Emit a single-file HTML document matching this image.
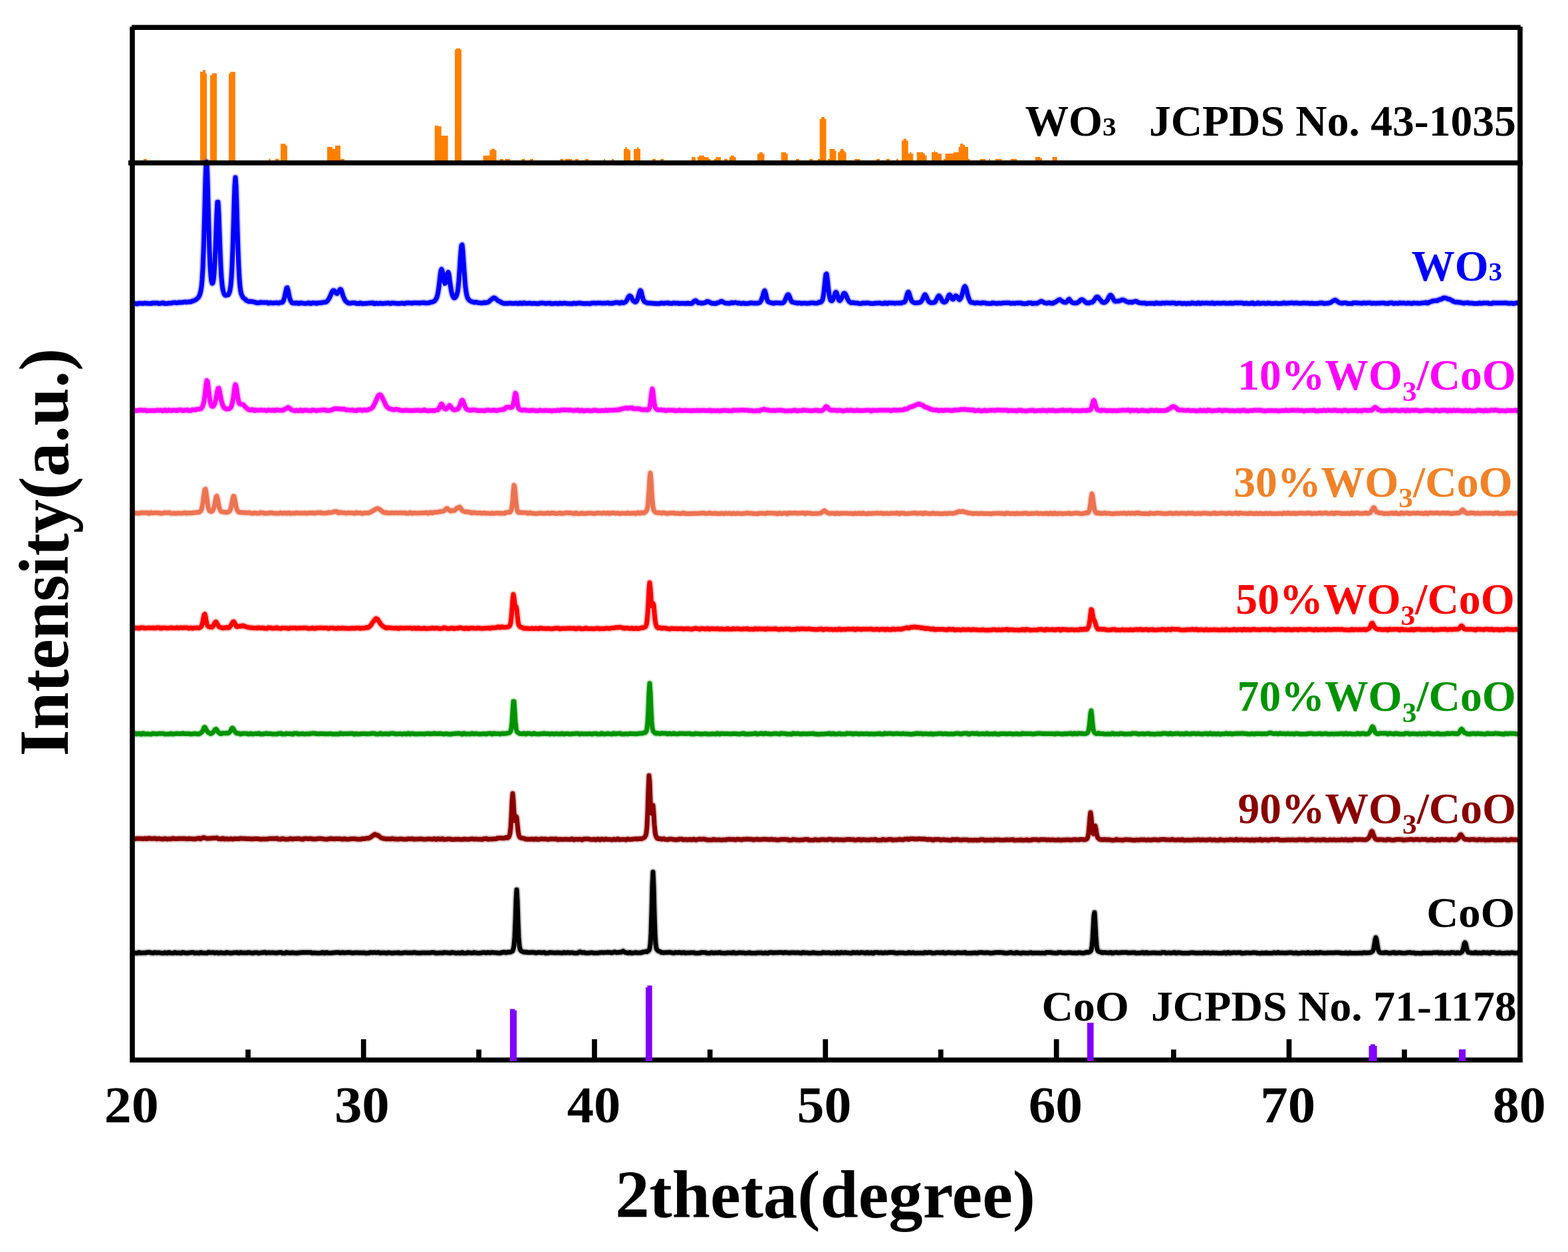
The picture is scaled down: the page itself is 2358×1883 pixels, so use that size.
<!DOCTYPE html>
<html><head><meta charset="utf-8"><title>XRD patterns</title>
<style>html,body{margin:0;padding:0;background:#fff;overflow:hidden}svg{display:block}</style>
</head><body>
<svg width="2358" height="1883" viewBox="0 0 2358 1883"><rect width="2358" height="1883" fill="#fff"/><path d="M215.9,239.0H220.6V245H215.9ZM301.0,108.0H305.0V245H301.0ZM305.0,105.3H309.0V245H305.0ZM309.0,110.5H311.0V245H309.0ZM316.0,113.0H319.0V245H316.0ZM319.0,110.2H326.1V245H319.0ZM344.0,110.5H346.5V245H344.0ZM346.5,108.0H353.8V245H346.5ZM404.2,238.8H406.8V245H404.2ZM414.2,238.8H419.4V245H414.2ZM422.0,216.2H429.5V245H422.0ZM429.5,219.0H432.0V245H429.5ZM492.0,221.0H500.0V245H492.0ZM500.0,224.0H504.0V245H500.0ZM504.0,219.0H512.0V245H504.0ZM512.0,239.0H518.0V245H512.0ZM653.7,189.0H659.0V245H653.7ZM659.0,190.0H663.7V245H659.0ZM663.7,204.0H673.7V245H663.7ZM684.0,74.5H686.0V245H684.0ZM686.0,72.8H692.0V245H686.0ZM692.0,74.5H694.0V245H692.0ZM726.6,234.0H736.3V245H726.6ZM736.3,226.0H739.0V245H736.3ZM739.0,223.7H744.0V245H739.0ZM744.0,226.0H746.6V245H744.0ZM751.6,239.0H757.0V245H751.6ZM759.4,239.0H767.0V245H759.4ZM784.5,239.0H789.4V245H784.5ZM797.0,239.0H802.0V245H797.0ZM842.3,239.0H847.3V245H842.3ZM850.0,239.0H860.0V245H850.0ZM865.0,239.0H870.0V245H865.0ZM880.0,239.0H885.0V245H880.0ZM908.0,239.0H910.0V245H908.0ZM920.0,239.0H923.0V245H920.0ZM938.0,224.0H940.2V245H938.0ZM940.2,221.4H942.8V245H940.2ZM942.8,224.0H945.5V245H942.8ZM945.5,226.0H948.0V245H945.5ZM953.0,224.0H958.0V245H953.0ZM958.0,221.4H960.5V245H958.0ZM960.5,224.0H963.0V245H960.5ZM981.0,239.0H986.0V245H981.0ZM993.0,239.0H998.0V245H993.0ZM1040.0,236.2H1046.0V245H1040.0ZM1049.0,236.2H1051.0V245H1049.0ZM1051.0,234.0H1058.8V245H1051.0ZM1058.8,236.2H1065.7V245H1058.8ZM1065.7,239.0H1068.5V245H1065.7ZM1074.0,239.0H1076.5V245H1074.0ZM1076.5,236.2H1084.0V245H1076.5ZM1089.0,239.0H1094.0V245H1089.0ZM1096.8,236.2H1099.0V245H1096.8ZM1099.0,234.0H1104.0V245H1099.0ZM1104.0,236.2H1106.8V245H1104.0ZM1139.0,231.2H1142.0V245H1139.0ZM1142.0,228.9H1146.8V245H1142.0ZM1146.8,231.2H1149.5V245H1146.8ZM1174.7,228.9H1182.0V245H1174.7ZM1182.0,231.2H1184.7V245H1182.0ZM1197.0,239.0H1202.0V245H1197.0ZM1217.4,239.0H1222.3V245H1217.4ZM1230.0,239.0H1232.7V245H1230.0ZM1232.7,178.8H1235.2V245H1232.7ZM1235.2,176.0H1240.0V245H1235.2ZM1240.0,178.8H1242.5V245H1240.0ZM1245.0,239.0H1247.6V245H1245.0ZM1247.6,224.0H1255.0V245H1247.6ZM1255.0,226.5H1257.5V245H1255.0ZM1260.0,228.9H1262.6V245H1260.0ZM1262.6,226.5H1264.0V245H1262.6ZM1264.0,224.0H1268.2V245H1264.0ZM1268.2,226.5H1270.3V245H1268.2ZM1270.3,228.9H1272.6V245H1270.3ZM1285.3,239.0H1293.0V245H1285.3ZM1318.0,239.0H1323.0V245H1318.0ZM1333.0,239.0H1338.0V245H1333.0ZM1348.0,239.0H1350.8V245H1348.0ZM1356.0,211.4H1358.6V245H1356.0ZM1358.6,208.8H1363.1V245H1358.6ZM1363.1,211.4H1365.7V245H1363.1ZM1365.7,231.0H1368.0V245H1365.7ZM1368.0,229.0H1370.5V245H1368.0ZM1370.5,231.0H1373.2V245H1370.5ZM1378.7,229.0H1388.5V245H1378.7ZM1388.5,231.0H1391.0V245H1388.5ZM1391.0,234.0H1393.6V245H1391.0ZM1401.0,229.0H1404.8V245H1401.0ZM1404.8,226.4H1406.3V245H1404.8ZM1406.3,229.0H1410.3V245H1406.3ZM1410.3,231.0H1416.0V245H1410.3ZM1419.0,239.0H1421.6V245H1419.0ZM1421.6,231.0H1434.0V245H1421.6ZM1434.0,229.0H1441.7V245H1434.0ZM1441.7,221.0H1444.0V245H1441.7ZM1444.0,216.0H1448.5V245H1444.0ZM1448.5,218.0H1451.0V245H1448.5ZM1451.0,221.0H1456.0V245H1451.0ZM1456.0,239.0H1458.6V245H1456.0ZM1474.0,239.0H1482.0V245H1474.0ZM1487.0,239.0H1489.0V245H1487.0ZM1497.0,239.0H1506.6V245H1497.0ZM1519.6,239.0H1529.0V245H1519.6ZM1557.0,236.1H1564.5V245H1557.0ZM1564.5,238.0H1567.0V245H1564.5ZM1582.6,236.1H1589.7V245H1582.6Z" fill="#ff8000"/><g fill="none" stroke-linejoin="round" stroke-linecap="butt"><path d="M199,456.3l1 0l1 0l1 .1l1 0l1 0l1 .5l1 0l1 0l1-.6l1 0l1 0l1 0l1 0l1 0l1 .1l1 0l1 0l1-.5l1 0l1 0l1 .4l1 0l1 0l1 .1l1 0l1 0l1 .2l1 0l1 0l1-.9l1 0l1 0l1 .3l1-.1l1 0l1-.2l1 0l1 0l1 .8l1 0l1 0l1-.2l1 0l1 0l1-.8l1 0l1 0l1 1.1l1 0l1 0l1-.1l1 0l1 0l1-.4l1 0l1-.1l1 0l1 0l1-.1l1-.6l1 0l1 0l1-.2l1 0l1-.1l1 .6l1 0l1-.1l1-.6l1 0l1-.1l1 .1l1 0l1-.1l1 0l1-.1l1-.1l1-.3l1-.1l1-.1l1 .4l1-.1l1-.1l1-.2l1-.2l1-.1l1 .3l1-.3l1-.2l1-.7l1-.3l1-.3l1-.3l1-.4l1-.6l1-.8l1-.8l1-.9l1-.9l1-1.4l1-1.9l1-2.9l1-4l1-6.3l1-10.6l1-16.5l1-24.3l1-31.9l1-39.1l1-38.8l1-26l1-.4l1 25.3l1 37.8l1 38.3l1 31.7l1 23l1 15l1 8.5l1 3l1-.5l1-4.7l1-9.7l1-15.6l1-21.7l1-26.3l1-26.2l1-17.4l1 .1l1 18.2l1 27l1 28.1l1 22.7l1 16.8l1 10.9l1 7l1 4.2l1 3l1 1.4l1 .8l1-.2l1 0l1-.4l1-.1l1-1.3l1-2.3l1-4.1l1-6.7l1-11.2l1-18.3l1-24.8l1-31.6l1-34.6l1-29.6l1-12.1l1 13.1l1 30l1 35.1l1 31.3l1 25l1 17.7l1 12.1l1 7.1l1 4.3l1 2.1l1 1.9l1 1.4l1 .7l1 .8l1 .7l1 1.3l1 .5l1 .4l1 .6l1 .3l1 .3l1-.4l1 .2l1 .2l1 0l1 .1l1 .2l1 .4l1 .1l1 .1l1 .8l1 .1l1 .1l1-.2l1 .1l1 0l1-.7l1 .1l1 0l1 .2l1 .1l1 0l1-.1l1 0l1 0l1 0l1 0l1 .1l1 .9l1 0l1 0l1-.7l1 0l1 0l1 .4l1 .1l1 0l1-.2l1 0l1 0l1-.3l1 0l1-.1l1 .7l1-.1l1-.1l1-.8l1-.1l1-.2l1 .3l1-.6l1-1.3l1-2.9l1-3.5l1-4.8l1-4.8l1-3.9l1-.4l1 3.1l1 5.1l1 4.9l1 4l1 2.5l1 1.4l1 1.6l1 .4l1 .2l1-.1l1 .1l1 .1l1-.5l1 0l1 .1l1 .7l1 .1l1 0l1-.8l1 0l1 0l1 .3l1 0l1 0l1 .5l1 0l1 0l1-.2l1 0l1 0l1-.7l1 0l1 0l1 1.1l1 0l1 0l1-.9l1-.1l1 0l1 .1l1 0l1-.1l1 .6l1 0l1 0l1-.6l1 0l1 0l1-.1l1-.1l1 0l1-.4l1 0l1-.1l1-.2l1-.2l1-.3l1 .2l1-.6l1-.8l1-1.5l1-1.4l1-1.7l1-1.6l1-2.3l1-2.3l1-2.4l1-1.8l1-1l1-.1l1 .5l1 1.2l1 1.8l1 .9l1 .2l1-1.2l1-1.3l1-1.8l1-1.6l1-.6l1 .9l1 2.8l1 3.3l1 3.4l1 2.2l1 2.4l1 1.8l1 1.2l1 .8l1 .5l1 1.2l1 .2l1 .2l1 0l1 .1l1 0l1-.6l1 .1l1 0l1 0l1 0l1 0l1 .7l1 .1l1 0l1 .2l1 .1l1 0l1-.9l1 0l1 0l1 .9l1 .1l1 0l1-.1l1 0l1 0l1-.3l1 0l1 0l1-.2l1 0l1 0l1-.4l1 0l1 0l1-.1l1 0l1 0l1 1.2l1 0l1 0l1-.9l1 0l1 0l1 .6l1 0l1 0l1-.6l1 0l1 0l1 .7l1 0l1 0l1-.3l1 0l1 0l1-.3l1 0l1 0l1-.2l1 0l1 0l1 .7l1 0l1 0l1-.8l1 0l1 0l1 .2l1 0l1 0l1 .4l1 0l1 0l1 .3l1 0l1 0l1-.3l1 0l1 0l1-.4l1 0l1 0l1 .7l1 0l1 0l1-.8l1 0l1-.1l1-.2l1 0l1 0l1 .3l1 0l1 0l1 .2l1-.1l1 0l1-.5l1 0l1 0l1 .1l1 0l1 0l1 .2l1 0l1-.1l1 .3l1-.1l1 0l1-.6l1 0l1 0l1 .2l1-.1l1 0l1 .5l1 0l1-.1l1 0l1-.1l1-.1l1-.5l1-.2l1-.2l1-.1l1-.3l1-.3l1-.5l1-.5l1-.6l1-1.5l1-1.5l1-2.3l1-3.6l1-5.1l1-6.7l1-8.3l1-8.7l1-7.3l1-2.3l1 2l1 5.7l1 6.3l1 5l1 2.3l1-.6l1-3.6l1-5.2l1-5.9l1-1.6l1 2.8l1 7l1 7.4l1 6.9l1 5.4l1 4l1 2.7l1 1.8l1 .6l1 0l1-1.1l1-1.5l1-2.7l1-3.6l1-6.9l1-9.9l1-14l1-15l1-14.6l1-9.5l1-.9l1 8.6l1 14.6l1 15.3l1 13.6l1 11l1 7.7l1 5.2l1 3.1l1 2.1l1 1.3l1 .9l1 .7l1 .5l1 .6l1 .3l1 .3l1 .4l1 .2l1 .2l1-.5l1 .1l1 .1l1 .5l1 .1l1 .1l1 .3l1 0l1 .1l1 0l1 0l1 0l1-.6l1 0l1 0l1 .3l1-.2l1-.2l1-.2l1-.4l1-.6l1-1l1-.7l1-.9l1-.8l1-.8l1-.7l1-.8l1-.1l1 .2l1 .7l1 .7l1 .9l1 .9l1 .9l1 .8l1 0l1 .6l1 .4l1 1.1l1 .2l1 .2l1 .6l1 .1l1 .1l1-.1l1 0l1 .1l1-.2l1 0l1 .1l1-.4l1 0l1 0l1 .4l1 .1l1 0l1-.2l1 0l1 0l1-.1l1 0l1 0l1 .5l1 0l1 0l1-.9l1 0l1 0l1 .8l1 0l1 0l1-.9l1 0l1 0l1 .7l1 0l1 0l1-.1l1 0l1 0l1-.3l1 0l1 0l1 .6l1 0l1 0l1-.3l1 0l1 0l1 .2l1 0l1 0l1 .4l1 0l1 0l1-.8l1 0l1 0l1-.3l1 0l1 0l1 .3l1 0l1 0l1 .5l1 0l1 0l1-.6l1 0l1 0l1 0l1 0l1 0l1 .9l1 0l1 0l1-.3l1 0l1 0l1-.3l1 0l1 0l1 .5l1 0l1 0l1-.6l1 0l1 0l1 .4l1 0l1 0l1-.6l1 0l1 0l1 .3l1 0l1 0l1 .4l1 0l1 0l1 .2l1 0l1 0l1-.1l1 0l1 0l1-.6l1 0l1 0l1 .3l1 0l1 0l1-.4l1 0l1 0l1-.2l1 0l1 0l1 .5l1-.1l1 0l1 .5l1-.1l1 0l1 .1l1-.1l1 0l1-.1l1 0l1 0l1 .2l1 0l1 0l1-.8l1 0l1 0l1-.1l1-.1l1 0l1 .4l1-.1l1 0l1-.2l1 0l1 0l1-.1l1 0l1 0l1 .2l1 0l1 0l1 .2l1 0l1 0l1-.2l1 0l1-.1l1-.2l1 0l1 0l1 .6l1 0l1-.1l1 .2l1 0l1 0l1-.7l1 0l1 0l1-.5l1 0l1 0l1-.1l1 0l1 0l1 .9l1 0l1 0l1-1l1-.1l1 0l1 .7l1-.2l1-.2l1-.6l1-.7l1-1.1l1-1.9l1-2l1-2.1l1-1.1l1-.7l1 .6l1 .8l1 2.1l1 2l1 1.6l1 1l1 .6l1 .6l1-.2l1-.6l1-1.9l1-2.4l1-3.6l1-3.2l1-3.8l1-1.6l1 .9l1 3.9l1 4.3l1 3.5l1 2.5l1 1.5l1 .7l1 .4l1 .3l1 .8l1 .1l1 .1l1-.1l1 0l1 .1l1 .2l1 0l1 .1l1 0l1 0l1 .1l1 .2l1 0l1 0l1 .2l1 0l1 0l1-.3l1 0l1 0l1-.6l1 0l1 0l1 .4l1 0l1 0l1-.4l1 0l1 0l1-.2l1 0l1 0l1 .6l1 0l1 0l1 .3l1 0l1 0l1-.7l1 0l1 0l1 .1l1 0l1 0l1 .1l1 0l1 0l1 .5l1 0l1 0l1-.3l1 0l1 0l1 .1l1 0l1 0l1 .2l1 0l1 0l1-.5l1 0l1 0l1 .5l1 0l1-.1l1 .1l1-.1l1-.2l1-1.5l1-.8l1-1.1l1-.2l1-.6l1 .6l1 .9l1 1.2l1 .8l1-.3l1 .2l1 .1l1 .4l1 0l1-.1l1 .1l1-.2l1-.3l1-.1l1-.4l1-.4l1-1l1-.1l1 .1l1 .6l1 .4l1 .4l1 .8l1 .3l1 .2l1 0l1 .1l1 0l1 .2l1 0l1-.1l1-.7l1-.2l1-.3l1-.2l1-.4l1-.4l1-.9l1-.1l1 .1l1 .9l1 .5l1 .4l1 .5l1 .3l1 .2l1-.1l1 .1l1 0l1 .1l1 0l1 0l1-.7l1-.2l1-.2l1 .6l1-.3l1-.2l1-.1l1 0l1 .1l1 .3l1 .3l1 .2l1-.3l1 .2l1 .1l1 .4l1 0l1 0l1-.5l1 0l1 0l1 .7l1 0l1 0l1-.1l1 0l1 0l1-.6l1 0l1 0l1-.3l1-.1l1 0l1 .4l1 0l1 0l1 .1l1 0l1-.1l1 .2l1-.1l1-.1l1-.5l1-.2l1-.6l1-1.5l1-1.8l1-2.8l1-2.9l1-4.1l1-3l1-1.2l1 2.6l1 4l1 4.8l1 3l1 2l1 .4l1 .5l1 .3l1 .4l1 .1l1 .1l1 .6l1 0l1 .1l1-.8l1 0l1 0l1 0l1 0l1 0l1 .4l1 0l1-.1l1 .2l1-.1l1-.1l1-.2l1-.5l1-.8l1-1.6l1-1.9l1-2.4l1-2.3l1-2.1l1-.9l1 .4l1 2.1l1 2.6l1 2.9l1 1.9l1 1.4l1-.2l1 .5l1 .3l1 .3l1 .1l1 .1l1 .4l1 .1l1 0l1-.3l1 .1l1 0l1 .5l1 0l1 0l1-.1l1 0l1 0l1-.1l1 0l1 0l1 .3l1 0l1 0l1-.3l1 0l1-.1l1-.3l1 0l1 0l1 0l1 0l1 0l1 .5l1-.1l1-.1l1 0l1-.1l1-.1l1-1l1-.2l1-.2l1 .4l1-.7l1-1.2l1-2.3l1-4.3l1-6.7l1-9.6l1-9.9l1-7.2l1-.8l1 6.2l1 9.5l1 8.9l1 7.2l1 4.6l1 2.9l1 1l1 .1l1-.9l1-1.8l1-2.8l1-3.2l1-3.1l1-1.3l1 .7l1 3l1 3.4l1 3.8l1 1.5l1 .5l1-1.1l1-1.3l1-2l1-2.5l1-2.4l1-1.8l1-.2l1 .8l1 1.9l1 2.2l1 2.6l1 2.2l1 1.6l1 1.3l1 .8l1 .7l1 .4l1 .2l1-.6l1 .1l1 0l1 .6l1 .1l1 0l1-.1l1 .1l1 0l1 .7l1 0l1 0l1 0l1 0l1 0l1-.8l1 0l1 0l1 .3l1 0l1 0l1-.4l1 0l1 0l1 .4l1 0l1 0l1 .4l1 .1l1 0l1 .1l1 0l1 0l1-.5l1 0l1 0l1-.2l1 0l1 0l1-.2l1 0l1 0l1 .5l1 0l1 0l1 .4l1 0l1 0l1-1l1 0l1 0l1 .8l1 0l1 0l1-.9l1 0l1 0l1 .2l1 0l1 0l1 0l1 0l1 0l1 .5l1 0l1 0l1-.5l1 0l1 0l1 0l1 0l1-.1l1 .3l1-.1l1-.1l1-.7l1-.2l1-.4l1 .1l1-1.3l1-2.2l1-3.8l1-3.7l1-3.3l1-1l1 1.4l1 3.3l1 3.4l1 3.1l1 2.1l1 1.2l1 .7l1 .4l1 .5l1 .1l1 .1l1-.1l1 0l1-.1l1-.1l1-.1l1-.3l1-.4l1-.8l1-1.2l1-1.6l1-2.2l1-2.3l1-2.4l1-.8l1 .8l1 1.9l1 2.4l1 2.2l1 2.2l1 1.2l1 .8l1 .4l1 .2l1 .1l1-.1l1-.1l1-.2l1 0l1-.7l1-1.1l1-1.9l1-2l1-2.1l1-1.5l1-.7l1 .7l1 1l1 2.1l1 1.9l1 2.1l1 1l1 .6l1 .2l1-.2l1-.6l1-1l1-1.7l1-2.1l1-2.9l1-1.9l1-.8l1 .6l1 1.6l1 1.8l1 2.2l1 .6l1-.3l1-2l1-1.6l1-1.4l1 .3l1 .6l1 1.5l1 1.5l1 1.4l1 .6l1-1.2l1-1.3l1-2.5l1-3.2l1-4l1-4l1-2.6l1-1.1l1 1.2l1 2.7l1 4.1l1 4.2l1 3.4l1 2.9l1 2l1 2.3l1 .8l1 .6l1-.2l1 .2l1 .2l1 .5l1 .1l1 .1l1-.7l1 0l1 0l1 .4l1 .1l1 0l1 .4l1 0l1 0l1-.8l1 0l1 0l1 .3l1 0l1 0l1 .6l1 0l1 0l1 .3l1 0l1 0l1 .1l1 0l1 0l1-1l1 0l1 0l1 .5l1 0l1 0l1 .3l1 0l1 0l1-.3l1 0l1 0l1 .2l1 0l1 0l1-.6l1 0l1 0l1-.1l1 0l1 0l1 0l1 0l1 0l1-.1l1 0l1 0l1 .7l1 0l1 0l1-.1l1 0l1 0l1 .1l1 0l1 0l1-.5l1 0l1 0l1 0l1 0l1 0l1 0l1 0l1 0l1 .8l1 0l1 0l1 .2l1 0l1 0l1-.1l1 0l1 0l1-1l1 0l1 0l1-.1l1 0l1 0l1 1.1l1 0l1 0l1-.6l1 0l1-.1l1 .4l1-.1l1-.1l1-.8l1-.4l1-.5l1-.5l1-.6l1-.2l1 .3l1 .5l1 .7l1 .4l1 .4l1 .2l1 .3l1 .1l1 0l1-.7l1 0l1 0l1 .8l1 0l1 0l1 .1l1-.1l1-.1l1-1l1-.2l1-.5l1-.3l1-.8l1-.9l1-.5l1-.7l1-.3l1-.2l1 .7l1 .9l1 .6l1 .8l1 .5l1 .4l1 .2l1-.1l1 .1l1-.6l1-.9l1-1.8l1-1l1-.5l1 1.5l1 1.1l1 1.2l1 .8l1 .7l1 .4l1 .1l1 0l1 0l1 .1l1-.1l1-.3l1-.7l1-.6l1-.7l1-1.2l1-.9l1-.6l1-.1l1 .3l1 .6l1 .8l1 .9l1 .7l1 1.2l1 .4l1 .2l1-.1l1 .1l1 0l1-.8l1-.1l1-.3l1 .3l1-.6l1-.9l1-1.3l1-1.4l1-1.4l1-1.4l1-1l1-.4l1 .4l1 1l1 1.4l1 .9l1 1.3l1 1.1l1 1.4l1 .6l1 .4l1 .1l1-.1l1-.3l1-.8l1-.9l1-1.3l1-1.7l1-2l1-1.9l1-1.6l1-.6l1 .6l1 1l1 2l1 1.9l1 2l1 1.2l1 .8l1-.3l1 .1l1-.1l1 .1l1-.3l1-.3l1-.2l1-.3l1-.3l1-.7l1-.1l1 .1l1 .6l1 .3l1 .4l1 .8l1 .4l1 .4l1 .3l1 .3l1 .2l1-.4l1 0l1-.1l1 .7l1-.3l1-.3l1-.7l1-.2l1-.1l1-.3l1 .3l1 .4l1 .9l1 .3l1 .4l1 .1l1 .2l1 .2l1 0l1 .1l1 0l1-.1l1 0l1 0l1 .8l1 0l1 0l1-.4l1 0l1 0l1 0l1 .1l1 0l1 0l1 0l1 0l1 .3l1 0l1 0l1-1.1l1 0l1 0l1 .7l1 0l1 0l1 .1l1 0l1 .1l1-.6l1 0l1 0l1 .2l1 0l1 0l1-.5l1 0l1 0l1 .2l1 0l1 0l1 .2l1 0l1 0l1-.3l1 0l1 0l1 .2l1 0l1 0l1 .8l1 0l1 0l1-.5l1 0l1 0l1 0l1 0l1 0l1 .5l1 .1l1 0l1-.5l1 0l1 0l1 .5l1 0l1 0l1-.4l1 0l1 0l1 .2l1 0l1 0l1-.9l1 0l1 0l1 .6l1 0l1 0l1 .2l1 0l1 0l1-.9l1 0l1 0l1 1.1l1 0l1 0l1-.9l1 0l1 0l1 .4l1 0l1 0l1-.4l1 0l1 0l1 .4l1 0l1 0l1 .1l1 0l1 0l1-.6l1 0l1 0l1 1l1 0l1 0l1-.6l1 0l1 0l1 .1l1 0l1 0l1 .1l1 0l1 0l1-.3l1 0l1 0l1-.1l1 0l1 0l1 .5l1 0l1 0l1-.1l1 0l1 0l1-.4l1 0l1 0l1 .5l1 0l1 0l1-.5l1 0l1 0l1-.3l1 0l1 0l1 .3l1 0l1 0l1-.3l1 0l1 0l1 .2l1 0l1 0l1 .7l1 0l1 0l1-.4l1 0l1 0l1 .6l1 0l1 0l1-.2l1 0l1 0l1-.9l1 0l1 0l1 1.2l1 0l1 0l1-.1l1 0l1 0l1-1l1 0l1 0l1 1l1 0l1 0l1-.6l1 0l1 0l1 .1l1 0l1 0l1 .5l1 0l1 0l1-.8l1 0l1 0l1 .3l1 0l1 0l1 .5l1 0l1 0l1-.3l1 0l1 0l1-.3l1 0l1 0l1 .6l1 0l1 0l1-.1l1 0l1-.1l1-.2l1 0l1 0l1-.6l1 0l1 0l1 .6l1 0l1 0l1-.2l1 0l1 0l1-.3l1 0l1 0l1-.2l1 0l1 0l1 .6l1 0l1 0l1-.5l1 0l1 0l1 .4l1 0l1 0l1 .3l1 0l1 0l1-.3l1 0l1 0l1-.2l1 0l1 0l1 .3l1 0l1 0l1-.1l1 0l1-.1l1 .5l1 0l1 0l1-.3l1 0l1 0l1 .5l1 0l1 0l1 0l1 0l1 0l1-.3l1 0l1 0l1-.6l1 0l1 0l1-.2l1 0l1 0l1 .9l1 0l1 0l1-.1l1 0l1-.1l1-.2l1 0l1-.1l1-.4l1-.2l1-.3l1-.6l1-.6l1-.8l1-.3l1-.7l1-.5l1-.2l1 .4l1 .7l1 .9l1 .7l1 .7l1 .5l1 .3l1 .2l1 .3l1 .1l1 .1l1-.7l1 0l1 .1l1 0l1 0l1 .1l1 .8l1 .1l1 0l1-.1l1 0l1 0l1 0l1 0l1 0l1-1l1 0l1 0l1 0l1 0l1 0l1 .2l1 0l1 0l1 .2l1 0l1 0l1 .3l1 0l1 0l1-.7l1 0l1 0l1 .6l1 0l1 0l1-.6l1 0l1 0l1 0l1 0l1 0l1 .7l1 0l1 0l1-.1l1 0l1 0l1 .1l1 0l1 0l1-.3l1 0l1 0l1 .1l1 0l1 0l1-.3l1 0l1 0l1 .1l1 0l1 0l1 .5l1 0l1 0l1 .1l1 0l1 0l1-.9l1 0l1 0l1 0l1 0l1 0l1 .9l1 0l1 0l1-.3l1 0l1 0l1 .2l1 0l1 0l1-.7l1 0l1 0l1 .3l1 0l1 0l1-.2l1 0l1 0l1 .6l1 0l1 0l1-.5l1 0l1 0l1 .3l1 0l1 0l1 .4l1 0l1 0l1-.8l1 0l1 0l1 .2l1 0l1 0l1 .2l1 0l1 0l1 .2l1 0l1 0l1-.6l1 0l1 0l1-.1l1-.1l1 0l1-.4l1 0l1 0l1 .8l1-.1l1-.1l1-1.1l1-.3l1-.3l1-.3l1-.5l1-.4l1 .1l1-.3l1-.2l1-.2l1 0l1-.1l1 .1l1-.2l1-.4l1-.8l1-.4l1-.4l1 .2l1-.4l1-.4l1-1.1l1-.2l1-.1l1 .2l1 0l1 .2l1 .8l1 .3l1 .4l1-.2l1 .4l1 .5l1 .7l1 .4l1 .5l1 .9l1 .3l1 .4l1 .3l1 .3l1 .2l1-.3l1 .2l1 .2l1 0l1 .1l1 .1l1 .3l1 .1l1 .1l1 .5l1 0l1 0l1-.4l1 0l1 .1l1-.3l1 0l1 0l1 .7l1 .1l1 0l1-.2l1 0l1 0l1 .4l1 .1l1 0l1 0l1 0l1 0l1 0l1 0l1 0l1-.6l1 0l1 0l1 .5l1 0l1 0l1-.6l1 0l1 0l1 0l1 0l1 0l1 .1l1 0l1 0l1 .7l1 0l1 0l1-.1l1 0l1 0l1-.8l1 0l1 0l1 .2l1 0l1 0l1 0l1 0l1 0l1 0l1 0l1 0l1 0l1 0l1 0l1 0l1 0l1 0l1-.2l1 0l1 0l1 .4l1 0l1 0l1 .3l1 0l1 0l1-.3l1 0l1 0l1 .4l1 0l1 0l1-.4l1 0l1 0l1-.4l1 0l1 0" stroke="#0000ff" stroke-width="11.0" stroke-opacity="0.22"/><path d="M199,456.3l1 0l1 0l1 .1l1 0l1 0l1 .5l1 0l1 0l1-.6l1 0l1 0l1 0l1 0l1 0l1 .1l1 0l1 0l1-.5l1 0l1 0l1 .4l1 0l1 0l1 .1l1 0l1 0l1 .2l1 0l1 0l1-.9l1 0l1 0l1 .3l1-.1l1 0l1-.2l1 0l1 0l1 .8l1 0l1 0l1-.2l1 0l1 0l1-.8l1 0l1 0l1 1.1l1 0l1 0l1-.1l1 0l1 0l1-.4l1 0l1-.1l1 0l1 0l1-.1l1-.6l1 0l1 0l1-.2l1 0l1-.1l1 .6l1 0l1-.1l1-.6l1 0l1-.1l1 .1l1 0l1-.1l1 0l1-.1l1-.1l1-.3l1-.1l1-.1l1 .4l1-.1l1-.1l1-.2l1-.2l1-.1l1 .3l1-.3l1-.2l1-.7l1-.3l1-.3l1-.3l1-.4l1-.6l1-.8l1-.8l1-.9l1-.9l1-1.4l1-1.9l1-2.9l1-4l1-6.3l1-10.6l1-16.5l1-24.3l1-31.9l1-39.1l1-38.8l1-26l1-.4l1 25.3l1 37.8l1 38.3l1 31.7l1 23l1 15l1 8.5l1 3l1-.5l1-4.7l1-9.7l1-15.6l1-21.7l1-26.3l1-26.2l1-17.4l1 .1l1 18.2l1 27l1 28.1l1 22.7l1 16.8l1 10.9l1 7l1 4.2l1 3l1 1.4l1 .8l1-.2l1 0l1-.4l1-.1l1-1.3l1-2.3l1-4.1l1-6.7l1-11.2l1-18.3l1-24.8l1-31.6l1-34.6l1-29.6l1-12.1l1 13.1l1 30l1 35.1l1 31.3l1 25l1 17.7l1 12.1l1 7.1l1 4.3l1 2.1l1 1.9l1 1.4l1 .7l1 .8l1 .7l1 1.3l1 .5l1 .4l1 .6l1 .3l1 .3l1-.4l1 .2l1 .2l1 0l1 .1l1 .2l1 .4l1 .1l1 .1l1 .8l1 .1l1 .1l1-.2l1 .1l1 0l1-.7l1 .1l1 0l1 .2l1 .1l1 0l1-.1l1 0l1 0l1 0l1 0l1 .1l1 .9l1 0l1 0l1-.7l1 0l1 0l1 .4l1 .1l1 0l1-.2l1 0l1 0l1-.3l1 0l1-.1l1 .7l1-.1l1-.1l1-.8l1-.1l1-.2l1 .3l1-.6l1-1.3l1-2.9l1-3.5l1-4.8l1-4.8l1-3.9l1-.4l1 3.1l1 5.1l1 4.9l1 4l1 2.5l1 1.4l1 1.6l1 .4l1 .2l1-.1l1 .1l1 .1l1-.5l1 0l1 .1l1 .7l1 .1l1 0l1-.8l1 0l1 0l1 .3l1 0l1 0l1 .5l1 0l1 0l1-.2l1 0l1 0l1-.7l1 0l1 0l1 1.1l1 0l1 0l1-.9l1-.1l1 0l1 .1l1 0l1-.1l1 .6l1 0l1 0l1-.6l1 0l1 0l1-.1l1-.1l1 0l1-.4l1 0l1-.1l1-.2l1-.2l1-.3l1 .2l1-.6l1-.8l1-1.5l1-1.4l1-1.7l1-1.6l1-2.3l1-2.3l1-2.4l1-1.8l1-1l1-.1l1 .5l1 1.2l1 1.8l1 .9l1 .2l1-1.2l1-1.3l1-1.8l1-1.6l1-.6l1 .9l1 2.8l1 3.3l1 3.4l1 2.2l1 2.4l1 1.8l1 1.2l1 .8l1 .5l1 1.2l1 .2l1 .2l1 0l1 .1l1 0l1-.6l1 .1l1 0l1 0l1 0l1 0l1 .7l1 .1l1 0l1 .2l1 .1l1 0l1-.9l1 0l1 0l1 .9l1 .1l1 0l1-.1l1 0l1 0l1-.3l1 0l1 0l1-.2l1 0l1 0l1-.4l1 0l1 0l1-.1l1 0l1 0l1 1.2l1 0l1 0l1-.9l1 0l1 0l1 .6l1 0l1 0l1-.6l1 0l1 0l1 .7l1 0l1 0l1-.3l1 0l1 0l1-.3l1 0l1 0l1-.2l1 0l1 0l1 .7l1 0l1 0l1-.8l1 0l1 0l1 .2l1 0l1 0l1 .4l1 0l1 0l1 .3l1 0l1 0l1-.3l1 0l1 0l1-.4l1 0l1 0l1 .7l1 0l1 0l1-.8l1 0l1-.1l1-.2l1 0l1 0l1 .3l1 0l1 0l1 .2l1-.1l1 0l1-.5l1 0l1 0l1 .1l1 0l1 0l1 .2l1 0l1-.1l1 .3l1-.1l1 0l1-.6l1 0l1 0l1 .2l1-.1l1 0l1 .5l1 0l1-.1l1 0l1-.1l1-.1l1-.5l1-.2l1-.2l1-.1l1-.3l1-.3l1-.5l1-.5l1-.6l1-1.5l1-1.5l1-2.3l1-3.6l1-5.1l1-6.7l1-8.3l1-8.7l1-7.3l1-2.3l1 2l1 5.7l1 6.3l1 5l1 2.3l1-.6l1-3.6l1-5.2l1-5.9l1-1.6l1 2.8l1 7l1 7.4l1 6.9l1 5.4l1 4l1 2.7l1 1.8l1 .6l1 0l1-1.1l1-1.5l1-2.7l1-3.6l1-6.9l1-9.9l1-14l1-15l1-14.6l1-9.5l1-.9l1 8.6l1 14.6l1 15.3l1 13.6l1 11l1 7.7l1 5.2l1 3.1l1 2.1l1 1.3l1 .9l1 .7l1 .5l1 .6l1 .3l1 .3l1 .4l1 .2l1 .2l1-.5l1 .1l1 .1l1 .5l1 .1l1 .1l1 .3l1 0l1 .1l1 0l1 0l1 0l1-.6l1 0l1 0l1 .3l1-.2l1-.2l1-.2l1-.4l1-.6l1-1l1-.7l1-.9l1-.8l1-.8l1-.7l1-.8l1-.1l1 .2l1 .7l1 .7l1 .9l1 .9l1 .9l1 .8l1 0l1 .6l1 .4l1 1.1l1 .2l1 .2l1 .6l1 .1l1 .1l1-.1l1 0l1 .1l1-.2l1 0l1 .1l1-.4l1 0l1 0l1 .4l1 .1l1 0l1-.2l1 0l1 0l1-.1l1 0l1 0l1 .5l1 0l1 0l1-.9l1 0l1 0l1 .8l1 0l1 0l1-.9l1 0l1 0l1 .7l1 0l1 0l1-.1l1 0l1 0l1-.3l1 0l1 0l1 .6l1 0l1 0l1-.3l1 0l1 0l1 .2l1 0l1 0l1 .4l1 0l1 0l1-.8l1 0l1 0l1-.3l1 0l1 0l1 .3l1 0l1 0l1 .5l1 0l1 0l1-.6l1 0l1 0l1 0l1 0l1 0l1 .9l1 0l1 0l1-.3l1 0l1 0l1-.3l1 0l1 0l1 .5l1 0l1 0l1-.6l1 0l1 0l1 .4l1 0l1 0l1-.6l1 0l1 0l1 .3l1 0l1 0l1 .4l1 0l1 0l1 .2l1 0l1 0l1-.1l1 0l1 0l1-.6l1 0l1 0l1 .3l1 0l1 0l1-.4l1 0l1 0l1-.2l1 0l1 0l1 .5l1-.1l1 0l1 .5l1-.1l1 0l1 .1l1-.1l1 0l1-.1l1 0l1 0l1 .2l1 0l1 0l1-.8l1 0l1 0l1-.1l1-.1l1 0l1 .4l1-.1l1 0l1-.2l1 0l1 0l1-.1l1 0l1 0l1 .2l1 0l1 0l1 .2l1 0l1 0l1-.2l1 0l1-.1l1-.2l1 0l1 0l1 .6l1 0l1-.1l1 .2l1 0l1 0l1-.7l1 0l1 0l1-.5l1 0l1 0l1-.1l1 0l1 0l1 .9l1 0l1 0l1-1l1-.1l1 0l1 .7l1-.2l1-.2l1-.6l1-.7l1-1.1l1-1.9l1-2l1-2.1l1-1.1l1-.7l1 .6l1 .8l1 2.1l1 2l1 1.6l1 1l1 .6l1 .6l1-.2l1-.6l1-1.9l1-2.4l1-3.6l1-3.2l1-3.8l1-1.6l1 .9l1 3.9l1 4.3l1 3.5l1 2.5l1 1.5l1 .7l1 .4l1 .3l1 .8l1 .1l1 .1l1-.1l1 0l1 .1l1 .2l1 0l1 .1l1 0l1 0l1 .1l1 .2l1 0l1 0l1 .2l1 0l1 0l1-.3l1 0l1 0l1-.6l1 0l1 0l1 .4l1 0l1 0l1-.4l1 0l1 0l1-.2l1 0l1 0l1 .6l1 0l1 0l1 .3l1 0l1 0l1-.7l1 0l1 0l1 .1l1 0l1 0l1 .1l1 0l1 0l1 .5l1 0l1 0l1-.3l1 0l1 0l1 .1l1 0l1 0l1 .2l1 0l1 0l1-.5l1 0l1 0l1 .5l1 0l1-.1l1 .1l1-.1l1-.2l1-1.5l1-.8l1-1.1l1-.2l1-.6l1 .6l1 .9l1 1.2l1 .8l1-.3l1 .2l1 .1l1 .4l1 0l1-.1l1 .1l1-.2l1-.3l1-.1l1-.4l1-.4l1-1l1-.1l1 .1l1 .6l1 .4l1 .4l1 .8l1 .3l1 .2l1 0l1 .1l1 0l1 .2l1 0l1-.1l1-.7l1-.2l1-.3l1-.2l1-.4l1-.4l1-.9l1-.1l1 .1l1 .9l1 .5l1 .4l1 .5l1 .3l1 .2l1-.1l1 .1l1 0l1 .1l1 0l1 0l1-.7l1-.2l1-.2l1 .6l1-.3l1-.2l1-.1l1 0l1 .1l1 .3l1 .3l1 .2l1-.3l1 .2l1 .1l1 .4l1 0l1 0l1-.5l1 0l1 0l1 .7l1 0l1 0l1-.1l1 0l1 0l1-.6l1 0l1 0l1-.3l1-.1l1 0l1 .4l1 0l1 0l1 .1l1 0l1-.1l1 .2l1-.1l1-.1l1-.5l1-.2l1-.6l1-1.5l1-1.8l1-2.8l1-2.9l1-4.1l1-3l1-1.2l1 2.6l1 4l1 4.8l1 3l1 2l1 .4l1 .5l1 .3l1 .4l1 .1l1 .1l1 .6l1 0l1 .1l1-.8l1 0l1 0l1 0l1 0l1 0l1 .4l1 0l1-.1l1 .2l1-.1l1-.1l1-.2l1-.5l1-.8l1-1.6l1-1.9l1-2.4l1-2.3l1-2.1l1-.9l1 .4l1 2.1l1 2.6l1 2.9l1 1.9l1 1.4l1-.2l1 .5l1 .3l1 .3l1 .1l1 .1l1 .4l1 .1l1 0l1-.3l1 .1l1 0l1 .5l1 0l1 0l1-.1l1 0l1 0l1-.1l1 0l1 0l1 .3l1 0l1 0l1-.3l1 0l1-.1l1-.3l1 0l1 0l1 0l1 0l1 0l1 .5l1-.1l1-.1l1 0l1-.1l1-.1l1-1l1-.2l1-.2l1 .4l1-.7l1-1.2l1-2.3l1-4.3l1-6.7l1-9.6l1-9.9l1-7.2l1-.8l1 6.2l1 9.5l1 8.9l1 7.2l1 4.6l1 2.9l1 1l1 .1l1-.9l1-1.8l1-2.8l1-3.2l1-3.1l1-1.3l1 .7l1 3l1 3.4l1 3.8l1 1.5l1 .5l1-1.1l1-1.3l1-2l1-2.5l1-2.4l1-1.8l1-.2l1 .8l1 1.9l1 2.2l1 2.6l1 2.2l1 1.6l1 1.3l1 .8l1 .7l1 .4l1 .2l1-.6l1 .1l1 0l1 .6l1 .1l1 0l1-.1l1 .1l1 0l1 .7l1 0l1 0l1 0l1 0l1 0l1-.8l1 0l1 0l1 .3l1 0l1 0l1-.4l1 0l1 0l1 .4l1 0l1 0l1 .4l1 .1l1 0l1 .1l1 0l1 0l1-.5l1 0l1 0l1-.2l1 0l1 0l1-.2l1 0l1 0l1 .5l1 0l1 0l1 .4l1 0l1 0l1-1l1 0l1 0l1 .8l1 0l1 0l1-.9l1 0l1 0l1 .2l1 0l1 0l1 0l1 0l1 0l1 .5l1 0l1 0l1-.5l1 0l1 0l1 0l1 0l1-.1l1 .3l1-.1l1-.1l1-.7l1-.2l1-.4l1 .1l1-1.3l1-2.2l1-3.8l1-3.7l1-3.3l1-1l1 1.4l1 3.3l1 3.4l1 3.1l1 2.1l1 1.2l1 .7l1 .4l1 .5l1 .1l1 .1l1-.1l1 0l1-.1l1-.1l1-.1l1-.3l1-.4l1-.8l1-1.2l1-1.6l1-2.2l1-2.3l1-2.4l1-.8l1 .8l1 1.9l1 2.4l1 2.2l1 2.2l1 1.2l1 .8l1 .4l1 .2l1 .1l1-.1l1-.1l1-.2l1 0l1-.7l1-1.1l1-1.9l1-2l1-2.1l1-1.5l1-.7l1 .7l1 1l1 2.1l1 1.9l1 2.1l1 1l1 .6l1 .2l1-.2l1-.6l1-1l1-1.7l1-2.1l1-2.9l1-1.9l1-.8l1 .6l1 1.6l1 1.8l1 2.2l1 .6l1-.3l1-2l1-1.6l1-1.4l1 .3l1 .6l1 1.5l1 1.5l1 1.4l1 .6l1-1.2l1-1.3l1-2.5l1-3.2l1-4l1-4l1-2.6l1-1.1l1 1.2l1 2.7l1 4.1l1 4.2l1 3.4l1 2.9l1 2l1 2.3l1 .8l1 .6l1-.2l1 .2l1 .2l1 .5l1 .1l1 .1l1-.7l1 0l1 0l1 .4l1 .1l1 0l1 .4l1 0l1 0l1-.8l1 0l1 0l1 .3l1 0l1 0l1 .6l1 0l1 0l1 .3l1 0l1 0l1 .1l1 0l1 0l1-1l1 0l1 0l1 .5l1 0l1 0l1 .3l1 0l1 0l1-.3l1 0l1 0l1 .2l1 0l1 0l1-.6l1 0l1 0l1-.1l1 0l1 0l1 0l1 0l1 0l1-.1l1 0l1 0l1 .7l1 0l1 0l1-.1l1 0l1 0l1 .1l1 0l1 0l1-.5l1 0l1 0l1 0l1 0l1 0l1 0l1 0l1 0l1 .8l1 0l1 0l1 .2l1 0l1 0l1-.1l1 0l1 0l1-1l1 0l1 0l1-.1l1 0l1 0l1 1.1l1 0l1 0l1-.6l1 0l1-.1l1 .4l1-.1l1-.1l1-.8l1-.4l1-.5l1-.5l1-.6l1-.2l1 .3l1 .5l1 .7l1 .4l1 .4l1 .2l1 .3l1 .1l1 0l1-.7l1 0l1 0l1 .8l1 0l1 0l1 .1l1-.1l1-.1l1-1l1-.2l1-.5l1-.3l1-.8l1-.9l1-.5l1-.7l1-.3l1-.2l1 .7l1 .9l1 .6l1 .8l1 .5l1 .4l1 .2l1-.1l1 .1l1-.6l1-.9l1-1.8l1-1l1-.5l1 1.5l1 1.1l1 1.2l1 .8l1 .7l1 .4l1 .1l1 0l1 0l1 .1l1-.1l1-.3l1-.7l1-.6l1-.7l1-1.2l1-.9l1-.6l1-.1l1 .3l1 .6l1 .8l1 .9l1 .7l1 1.2l1 .4l1 .2l1-.1l1 .1l1 0l1-.8l1-.1l1-.3l1 .3l1-.6l1-.9l1-1.3l1-1.4l1-1.4l1-1.4l1-1l1-.4l1 .4l1 1l1 1.4l1 .9l1 1.3l1 1.1l1 1.4l1 .6l1 .4l1 .1l1-.1l1-.3l1-.8l1-.9l1-1.3l1-1.7l1-2l1-1.9l1-1.6l1-.6l1 .6l1 1l1 2l1 1.9l1 2l1 1.2l1 .8l1-.3l1 .1l1-.1l1 .1l1-.3l1-.3l1-.2l1-.3l1-.3l1-.7l1-.1l1 .1l1 .6l1 .3l1 .4l1 .8l1 .4l1 .4l1 .3l1 .3l1 .2l1-.4l1 0l1-.1l1 .7l1-.3l1-.3l1-.7l1-.2l1-.1l1-.3l1 .3l1 .4l1 .9l1 .3l1 .4l1 .1l1 .2l1 .2l1 0l1 .1l1 0l1-.1l1 0l1 0l1 .8l1 0l1 0l1-.4l1 0l1 0l1 0l1 .1l1 0l1 0l1 0l1 0l1 .3l1 0l1 0l1-1.1l1 0l1 0l1 .7l1 0l1 0l1 .1l1 0l1 .1l1-.6l1 0l1 0l1 .2l1 0l1 0l1-.5l1 0l1 0l1 .2l1 0l1 0l1 .2l1 0l1 0l1-.3l1 0l1 0l1 .2l1 0l1 0l1 .8l1 0l1 0l1-.5l1 0l1 0l1 0l1 0l1 0l1 .5l1 .1l1 0l1-.5l1 0l1 0l1 .5l1 0l1 0l1-.4l1 0l1 0l1 .2l1 0l1 0l1-.9l1 0l1 0l1 .6l1 0l1 0l1 .2l1 0l1 0l1-.9l1 0l1 0l1 1.1l1 0l1 0l1-.9l1 0l1 0l1 .4l1 0l1 0l1-.4l1 0l1 0l1 .4l1 0l1 0l1 .1l1 0l1 0l1-.6l1 0l1 0l1 1l1 0l1 0l1-.6l1 0l1 0l1 .1l1 0l1 0l1 .1l1 0l1 0l1-.3l1 0l1 0l1-.1l1 0l1 0l1 .5l1 0l1 0l1-.1l1 0l1 0l1-.4l1 0l1 0l1 .5l1 0l1 0l1-.5l1 0l1 0l1-.3l1 0l1 0l1 .3l1 0l1 0l1-.3l1 0l1 0l1 .2l1 0l1 0l1 .7l1 0l1 0l1-.4l1 0l1 0l1 .6l1 0l1 0l1-.2l1 0l1 0l1-.9l1 0l1 0l1 1.2l1 0l1 0l1-.1l1 0l1 0l1-1l1 0l1 0l1 1l1 0l1 0l1-.6l1 0l1 0l1 .1l1 0l1 0l1 .5l1 0l1 0l1-.8l1 0l1 0l1 .3l1 0l1 0l1 .5l1 0l1 0l1-.3l1 0l1 0l1-.3l1 0l1 0l1 .6l1 0l1 0l1-.1l1 0l1-.1l1-.2l1 0l1 0l1-.6l1 0l1 0l1 .6l1 0l1 0l1-.2l1 0l1 0l1-.3l1 0l1 0l1-.2l1 0l1 0l1 .6l1 0l1 0l1-.5l1 0l1 0l1 .4l1 0l1 0l1 .3l1 0l1 0l1-.3l1 0l1 0l1-.2l1 0l1 0l1 .3l1 0l1 0l1-.1l1 0l1-.1l1 .5l1 0l1 0l1-.3l1 0l1 0l1 .5l1 0l1 0l1 0l1 0l1 0l1-.3l1 0l1 0l1-.6l1 0l1 0l1-.2l1 0l1 0l1 .9l1 0l1 0l1-.1l1 0l1-.1l1-.2l1 0l1-.1l1-.4l1-.2l1-.3l1-.6l1-.6l1-.8l1-.3l1-.7l1-.5l1-.2l1 .4l1 .7l1 .9l1 .7l1 .7l1 .5l1 .3l1 .2l1 .3l1 .1l1 .1l1-.7l1 0l1 .1l1 0l1 0l1 .1l1 .8l1 .1l1 0l1-.1l1 0l1 0l1 0l1 0l1 0l1-1l1 0l1 0l1 0l1 0l1 0l1 .2l1 0l1 0l1 .2l1 0l1 0l1 .3l1 0l1 0l1-.7l1 0l1 0l1 .6l1 0l1 0l1-.6l1 0l1 0l1 0l1 0l1 0l1 .7l1 0l1 0l1-.1l1 0l1 0l1 .1l1 0l1 0l1-.3l1 0l1 0l1 .1l1 0l1 0l1-.3l1 0l1 0l1 .1l1 0l1 0l1 .5l1 0l1 0l1 .1l1 0l1 0l1-.9l1 0l1 0l1 0l1 0l1 0l1 .9l1 0l1 0l1-.3l1 0l1 0l1 .2l1 0l1 0l1-.7l1 0l1 0l1 .3l1 0l1 0l1-.2l1 0l1 0l1 .6l1 0l1 0l1-.5l1 0l1 0l1 .3l1 0l1 0l1 .4l1 0l1 0l1-.8l1 0l1 0l1 .2l1 0l1 0l1 .2l1 0l1 0l1 .2l1 0l1 0l1-.6l1 0l1 0l1-.1l1-.1l1 0l1-.4l1 0l1 0l1 .8l1-.1l1-.1l1-1.1l1-.3l1-.3l1-.3l1-.5l1-.4l1 .1l1-.3l1-.2l1-.2l1 0l1-.1l1 .1l1-.2l1-.4l1-.8l1-.4l1-.4l1 .2l1-.4l1-.4l1-1.1l1-.2l1-.1l1 .2l1 0l1 .2l1 .8l1 .3l1 .4l1-.2l1 .4l1 .5l1 .7l1 .4l1 .5l1 .9l1 .3l1 .4l1 .3l1 .3l1 .2l1-.3l1 .2l1 .2l1 0l1 .1l1 .1l1 .3l1 .1l1 .1l1 .5l1 0l1 0l1-.4l1 0l1 .1l1-.3l1 0l1 0l1 .7l1 .1l1 0l1-.2l1 0l1 0l1 .4l1 .1l1 0l1 0l1 0l1 0l1 0l1 0l1 0l1-.6l1 0l1 0l1 .5l1 0l1 0l1-.6l1 0l1 0l1 0l1 0l1 0l1 .1l1 0l1 0l1 .7l1 0l1 0l1-.1l1 0l1 0l1-.8l1 0l1 0l1 .2l1 0l1 0l1 0l1 0l1 0l1 0l1 0l1 0l1 0l1 0l1 0l1 0l1 0l1 0l1-.2l1 0l1 0l1 .4l1 0l1 0l1 .3l1 0l1 0l1-.3l1 0l1 0l1 .4l1 0l1 0l1-.4l1 0l1 0l1-.4l1 0l1 0" stroke="#0000ff" stroke-width="7.0"/><path d="M199,617.3l1 0l1 0l1 .2l1 0l1 0l1 0l1 0l1 0l1-.6l1 0l1 0l1-.1l1 0l1 0l1 .4l1 0l1 0l1-.1l1 0l1 0l1 .6l1 0l1 0l1-.1l1 0l1 0l1-.2l1 0l1 0l1 0l1 0l1 0l1 .1l1 0l1 0l1-.6l1 0l1 0l1 .3l1 0l1 0l1-.3l1 0l1 0l1 .9l1 0l1 0l1-1l1-.1l1 0l1 1l1 0l1-.1l1-.8l1-.1l1 0l1 .8l1 0l1 0l1-.5l1 0l1 0l1 .1l1 0l1 0l1 .5l1 0l1 0l1-1l1 0l1 0l1 0l1 0l1 0l1 1l1 0l1 0l1-.5l1 0l1-.1l1-.5l1 0l1 0l1 1l1 0l1 0l1-.1l1 0l1-.1l1-1l1-.1l1 0l1 .3l1-.1l1-.1l1-.5l1-.1l1-.1l1 0l1-.2l1-.3l1 0l1-.4l1-.8l1-1.7l1-2l1-3.3l1-4.4l1-7.1l1-8.7l1-9.3l1-5.1l1 1.3l1 6.9l1 8.7l1 7.9l1 6.9l1 4l1 2.4l1 .6l1 .2l1-.6l1-1.3l1-2.4l1-3.5l1-4.5l1-5.5l1-5.4l1-3.9l1-.3l1 3.3l1 5.2l1 5.7l1 5.1l1 3.5l1 2.9l1 1.8l1 2.1l1 .7l1 .4l1 .5l1 .1l1 0l1 0l1-.2l1-.3l1-.9l1-1l1-1.7l1-3.3l1-4.5l1-6.2l1-7.5l1-7.2l1-4l1 1.9l1 6l1 7.2l1 6.3l1 4.6l1 2.7l1 .6l1 .4l1-.1l1 .1l1 .3l1 .5l1 1l1 1.1l1 1l1 1.2l1 .9l1 .7l1 1l1 .4l1 .3l1-.1l1 .1l1 .1l1-.4l1 0l1 .1l1 1l1 0l1 .1l1-.5l1 .1l1 0l1 .1l1 0l1 0l1-.3l1 0l1 0l1 .3l1 0l1 0l1 0l1 0l1 0l1 .5l1 0l1 0l1-.8l1 0l1 0l1 .5l1 0l1 0l1-.4l1 0l1 0l1 .6l1 0l1 0l1-.8l1 0l1 0l1 .3l1 0l1 0l1 .1l1-.1l1 0l1 .3l1-.1l1-.1l1-1l1-.4l1-.6l1-.2l1-.8l1-.7l1-.5l1 .2l1 .7l1 .8l1 .8l1 .6l1 .6l1 .3l1 .2l1 .6l1 .1l1 0l1-.6l1 .1l1 0l1 .6l1 0l1 0l1-1l1 0l1 0l1 1l1 0l1 0l1-.7l1 0l1 0l1-.2l1 0l1 0l1 .7l1 0l1 0l1 .2l1 0l1 0l1-1.1l1 0l1 0l1 .3l1 0l1 0l1 .6l1 0l1 0l1-.6l1 0l1 0l1-.1l1 0l1 0l1-.3l1 0l1 0l1 0l1 0l1-.1l1 .7l1 0l1-.1l1 .4l1-.1l1-.1l1-.1l1-.1l1-.2l1-.7l1-.2l1-.2l1-.8l1-.2l1-.2l1 .2l1-.2l1-.1l1 .4l1 0l1 0l1 .1l1 .1l1 .1l1-.1l1 .2l1 .2l1-.3l1 .2l1 .2l1 .5l1 .2l1 .1l1 .1l1 .1l1 .1l1 .2l1 .1l1 0l1-.4l1 0l1 .1l1 .8l1 0l1 0l1-.1l1 0l1 0l1-.9l1 0l1 0l1 .1l1 0l1 0l1 .6l1 0l1 0l1-.8l1 0l1-.1l1 .7l1-.1l1-.1l1-.7l1-.2l1-.2l1-.1l1-.5l1-.6l1-.8l1-1l1-1.2l1-2.1l1-1.7l1-2l1-2.1l1-2.2l1-2.3l1-2.2l1-1.8l1-1.2l1-.1l1 .1l1 .9l1 1.5l1 2l1 2.2l1 1.6l1 2.2l1 2.1l1 2.8l1 1.6l1 1.4l1 .6l1 .9l1 .6l1 .3l1 .4l1 .2l1 .4l1 .1l1 0l1 .6l1-.1l1-.1l1-.5l1 0l1 .1l1 .2l1 .2l1 .2l1 .5l1 .2l1 .1l1 .2l1 .1l1 0l1-.1l1 0l1 0l1-.4l1 .1l1 0l1 .2l1 0l1 0l1 .4l1 0l1 0l1-.1l1 0l1 0l1-.2l1 0l1 0l1-.3l1 0l1 0l1 0l1 0l1 .1l1 .4l1 0l1 0l1-.2l1 0l1 0l1-.7l1 0l1 0l1 .9l1 0l1 0l1 .2l1 0l1 0l1-.2l1 0l1 0l1 .1l1 0l1 0l1 0l1-.1l1 0l1-.6l1-.1l1-.2l1 0l1-.7l1-1.2l1-2.2l1-2l1-1.8l1-1.1l1 .7l1 1.8l1 2.2l1 1.6l1 1l1 .3l1-.2l1-.8l1-.5l1-1.6l1-1.5l1-.9l1 .7l1 1.4l1 1.5l1 1.4l1 .9l1 .6l1 .3l1 .1l1-.7l1-.1l1-.3l1 0l1-1l1-1.5l1-1.9l1-2.7l1-2.9l1-2.8l1-.9l1 .9l1 2.3l1 2.9l1 2.7l1 2.4l1 1.5l1 1l1 .5l1 .3l1 .2l1 .5l1 .1l1 .1l1-.6l1 0l1 0l1 0l1 0l1 0l1 .3l1 0l1 .1l1 .4l1 0l1 0l1 .1l1 0l1 0l1-.1l1 0l1 0l1 .4l1 0l1 0l1-.7l1 0l1 0l1-.4l1 0l1 0l1 .5l1 0l1 0l1 0l1 0l1 0l1-.4l1 0l1 0l1 .6l1 0l1 0l1-.5l1 0l1 0l1-.3l1-.1l1-.1l1-.1l1-.3l1-.4l1 .4l1-.5l1-.5l1-1.7l1-.5l1-.4l1 .1l1-.2l1 .1l1 0l1 .3l1 .2l1 0l1-.5l1-1.5l1-3.2l1-5.5l1-6.4l1-4.5l1 1.4l1 5.9l1 7.6l1 5.1l1 3l1 1.1l1 .7l1 .3l1 .4l1 .2l1 .1l1-.6l1 .1l1 0l1 .4l1 .1l1 0l1 .2l1 0l1 0l1 .3l1 0l1 0l1-.7l1 .1l1 0l1 .2l1 0l1 0l1 .5l1 0l1 0l1 0l1 0l1 0l1-.7l1 0l1 0l1 .4l1 0l1 0l1 .2l1 0l1 0l1-.4l1 0l1 0l1 .3l1 0l1 0l1 0l1 0l1 0l1 .4l1 0l1 0l1-.5l1 0l1 0l1 .1l1 0l1 0l1-.4l1-.1l1 0l1 .4l1-.1l1-.1l1-.6l1-.1l1-.1l1 .1l1 0l1 0l1-.1l1 .1l1 .1l1 .1l1 .1l1 .1l1-.2l1 .1l1 0l1 .2l1 0l1 0l1 .4l1 0l1 0l1-.4l1 0l1 0l1-.2l1 0l1 0l1 .9l1 0l1 0l1-.6l1 0l1 0l1 .8l1 0l1 0l1-.5l1 0l1 0l1-.2l1 0l1 0l1 .6l1 0l1 0l1 0l1 0l1 0l1-.7l1 0l1 0l1-.2l1 0l1 0l1 .6l1 0l1 0l1 .2l1 0l1 0l1-.3l1 0l1 0l1 .2l1 0l1 0l1-.5l1 0l1 0l1 .3l1-.1l1 0l1-.4l1 0l1 0l1 .1l1 0l1-.1l1 0l1-.1l1-.1l1 0l1-.1l1-.1l1-.1l1-.2l1-.1l1 .3l1-.2l1-.2l1-.9l1-.3l1-.2l1-.2l1-.2l1-.2l1-.2l1-.2l1-.2l1 .8l1-.1l1 0l1-.6l1 .1l1 .1l1-.4l1 .1l1 .1l1 1.1l1 .1l1 .1l1 0l1 0l1 0l1 0l1 0l1 .1l1-.4l1 .3l1 .3l1 .7l1 .3l1 .2l1-.3l1 .1l1 .1l1-.2l1 0l1 0l1 .7l1-.2l1-.4l1-1.1l1-2.4l1-5.1l1-8.9l1-9.2l1-4.5l1 5.3l1 9.2l1 8.2l1 4.1l1 2.4l1 1.1l1 .8l1 .2l1 .2l1-.2l1 .1l1 0l1 .3l1 0l1 .1l1 0l1 0l1 .1l1 .6l1 .1l1 0l1-.5l1 0l1 0l1-.1l1 0l1 0l1 0l1 0l1 0l1 .2l1 0l1 0l1 .6l1 0l1 0l1-.3l1 0l1 .1l1-.7l1 .1l1 0l1 .7l1 0l1 0l1-.2l1 0l1 0l1-.1l1 0l1 0l1 .1l1 0l1 0l1 .1l1 0l1 0l1 .2l1 0l1 0l1-.3l1 0l1 0l1 .1l1 0l1 0l1-.2l1 0l1 0l1 .2l1 0l1 0l1-.3l1 0l1 0l1 .1l1 0l1 0l1 .1l1 0l1 0l1 .2l1 0l1 0l1-.5l1 0l1 0l1 .8l1 0l1 0l1-.5l1 0l1 0l1 .4l1 0l1 0l1-.2l1 0l1 0l1 .3l1 0l1 0l1-.3l1 0l1 0l1-.3l1 0l1 0l1 0l1 0l1 0l1 .2l1 0l1 0l1 .2l1 0l1 0l1 .1l1 0l1 0l1-.9l1 0l1 0l1 0l1 0l1 0l1 0l1 0l1 0l1 0l1 0l1 0l1-.1l1 0l1 0l1 0l1 0l1 0l1 .3l1 0l1 0l1-.2l1 0l1 0l1 .7l1 0l1 0l1-.1l1 0l1 0l1 .4l1 0l1 0l1 0l1 0l1 0l1-.3l1 0l1 0l1 .3l1-.1l1 0l1-1.2l1-.1l1-.3l1-.1l1-.4l1-.4l1 .7l1 .2l1 .3l1-.1l1 .4l1 .2l1-.2l1 .1l1 0l1 .7l1 0l1 0l1-.3l1 0l1 0l1 .1l1 0l1 0l1-.3l1 0l1 0l1 0l1 0l1 0l1-.2l1 0l1 0l1 .6l1 0l1 0l1 .4l1 0l1 0l1 .1l1 0l1 0l1-.3l1 0l1 0l1 .2l1 0l1 0l1-.7l1 0l1 0l1-.1l1 0l1 0l1 .8l1 0l1 0l1-.4l1 0l1 0l1 .1l1 0l1 0l1-.8l1 0l1 0l1 .2l1 0l1 0l1 .3l1 0l1 0l1 .3l1 0l1 0l1 .1l1 0l1 0l1-.1l1 0l1 0l1-.5l1 0l1 0l1 .1l1-.1l1 0l1 .6l1 0l1-.1l1 .1l1 0l1-.1l1-.9l1-.4l1-.8l1-1.4l1-1.3l1-1.2l1 .1l1 .4l1 1.2l1 1.2l1 1.1l1 .7l1 .3l1 .2l1 .1l1-.1l1 .1l1 0l1 .2l1 0l1 0l1 .3l1 0l1 0l1-.5l1 0l1 0l1 .5l1 0l1 0l1 .5l1 0l1 0l1-.3l1 0l1 0l1-.6l1 0l1 0l1 .2l1 0l1 0l1-.3l1 0l1 0l1 .7l1 0l1 0l1-.1l1 0l1 0l1-.6l1 0l1 0l1 .5l1 0l1 0l1 0l1 0l1 0l1 0l1 0l1 0l1-.2l1 0l1 0l1-.1l1 0l1 0l1 0l1 0l1 0l1 .8l1 0l1 0l1-.8l1 0l1 0l1 .2l1 0l1 0l1-.1l1 0l1 0l1-.3l1 0l1 0l1 .2l1 0l1 0l1-.2l1 0l1 0l1 .1l1 0l1 0l1 0l1 0l1 0l1 0l1 0l1 0l1 .7l1 0l1-.1l1-.7l1-.1l1 0l1 .1l1-.1l1 0l1 .4l1-.1l1 0l1-.4l1 0l1-.1l1 .1l1-.1l1-.1l1 0l1-.1l1-.2l1-.9l1-.2l1-.2l1 .4l1-.3l1-.4l1-1l1-.5l1-.4l1-.3l1-.5l1-.5l1 .1l1-.5l1-.5l1-.3l1-.4l1-.4l1-.7l1-.3l1-.1l1-.7l1 .1l1 .1l1 .6l1 .3l1 .4l1 .3l1 .5l1 .5l1 1.2l1 .5l1 .5l1-.2l1 .4l1 .5l1 .4l1 .4l1 .3l1 .9l1 .2l1 .3l1 .2l1 .2l1 .2l1 0l1 .2l1 .1l1-.1l1 .1l1 .1l1 .6l1 0l1 .1l1-.6l1 0l1 .1l1 .5l1 .1l1 0l1-.7l1 0l1 .1l1 .1l1 0l1 0l1-.2l1 0l1 0l1 .5l1 0l1-.1l1 .1l1-.1l1 0l1-.7l1 0l1-.1l1 .3l1-.1l1-.2l1 .1l1-.1l1-.1l1-.5l1-.1l1-.1l1 .1l1-.1l1 0l1 0l1 0l1 .1l1 .3l1 .1l1 .2l1-.3l1 .1l1 .2l1 0l1 .2l1 .1l1-.3l1 .1l1 0l1 1.1l1 0l1 .1l1-.1l1 0l1 0l1-.5l1 0l1 0l1 .7l1 .1l1 0l1-.1l1 0l1 0l1-.9l1 0l1 0l1 .8l1 0l1 0l1-.5l1 0l1 0l1-.1l1 0l1 0l1-.1l1 .1l1 0l1 .1l1 0l1 0l1-.4l1 0l1 0l1 0l1 0l1 0l1 .1l1 0l1 0l1 .2l1 0l1 0l1-.2l1 0l1 0l1 0l1 0l1 0l1 .9l1 0l1 0l1-.6l1 0l1 0l1 .2l1 0l1 0l1 .1l1 0l1 0l1 .4l1 0l1 0l1-1l1 0l1 0l1 .1l1 0l1 0l1 .8l1 0l1 0l1 .1l1 0l1 0l1 0l1 0l1 0l1-.5l1 0l1 0l1-.2l1 0l1 0l1-.2l1 0l1 0l1 .9l1 0l1 0l1-.2l1 0l1 0l1-.3l1 0l1 0l1 .3l1 0l1 0l1-.6l1 0l1 0l1 .3l1 0l1 0l1 .5l1 0l1 0l1-1l1 0l1 0l1 .6l1 0l1 0l1-.5l1 0l1 0l1 .8l1 0l1 0l1 0l1 0l1 0l1-.3l1 0l1 0l1-.2l1 0l1 0l1-.5l1 0l1 0l1 .6l1 0l1 0l1-.2l1 0l1 0l1 0l1 0l1 0l1-.3l1 0l1 0l1 1l1 0l1 0l1-.5l1 0l1 0l1 0l1 0l1 0l1 .3l1 0l1 0l1 .1l1 0l1 0l1-.5l1 0l1 0l1 0l1 0l1-.1l1 .4l1-.1l1 0l1-.7l1-.1l1-.1l1 .3l1-.7l1-1.6l1-3.7l1-3.8l1-4l1-.8l1 1.8l1 3.9l1 3.5l1 2.7l1 1.5l1 .8l1 .4l1 .1l1 .6l1 .1l1 0l1-.9l1 .1l1 0l1 .2l1 0l1 .1l1 .4l1 .1l1 0l1-.1l1 0l1 0l1-.2l1 0l1 0l1 .3l1 0l1 0l1-.1l1 0l1 0l1 .2l1 0l1 0l1-.3l1 0l1 0l1-.3l1 0l1 0l1-.1l1 0l1 0l1-.2l1 0l1 0l1 0l1 0l1 0l1-.1l1 0l1 0l1 1.1l1 0l1 0l1-1l1 0l1 0l1 .6l1 0l1 0l1-.6l1 0l1 0l1 1l1 0l1 0l1-.5l1 0l1 0l1-.4l1 0l1 0l1 .8l1 0l1 0l1 0l1 0l1 0l1 .1l1 0l1 0l1-.9l1 0l1 0l1 .2l1 0l1 0l1 .3l1 0l1 0l1-.4l1 0l1-.1l1 .4l1 0l1 0l1 .1l1 0l1 0l1 0l1 0l1 0l1 0l1 0l1-.1l1-.2l1-.2l1-.2l1-.9l1-.4l1-.6l1-.1l1-.8l1-.8l1-1.1l1-.5l1-.2l1-.1l1 .5l1 .7l1 .6l1 .8l1 .7l1 1.3l1 .4l1 .3l1 0l1 .1l1 .1l1-.2l1 .1l1 0l1 .5l1 0l1 0l1 0l1 0l1 0l1-.1l1 0l1 0l1 .3l1 0l1 0l1 0l1 0l1 0l1 0l1 0l1 0l1 .5l1 0l1 0l1-.1l1 0l1 0l1-.7l1 0l1 0l1 .7l1 0l1 0l1-.7l1 .1l1 0l1 .7l1 0l1 0l1-1.1l1 0l1 0l1 .4l1 0l1 0l1 .7l1 0l1 0l1-.3l1 0l1 0l1 0l1 0l1 0l1-.6l1 0l1 0l1-.1l1 0l1 0l1 1l1 0l1 0l1-1l1 0l1 0l1 .1l1 0l1 0l1 .3l1 0l1 0l1 .5l1 0l1 0l1-.2l1 0l1 0l1 .4l1 0l1 0l1-.3l1 0l1 0l1-.4l1 0l1 0l1 .6l1 0l1 0l1-.7l1 0l1 0l1-.3l1 0l1 0l1 1l1 0l1 0l1 0l1 0l1 0l1-.3l1 0l1 0l1-.2l1 0l1 0l1-.4l1 0l1 0l1 .1l1 0l1 0l1-.2l1 0l1 0l1 0l1 0l1 0l1 .5l1 0l1 0l1 .5l1 0l1 0l1 0l1 0l1 0l1-.5l1 0l1 0l1 .2l1 0l1 0l1-.2l1 0l1 0l1 .3l1 0l1 0l1-.1l1 0l1 0l1 .4l1 0l1 0l1-.2l1 0l1 0l1-.2l1 0l1 0l1-.1l1 0l1 0l1-.5l1 0l1 0l1 .4l1 0l1 0l1-.1l1 0l1 0l1-.3l1 0l1 0l1 0l1 0l1 0l1 .3l1 0l1 0l1-.3l1 0l1 0l1 .5l1 0l1 0l1-.3l1 0l1 0l1 .8l1 0l1 0l1-.4l1 0l1 0l1-.2l1 0l1 0l1-.1l1 0l1 0l1 0l1 0l1 0l1-.3l1 0l1 0l1 1l1 0l1 0l1-.1l1 0l1 0l1-.3l1 0l1 0l1 0l1 0l1 0l1-.6l1 0l1 0l1 .4l1 0l1 0l1-.4l1 0l1 0l1 .2l1 0l1 0l1 .3l1 0l1 0l1-.5l1 0l1 0l1 .1l1 0l1 0l1 .6l1 0l1 0l1-.3l1 0l1 0l1 .5l1 0l1 0l1-.9l1 0l1 0l1-.1l1 0l1 0l1 1l1 0l1 0l1-.4l1 0l1 0l1 .1l1 0l1 0l1-.1l1 0l1 0l1-.5l1 0l1 0l1 1l1 0l1-.1l1-.5l1 0l1 0l1 .5l1 0l1 0l1-1l1 0l1 0l1 .2l1 0l1 0l1 .3l1 0l1-.1l1-.4l1 0l1-.1l1 .5l1-.3l1-.6l1-1.5l1-1l1-.8l1-.6l1 .4l1 .8l1 1.1l1 .8l1 .6l1 .4l1 .2l1 .1l1 .9l1 0l1 0l1 0l1 0l1 0l1-.3l1 0l1 .1l1-.3l1 0l1 0l1-.5l1 0l1 0l1 1l1 0l1 0l1-.9l1 0l1 0l1 .1l1 0l1 0l1 .3l1 0l1 0l1 .5l1 0l1 0l1-.8l1 0l1 0l1-.1l1 0l1 0l1 1l1 0l1 0l1-1.1l1 0l1 0l1 .9l1 0l1 0l1-.7l1 0l1 0l1 .2l1 0l1 0l1-.2l1 0l1 0l1 .3l1 0l1 0l1 .6l1 0l1 0l1-.1l1 0l1 0l1-.4l1 0l1 0l1-.5l1 0l1 0l1 .1l1 0l1 0l1 .2l1 0l1 0l1 .5l1 0l1 0l1 .2l1 0l1 0l1-1.1l1 0l1 0l1 .4l1 0l1 0l1 .7l1 0l1 0l1-.9l1 0l1 0l1-.1l1 0l1 0l1 .2l1 0l1 0l1 .8l1 0l1 0l1-.8l1 0l1 0l1 .6l1 0l1 0l1-.8l1 0l1 0l1 .7l1 0l1 0l1-.6l1 0l1 0l1 .5l1 0l1 0l1 .2l1 0l1 0l1 .2l1 0l1 0l1-.6l1 0l1 0l1 .7l1 0l1 0l1-.7l1 0l1 0l1 .6l1 0l1 0l1 0l1 0l1 0l1 .1l1 0l1 0l1-1.1l1 0l1 0l1 .2l1 0l1 0l1 .5l1 0l1 0l1 .3l1 0l1 0l1-.8l1 0l1 0l1 .6l1 0l1 0l1-.3l1 0l1 0l1-.6l1 0l1 0l1 .1l1 0l1 0l1-.1l1 0l1 0l1 .3l1 0l1 0l1 .8l1 0l1 0l1-.3l1 0l1 0l1 .2l1 0l1 0l1 .1l1 0l1 0l1-.6l1 0l1 0l1 .3l1 0l1 0l1 0l1 0l1 0l1 0l1 0l1 0l1-.7l1 0l1 0l1 1l1 0l1 0" stroke="#ff00ff" stroke-width="11.0" stroke-opacity="0.22"/><path d="M199,617.3l1 0l1 0l1 .2l1 0l1 0l1 0l1 0l1 0l1-.6l1 0l1 0l1-.1l1 0l1 0l1 .4l1 0l1 0l1-.1l1 0l1 0l1 .6l1 0l1 0l1-.1l1 0l1 0l1-.2l1 0l1 0l1 0l1 0l1 0l1 .1l1 0l1 0l1-.6l1 0l1 0l1 .3l1 0l1 0l1-.3l1 0l1 0l1 .9l1 0l1 0l1-1l1-.1l1 0l1 1l1 0l1-.1l1-.8l1-.1l1 0l1 .8l1 0l1 0l1-.5l1 0l1 0l1 .1l1 0l1 0l1 .5l1 0l1 0l1-1l1 0l1 0l1 0l1 0l1 0l1 1l1 0l1 0l1-.5l1 0l1-.1l1-.5l1 0l1 0l1 1l1 0l1 0l1-.1l1 0l1-.1l1-1l1-.1l1 0l1 .3l1-.1l1-.1l1-.5l1-.1l1-.1l1 0l1-.2l1-.3l1 0l1-.4l1-.8l1-1.7l1-2l1-3.3l1-4.4l1-7.1l1-8.7l1-9.3l1-5.1l1 1.3l1 6.9l1 8.7l1 7.9l1 6.9l1 4l1 2.4l1 .6l1 .2l1-.6l1-1.3l1-2.4l1-3.5l1-4.5l1-5.5l1-5.4l1-3.9l1-.3l1 3.3l1 5.2l1 5.7l1 5.1l1 3.5l1 2.9l1 1.8l1 2.1l1 .7l1 .4l1 .5l1 .1l1 0l1 0l1-.2l1-.3l1-.9l1-1l1-1.7l1-3.3l1-4.5l1-6.2l1-7.5l1-7.2l1-4l1 1.9l1 6l1 7.2l1 6.3l1 4.6l1 2.7l1 .6l1 .4l1-.1l1 .1l1 .3l1 .5l1 1l1 1.1l1 1l1 1.2l1 .9l1 .7l1 1l1 .4l1 .3l1-.1l1 .1l1 .1l1-.4l1 0l1 .1l1 1l1 0l1 .1l1-.5l1 .1l1 0l1 .1l1 0l1 0l1-.3l1 0l1 0l1 .3l1 0l1 0l1 0l1 0l1 0l1 .5l1 0l1 0l1-.8l1 0l1 0l1 .5l1 0l1 0l1-.4l1 0l1 0l1 .6l1 0l1 0l1-.8l1 0l1 0l1 .3l1 0l1 0l1 .1l1-.1l1 0l1 .3l1-.1l1-.1l1-1l1-.4l1-.6l1-.2l1-.8l1-.7l1-.5l1 .2l1 .7l1 .8l1 .8l1 .6l1 .6l1 .3l1 .2l1 .6l1 .1l1 0l1-.6l1 .1l1 0l1 .6l1 0l1 0l1-1l1 0l1 0l1 1l1 0l1 0l1-.7l1 0l1 0l1-.2l1 0l1 0l1 .7l1 0l1 0l1 .2l1 0l1 0l1-1.1l1 0l1 0l1 .3l1 0l1 0l1 .6l1 0l1 0l1-.6l1 0l1 0l1-.1l1 0l1 0l1-.3l1 0l1 0l1 0l1 0l1-.1l1 .7l1 0l1-.1l1 .4l1-.1l1-.1l1-.1l1-.1l1-.2l1-.7l1-.2l1-.2l1-.8l1-.2l1-.2l1 .2l1-.2l1-.1l1 .4l1 0l1 0l1 .1l1 .1l1 .1l1-.1l1 .2l1 .2l1-.3l1 .2l1 .2l1 .5l1 .2l1 .1l1 .1l1 .1l1 .1l1 .2l1 .1l1 0l1-.4l1 0l1 .1l1 .8l1 0l1 0l1-.1l1 0l1 0l1-.9l1 0l1 0l1 .1l1 0l1 0l1 .6l1 0l1 0l1-.8l1 0l1-.1l1 .7l1-.1l1-.1l1-.7l1-.2l1-.2l1-.1l1-.5l1-.6l1-.8l1-1l1-1.2l1-2.1l1-1.7l1-2l1-2.1l1-2.2l1-2.3l1-2.2l1-1.8l1-1.2l1-.1l1 .1l1 .9l1 1.5l1 2l1 2.2l1 1.6l1 2.2l1 2.1l1 2.8l1 1.6l1 1.4l1 .6l1 .9l1 .6l1 .3l1 .4l1 .2l1 .4l1 .1l1 0l1 .6l1-.1l1-.1l1-.5l1 0l1 .1l1 .2l1 .2l1 .2l1 .5l1 .2l1 .1l1 .2l1 .1l1 0l1-.1l1 0l1 0l1-.4l1 .1l1 0l1 .2l1 0l1 0l1 .4l1 0l1 0l1-.1l1 0l1 0l1-.2l1 0l1 0l1-.3l1 0l1 0l1 0l1 0l1 .1l1 .4l1 0l1 0l1-.2l1 0l1 0l1-.7l1 0l1 0l1 .9l1 0l1 0l1 .2l1 0l1 0l1-.2l1 0l1 0l1 .1l1 0l1 0l1 0l1-.1l1 0l1-.6l1-.1l1-.2l1 0l1-.7l1-1.2l1-2.2l1-2l1-1.8l1-1.1l1 .7l1 1.8l1 2.2l1 1.6l1 1l1 .3l1-.2l1-.8l1-.5l1-1.6l1-1.5l1-.9l1 .7l1 1.4l1 1.5l1 1.4l1 .9l1 .6l1 .3l1 .1l1-.7l1-.1l1-.3l1 0l1-1l1-1.5l1-1.9l1-2.7l1-2.9l1-2.8l1-.9l1 .9l1 2.3l1 2.9l1 2.7l1 2.4l1 1.5l1 1l1 .5l1 .3l1 .2l1 .5l1 .1l1 .1l1-.6l1 0l1 0l1 0l1 0l1 0l1 .3l1 0l1 .1l1 .4l1 0l1 0l1 .1l1 0l1 0l1-.1l1 0l1 0l1 .4l1 0l1 0l1-.7l1 0l1 0l1-.4l1 0l1 0l1 .5l1 0l1 0l1 0l1 0l1 0l1-.4l1 0l1 0l1 .6l1 0l1 0l1-.5l1 0l1 0l1-.3l1-.1l1-.1l1-.1l1-.3l1-.4l1 .4l1-.5l1-.5l1-1.7l1-.5l1-.4l1 .1l1-.2l1 .1l1 0l1 .3l1 .2l1 0l1-.5l1-1.5l1-3.2l1-5.5l1-6.4l1-4.5l1 1.4l1 5.9l1 7.6l1 5.1l1 3l1 1.1l1 .7l1 .3l1 .4l1 .2l1 .1l1-.6l1 .1l1 0l1 .4l1 .1l1 0l1 .2l1 0l1 0l1 .3l1 0l1 0l1-.7l1 .1l1 0l1 .2l1 0l1 0l1 .5l1 0l1 0l1 0l1 0l1 0l1-.7l1 0l1 0l1 .4l1 0l1 0l1 .2l1 0l1 0l1-.4l1 0l1 0l1 .3l1 0l1 0l1 0l1 0l1 0l1 .4l1 0l1 0l1-.5l1 0l1 0l1 .1l1 0l1 0l1-.4l1-.1l1 0l1 .4l1-.1l1-.1l1-.6l1-.1l1-.1l1 .1l1 0l1 0l1-.1l1 .1l1 .1l1 .1l1 .1l1 .1l1-.2l1 .1l1 0l1 .2l1 0l1 0l1 .4l1 0l1 0l1-.4l1 0l1 0l1-.2l1 0l1 0l1 .9l1 0l1 0l1-.6l1 0l1 0l1 .8l1 0l1 0l1-.5l1 0l1 0l1-.2l1 0l1 0l1 .6l1 0l1 0l1 0l1 0l1 0l1-.7l1 0l1 0l1-.2l1 0l1 0l1 .6l1 0l1 0l1 .2l1 0l1 0l1-.3l1 0l1 0l1 .2l1 0l1 0l1-.5l1 0l1 0l1 .3l1-.1l1 0l1-.4l1 0l1 0l1 .1l1 0l1-.1l1 0l1-.1l1-.1l1 0l1-.1l1-.1l1-.1l1-.2l1-.1l1 .3l1-.2l1-.2l1-.9l1-.3l1-.2l1-.2l1-.2l1-.2l1-.2l1-.2l1-.2l1 .8l1-.1l1 0l1-.6l1 .1l1 .1l1-.4l1 .1l1 .1l1 1.1l1 .1l1 .1l1 0l1 0l1 0l1 0l1 0l1 .1l1-.4l1 .3l1 .3l1 .7l1 .3l1 .2l1-.3l1 .1l1 .1l1-.2l1 0l1 0l1 .7l1-.2l1-.4l1-1.1l1-2.4l1-5.1l1-8.9l1-9.2l1-4.5l1 5.3l1 9.2l1 8.2l1 4.1l1 2.4l1 1.1l1 .8l1 .2l1 .2l1-.2l1 .1l1 0l1 .3l1 0l1 .1l1 0l1 0l1 .1l1 .6l1 .1l1 0l1-.5l1 0l1 0l1-.1l1 0l1 0l1 0l1 0l1 0l1 .2l1 0l1 0l1 .6l1 0l1 0l1-.3l1 0l1 .1l1-.7l1 .1l1 0l1 .7l1 0l1 0l1-.2l1 0l1 0l1-.1l1 0l1 0l1 .1l1 0l1 0l1 .1l1 0l1 0l1 .2l1 0l1 0l1-.3l1 0l1 0l1 .1l1 0l1 0l1-.2l1 0l1 0l1 .2l1 0l1 0l1-.3l1 0l1 0l1 .1l1 0l1 0l1 .1l1 0l1 0l1 .2l1 0l1 0l1-.5l1 0l1 0l1 .8l1 0l1 0l1-.5l1 0l1 0l1 .4l1 0l1 0l1-.2l1 0l1 0l1 .3l1 0l1 0l1-.3l1 0l1 0l1-.3l1 0l1 0l1 0l1 0l1 0l1 .2l1 0l1 0l1 .2l1 0l1 0l1 .1l1 0l1 0l1-.9l1 0l1 0l1 0l1 0l1 0l1 0l1 0l1 0l1 0l1 0l1 0l1-.1l1 0l1 0l1 0l1 0l1 0l1 .3l1 0l1 0l1-.2l1 0l1 0l1 .7l1 0l1 0l1-.1l1 0l1 0l1 .4l1 0l1 0l1 0l1 0l1 0l1-.3l1 0l1 0l1 .3l1-.1l1 0l1-1.2l1-.1l1-.3l1-.1l1-.4l1-.4l1 .7l1 .2l1 .3l1-.1l1 .4l1 .2l1-.2l1 .1l1 0l1 .7l1 0l1 0l1-.3l1 0l1 0l1 .1l1 0l1 0l1-.3l1 0l1 0l1 0l1 0l1 0l1-.2l1 0l1 0l1 .6l1 0l1 0l1 .4l1 0l1 0l1 .1l1 0l1 0l1-.3l1 0l1 0l1 .2l1 0l1 0l1-.7l1 0l1 0l1-.1l1 0l1 0l1 .8l1 0l1 0l1-.4l1 0l1 0l1 .1l1 0l1 0l1-.8l1 0l1 0l1 .2l1 0l1 0l1 .3l1 0l1 0l1 .3l1 0l1 0l1 .1l1 0l1 0l1-.1l1 0l1 0l1-.5l1 0l1 0l1 .1l1-.1l1 0l1 .6l1 0l1-.1l1 .1l1 0l1-.1l1-.9l1-.4l1-.8l1-1.4l1-1.3l1-1.2l1 .1l1 .4l1 1.2l1 1.2l1 1.1l1 .7l1 .3l1 .2l1 .1l1-.1l1 .1l1 0l1 .2l1 0l1 0l1 .3l1 0l1 0l1-.5l1 0l1 0l1 .5l1 0l1 0l1 .5l1 0l1 0l1-.3l1 0l1 0l1-.6l1 0l1 0l1 .2l1 0l1 0l1-.3l1 0l1 0l1 .7l1 0l1 0l1-.1l1 0l1 0l1-.6l1 0l1 0l1 .5l1 0l1 0l1 0l1 0l1 0l1 0l1 0l1 0l1-.2l1 0l1 0l1-.1l1 0l1 0l1 0l1 0l1 0l1 .8l1 0l1 0l1-.8l1 0l1 0l1 .2l1 0l1 0l1-.1l1 0l1 0l1-.3l1 0l1 0l1 .2l1 0l1 0l1-.2l1 0l1 0l1 .1l1 0l1 0l1 0l1 0l1 0l1 0l1 0l1 0l1 .7l1 0l1-.1l1-.7l1-.1l1 0l1 .1l1-.1l1 0l1 .4l1-.1l1 0l1-.4l1 0l1-.1l1 .1l1-.1l1-.1l1 0l1-.1l1-.2l1-.9l1-.2l1-.2l1 .4l1-.3l1-.4l1-1l1-.5l1-.4l1-.3l1-.5l1-.5l1 .1l1-.5l1-.5l1-.3l1-.4l1-.4l1-.7l1-.3l1-.1l1-.7l1 .1l1 .1l1 .6l1 .3l1 .4l1 .3l1 .5l1 .5l1 1.2l1 .5l1 .5l1-.2l1 .4l1 .5l1 .4l1 .4l1 .3l1 .9l1 .2l1 .3l1 .2l1 .2l1 .2l1 0l1 .2l1 .1l1-.1l1 .1l1 .1l1 .6l1 0l1 .1l1-.6l1 0l1 .1l1 .5l1 .1l1 0l1-.7l1 0l1 .1l1 .1l1 0l1 0l1-.2l1 0l1 0l1 .5l1 0l1-.1l1 .1l1-.1l1 0l1-.7l1 0l1-.1l1 .3l1-.1l1-.2l1 .1l1-.1l1-.1l1-.5l1-.1l1-.1l1 .1l1-.1l1 0l1 0l1 0l1 .1l1 .3l1 .1l1 .2l1-.3l1 .1l1 .2l1 0l1 .2l1 .1l1-.3l1 .1l1 0l1 1.1l1 0l1 .1l1-.1l1 0l1 0l1-.5l1 0l1 0l1 .7l1 .1l1 0l1-.1l1 0l1 0l1-.9l1 0l1 0l1 .8l1 0l1 0l1-.5l1 0l1 0l1-.1l1 0l1 0l1-.1l1 .1l1 0l1 .1l1 0l1 0l1-.4l1 0l1 0l1 0l1 0l1 0l1 .1l1 0l1 0l1 .2l1 0l1 0l1-.2l1 0l1 0l1 0l1 0l1 0l1 .9l1 0l1 0l1-.6l1 0l1 0l1 .2l1 0l1 0l1 .1l1 0l1 0l1 .4l1 0l1 0l1-1l1 0l1 0l1 .1l1 0l1 0l1 .8l1 0l1 0l1 .1l1 0l1 0l1 0l1 0l1 0l1-.5l1 0l1 0l1-.2l1 0l1 0l1-.2l1 0l1 0l1 .9l1 0l1 0l1-.2l1 0l1 0l1-.3l1 0l1 0l1 .3l1 0l1 0l1-.6l1 0l1 0l1 .3l1 0l1 0l1 .5l1 0l1 0l1-1l1 0l1 0l1 .6l1 0l1 0l1-.5l1 0l1 0l1 .8l1 0l1 0l1 0l1 0l1 0l1-.3l1 0l1 0l1-.2l1 0l1 0l1-.5l1 0l1 0l1 .6l1 0l1 0l1-.2l1 0l1 0l1 0l1 0l1 0l1-.3l1 0l1 0l1 1l1 0l1 0l1-.5l1 0l1 0l1 0l1 0l1 0l1 .3l1 0l1 0l1 .1l1 0l1 0l1-.5l1 0l1 0l1 0l1 0l1-.1l1 .4l1-.1l1 0l1-.7l1-.1l1-.1l1 .3l1-.7l1-1.6l1-3.7l1-3.8l1-4l1-.8l1 1.8l1 3.9l1 3.5l1 2.7l1 1.5l1 .8l1 .4l1 .1l1 .6l1 .1l1 0l1-.9l1 .1l1 0l1 .2l1 0l1 .1l1 .4l1 .1l1 0l1-.1l1 0l1 0l1-.2l1 0l1 0l1 .3l1 0l1 0l1-.1l1 0l1 0l1 .2l1 0l1 0l1-.3l1 0l1 0l1-.3l1 0l1 0l1-.1l1 0l1 0l1-.2l1 0l1 0l1 0l1 0l1 0l1-.1l1 0l1 0l1 1.1l1 0l1 0l1-1l1 0l1 0l1 .6l1 0l1 0l1-.6l1 0l1 0l1 1l1 0l1 0l1-.5l1 0l1 0l1-.4l1 0l1 0l1 .8l1 0l1 0l1 0l1 0l1 0l1 .1l1 0l1 0l1-.9l1 0l1 0l1 .2l1 0l1 0l1 .3l1 0l1 0l1-.4l1 0l1-.1l1 .4l1 0l1 0l1 .1l1 0l1 0l1 0l1 0l1 0l1 0l1 0l1-.1l1-.2l1-.2l1-.2l1-.9l1-.4l1-.6l1-.1l1-.8l1-.8l1-1.1l1-.5l1-.2l1-.1l1 .5l1 .7l1 .6l1 .8l1 .7l1 1.3l1 .4l1 .3l1 0l1 .1l1 .1l1-.2l1 .1l1 0l1 .5l1 0l1 0l1 0l1 0l1 0l1-.1l1 0l1 0l1 .3l1 0l1 0l1 0l1 0l1 0l1 0l1 0l1 0l1 .5l1 0l1 0l1-.1l1 0l1 0l1-.7l1 0l1 0l1 .7l1 0l1 0l1-.7l1 .1l1 0l1 .7l1 0l1 0l1-1.1l1 0l1 0l1 .4l1 0l1 0l1 .7l1 0l1 0l1-.3l1 0l1 0l1 0l1 0l1 0l1-.6l1 0l1 0l1-.1l1 0l1 0l1 1l1 0l1 0l1-1l1 0l1 0l1 .1l1 0l1 0l1 .3l1 0l1 0l1 .5l1 0l1 0l1-.2l1 0l1 0l1 .4l1 0l1 0l1-.3l1 0l1 0l1-.4l1 0l1 0l1 .6l1 0l1 0l1-.7l1 0l1 0l1-.3l1 0l1 0l1 1l1 0l1 0l1 0l1 0l1 0l1-.3l1 0l1 0l1-.2l1 0l1 0l1-.4l1 0l1 0l1 .1l1 0l1 0l1-.2l1 0l1 0l1 0l1 0l1 0l1 .5l1 0l1 0l1 .5l1 0l1 0l1 0l1 0l1 0l1-.5l1 0l1 0l1 .2l1 0l1 0l1-.2l1 0l1 0l1 .3l1 0l1 0l1-.1l1 0l1 0l1 .4l1 0l1 0l1-.2l1 0l1 0l1-.2l1 0l1 0l1-.1l1 0l1 0l1-.5l1 0l1 0l1 .4l1 0l1 0l1-.1l1 0l1 0l1-.3l1 0l1 0l1 0l1 0l1 0l1 .3l1 0l1 0l1-.3l1 0l1 0l1 .5l1 0l1 0l1-.3l1 0l1 0l1 .8l1 0l1 0l1-.4l1 0l1 0l1-.2l1 0l1 0l1-.1l1 0l1 0l1 0l1 0l1 0l1-.3l1 0l1 0l1 1l1 0l1 0l1-.1l1 0l1 0l1-.3l1 0l1 0l1 0l1 0l1 0l1-.6l1 0l1 0l1 .4l1 0l1 0l1-.4l1 0l1 0l1 .2l1 0l1 0l1 .3l1 0l1 0l1-.5l1 0l1 0l1 .1l1 0l1 0l1 .6l1 0l1 0l1-.3l1 0l1 0l1 .5l1 0l1 0l1-.9l1 0l1 0l1-.1l1 0l1 0l1 1l1 0l1 0l1-.4l1 0l1 0l1 .1l1 0l1 0l1-.1l1 0l1 0l1-.5l1 0l1 0l1 1l1 0l1-.1l1-.5l1 0l1 0l1 .5l1 0l1 0l1-1l1 0l1 0l1 .2l1 0l1 0l1 .3l1 0l1-.1l1-.4l1 0l1-.1l1 .5l1-.3l1-.6l1-1.5l1-1l1-.8l1-.6l1 .4l1 .8l1 1.1l1 .8l1 .6l1 .4l1 .2l1 .1l1 .9l1 0l1 0l1 0l1 0l1 0l1-.3l1 0l1 .1l1-.3l1 0l1 0l1-.5l1 0l1 0l1 1l1 0l1 0l1-.9l1 0l1 0l1 .1l1 0l1 0l1 .3l1 0l1 0l1 .5l1 0l1 0l1-.8l1 0l1 0l1-.1l1 0l1 0l1 1l1 0l1 0l1-1.1l1 0l1 0l1 .9l1 0l1 0l1-.7l1 0l1 0l1 .2l1 0l1 0l1-.2l1 0l1 0l1 .3l1 0l1 0l1 .6l1 0l1 0l1-.1l1 0l1 0l1-.4l1 0l1 0l1-.5l1 0l1 0l1 .1l1 0l1 0l1 .2l1 0l1 0l1 .5l1 0l1 0l1 .2l1 0l1 0l1-1.1l1 0l1 0l1 .4l1 0l1 0l1 .7l1 0l1 0l1-.9l1 0l1 0l1-.1l1 0l1 0l1 .2l1 0l1 0l1 .8l1 0l1 0l1-.8l1 0l1 0l1 .6l1 0l1 0l1-.8l1 0l1 0l1 .7l1 0l1 0l1-.6l1 0l1 0l1 .5l1 0l1 0l1 .2l1 0l1 0l1 .2l1 0l1 0l1-.6l1 0l1 0l1 .7l1 0l1 0l1-.7l1 0l1 0l1 .6l1 0l1 0l1 0l1 0l1 0l1 .1l1 0l1 0l1-1.1l1 0l1 0l1 .2l1 0l1 0l1 .5l1 0l1 0l1 .3l1 0l1 0l1-.8l1 0l1 0l1 .6l1 0l1 0l1-.3l1 0l1 0l1-.6l1 0l1 0l1 .1l1 0l1 0l1-.1l1 0l1 0l1 .3l1 0l1 0l1 .8l1 0l1 0l1-.3l1 0l1 0l1 .2l1 0l1 0l1 .1l1 0l1 0l1-.6l1 0l1 0l1 .3l1 0l1 0l1 0l1 0l1 0l1 0l1 0l1 0l1-.7l1 0l1 0l1 1l1 0l1 0" stroke="#ff00ff" stroke-width="7.0"/><path d="M199,771.3l1 0l1 0l1 .5l1 0l1 0l1 0l1 0l1 0l1 .2l1 0l1 0l1-.8l1 0l1 0l1 .1l1 0l1 0l1-.1l1 0l1 0l1 .1l1 0l1 0l1 .6l1 0l1 0l1-.8l1 0l1 0l1 .5l1 0l1 0l1-.4l1 0l1 0l1 .1l1 0l1 0l1 .2l1 0l1 0l1 .5l1 0l1 0l1-.3l1 0l1 0l1-.7l1 0l1 0l1 .3l1 0l1 0l1-.2l1 0l1 0l1 .9l1 0l1 0l1-.1l1 0l1 0l1 0l1 0l1 0l1 0l1 0l1 0l1-.1l1 0l1 0l1 .3l1 0l1-.1l1-.1l1-.1l1 0l1-.6l1 0l1 0l1 .7l1 0l1-.1l1-.4l1 0l1 0l1 .3l1-.1l1 0l1-.2l1-.1l1 0l1-.2l1-.1l1-.1l1-.1l1-.1l1-.1l1-.1l1-.2l1-.4l1-.6l1-1.1l1-1.9l1-3.8l1-5.6l1-7.4l1-7.3l1-6l1-.6l1 5l1 7.9l1 7.7l1 6.1l1 3.8l1 2.1l1 .7l1 .4l1 0l1-.5l1-1l1-2l1-3.2l1-4.7l1-5.4l1-5.2l1-1.2l1 2.8l1 5.8l1 5.4l1 4.3l1 2.6l1 1.7l1 .9l1 .1l1 .3l1 .1l1 .1l1 .1l1 0l1 .3l1 0l1-.1l1-.6l1-.4l1-.7l1-1.3l1-2.7l1-4.2l1-5.2l1-5.5l1-3.6l1 .2l1 4.2l1 5.6l1 5l1 3.8l1 2.5l1 1.8l1 .7l1 .4l1-.1l1 .2l1 .1l1 .1l1 .1l1 0l1 0l1 .1l1 0l1 .2l1 .1l1 0l1-.4l1 .1l1 0l1 .7l1 0l1 0l1 .4l1 0l1 0l1-.7l1 0l1 0l1 .4l1 0l1 .1l1 .2l1 0l1 0l1-1l1 0l1 0l1 .1l1 0l1 0l1 .8l1 0l1 0l1 0l1 0l1 0l1-.2l1 0l1 0l1-.6l1 0l1 0l1 .4l1 0l1 0l1 .5l1 0l1 0l1 0l1 0l1 0l1-.1l1 0l1 0l1-.7l1 0l1 0l1 .8l1 0l1 0l1-.6l1 0l1 0l1 .4l1 0l1 0l1-.6l1 0l1 0l1 1l1 0l1 0l1-.5l1 0l1 0l1 .2l1 0l1 0l1-.7l1 0l1 .1l1 .4l1 0l1 0l1 0l1 0l1 0l1 0l1 0l1 0l1-.3l1 0l1 0l1 .5l1 0l1 0l1-.5l1 0l1 0l1 0l1 0l1 0l1-.2l1 0l1 0l1 .6l1 0l1 0l1-.7l1 0l1-.1l1 .1l1 0l1 0l1-.2l1 .1l1 0l1 .7l1 0l1 0l1-.1l1 0l1 0l1 0l1-.1l1 0l1-.7l1-.1l1 0l1 .3l1-.1l1-.2l1-.3l1-.2l1-.2l1-.4l1-.1l1-.1l1-.1l1 .1l1 .2l1 1.4l1 .2l1 .2l1-.9l1 .1l1 .1l1 .4l1 0l1 .1l1 0l1 0l1 0l1 .5l1 0l1 0l1-.6l1 0l1 0l1 .4l1 0l1 0l1-.1l1 0l1 0l1 .6l1 0l1 0l1-1l1 0l1 0l1 .3l1 0l1 0l1 .2l1 0l1 0l1 .6l1 0l1-.1l1-.5l1 0l1-.1l1-.1l1 0l1 0l1 .1l1-.1l1-.2l1-.6l1-.3l1-.4l1-.8l1-.5l1-.7l1-.2l1-.8l1-.8l1-.3l1-.5l1-.3l1-.2l1 .4l1 .6l1 .1l1 .8l1 .8l1 1.3l1 .7l1 .5l1 .7l1 .3l1 .3l1-.5l1 .1l1 .1l1 .5l1 .1l1 0l1-.2l1 0l1 0l1-.1l1 0l1 0l1 .1l1 0l1 0l1-.1l1 0l1 0l1 .2l1 0l1 0l1-.3l1 0l1 0l1 .4l1 0l1 0l1-.4l1 0l1 0l1 .8l1 0l1 0l1-.1l1 0l1 0l1-.8l1 0l1 0l1 1l1 0l1 0l1-.7l1 0l1 0l1 .3l1 0l1 0l1 .1l1 0l1 0l1-.3l1 0l1 0l1-.1l1 0l1 0l1 .1l1 0l1 0l1-.4l1 0l1 0l1 .8l1 0l1-.1l1-.9l1-.1l1 0l1 .8l1-.1l1-.1l1-.8l1 0l1-.1l1 0l1-.1l1-.1l1 0l1-.1l1-.1l1-.6l1-.1l1-.1l1 0l1-.2l1-.3l1-.1l1-.6l1-.9l1-1l1-1l1-.7l1 .6l1 .7l1 .9l1 1l1 .6l1 .4l1-1l1 .1l1-.1l1 .5l1-.3l1-.4l1-1.1l1-.9l1-1l1-.2l1-.9l1-.5l1-.4l1 .7l1 1.2l1 1.9l1 1.2l1 1l1 .3l1 .5l1 .4l1-.2l1 .2l1 .1l1 0l1 .2l1 .1l1 .4l1 .1l1 0l1 .9l1 0l1 .1l1-.8l1 .1l1 0l1 .5l1 0l1 .1l1-.1l1 0l1 0l1 0l1 0l1 .1l1 .5l1 0l1 .1l1-.7l1 0l1 0l1 .6l1 0l1 0l1 0l1 0l1 0l1 .3l1 0l1 0l1-.5l1 0l1 0l1 .5l1 0l1 0l1-.6l1 0l1 0l1 .1l1 0l1 0l1 .1l1-.1l1 0l1 .3l1-.1l1 0l1 .1l1-.1l1 0l1-1l1-.1l1-.1l1 0l1-.2l1-.2l1 .2l1-.5l1-1.1l1-2.2l1-5.6l1-9.7l1-12.9l1-8.9l1 2.6l1 11.1l1 11.9l1 8l1 5l1 1.8l1 .8l1-.4l1 .2l1 .2l1-.1l1 .1l1 0l1 .1l1 0l1 .1l1 0l1 0l1 0l1 .9l1 0l1 0l1-.7l1 0l1 0l1 .8l1 0l1 0l1 .2l1 0l1 0l1 .1l1 0l1 0l1-.2l1 0l1 0l1-.4l1 0l1 0l1 .2l1 0l1 0l1 .3l1 0l1 0l1-.2l1 0l1 0l1-.5l1 0l1 0l1 .6l1 0l1 0l1-.8l1 0l1 0l1 .3l1 0l1 0l1 .8l1 0l1 0l1-.6l1 0l1 0l1-.3l1 0l1 0l1 .7l1 0l1 0l1-.4l1 0l1 0l1-.6l1 0l1 0l1 .1l1 0l1 0l1 .2l1 0l1 0l1 .1l1 0l1 0l1 .8l1 0l1 0l1-.9l1 0l1 0l1 .8l1 0l1 0l1 0l1 0l1 0l1-.6l1 0l1 0l1 .7l1 0l1 0l1-.2l1 0l1 0l1-.4l1 0l1 0l1-.2l1 0l1 0l1 .2l1 0l1 0l1 .5l1 0l1 0l1-.4l1 0l1 0l1-.4l1 0l1 0l1 .2l1 0l1 0l1 .1l1 0l1 0l1-.3l1 0l1 0l1 .4l1 0l1 0l1-.6l1 0l1 0l1 .9l1 0l1 0l1-.7l1 0l1 0l1-.1l1 0l1 0l1 .6l1 0l1 0l1-.4l1 0l1 0l1 .7l1 0l1 0l1-.5l1 0l1 0l1 .1l1 0l1-.1l1 .4l1 0l1 0l1-.7l1 0l1 0l1 .6l1 0l1 0l1-.2l1 0l1 0l1-.2l1-.1l1 0l1 .7l1-.1l1 0l1-1.1l1-.1l1 0l1 1l1-.1l1 0l1-1l1 0l1-.1l1 .7l1-.2l1-.2l1-1.2l1-.4l1-.9l1-2.1l1-4.6l1-9.6l1-15l1-17.4l1-8.5l1 9l1 17.5l1 15.4l1 8.8l1 4.7l1 1.9l1 1.2l1 .4l1 .4l1 .3l1 .2l1 .1l1-.3l1 .1l1 .1l1 .4l1 0l1 0l1-.6l1 .1l1 0l1 .5l1 .1l1 0l1 .4l1 0l1 0l1-.5l1 0l1 0l1-.1l1 0l1 0l1-.2l1 0l1 0l1 .8l1 0l1 0l1-.3l1 0l1 0l1 .6l1 0l1 0l1-.2l1 0l1 0l1-.8l1 0l1 0l1 1l1 0l1 0l1 0l1 0l1 0l1-.1l1 0l1 0l1 0l1 0l1 0l1-.2l1 0l1 0l1 .1l1 0l1 0l1-.1l1 0l1 0l1-.1l1 0l1 0l1-.4l1 0l1 .1l1-.2l1 0l1 0l1 .7l1 0l1 0l1-.1l1 0l1 0l1-.7l1 0l1 0l1 .7l1 0l1 0l1 0l1 0l1 0l1-.1l1 0l1 0l1 .3l1 0l1 0l1 .1l1 0l1 0l1-.6l1 0l1 0l1 .5l1 0l1 0l1-.3l1 0l1 0l1 .1l1 0l1 0l1-.2l1 0l1 0l1 .6l1 0l1 0l1-.6l1 0l1 0l1 .6l1 0l1 0l1-.7l1 0l1 0l1 .4l1 0l1 0l1 .3l1 0l1 0l1-.3l1 0l1 0l1-.4l1 0l1 0l1-.3l1 0l1 0l1 .5l1 0l1 0l1-.1l1 0l1 0l1 .5l1 0l1 0l1-.1l1 0l1 0l1 .3l1 0l1 0l1-.7l1 0l1 0l1 0l1 0l1 0l1 .2l1 0l1 0l1 .2l1 0l1 0l1-.8l1 0l1 0l1 .2l1 0l1 0l1-.1l1 0l1 0l1 .2l1 0l1 0l1 0l1 0l1 0l1 .8l1 0l1 0l1-.9l1 0l1 0l1 .8l1 0l1 0l1-.7l1 0l1 0l1-.1l1 0l1 0l1 .9l1 0l1 0l1-1.1l1 0l1 0l1 .1l1 0l1 0l1 0l1 0l1 0l1-.1l1 0l1 0l1 .4l1 0l1 0l1-.2l1 0l1 0l1-.1l1 0l1 0l1-.2l1 0l1 0l1 .9l1 0l1 0l1-.8l1 0l1 0l1 .2l1 0l1 0l1 .4l1 0l1 0l1 .4l1 0l1 0l1-.3l1 0l1 0l1 0l1 0l1 0l1-.1l1-.1l1-.2l1-.1l1-.6l1-.7l1-.8l1-.8l1-.4l1-.5l1 .8l1 .9l1 .6l1 .6l1 .3l1 .8l1 .1l1 .1l1-.1l1 0l1 0l1 0l1 0l1 0l1 .4l1 0l1 0l1-.8l1 0l1 0l1 .7l1 0l1 0l1-.3l1 0l1 0l1 0l1 0l1 0l1-.2l1 0l1 0l1 0l1 0l1 0l1 .4l1 0l1 0l1-.1l1 0l1 0l1 .5l1 0l1 0l1-.8l1 0l1 0l1 .5l1 0l1 0l1-.7l1 0l1 0l1 .7l1 0l1 0l1-.6l1 0l1 0l1 .8l1 0l1 0l1 .1l1 0l1 0l1-.8l1 0l1 0l1 .7l1 0l1 0l1-.7l1 0l1 0l1 .1l1 0l1 0l1-.3l1 0l1 0l1 .4l1 0l1 0l1-.4l1 0l1 0l1 .7l1 0l1 0l1-.1l1 0l1 0l1-.2l1 0l1 0l1 .4l1 0l1 0l1-.6l1 0l1 0l1 .1l1 0l1 0l1 0l1 0l1 0l1-.4l1 0l1 0l1 1.1l1 0l1 0l1-1l1 0l1 0l1 0l1 0l1 0l1 .9l1 0l1 0l1 0l1 0l1 0l1-.4l1 0l1 0l1-.1l1 0l1 0l1-.3l1 0l1 0l1-.2l1 0l1 0l1 .6l1 0l1 0l1-.3l1 0l1 0l1-.1l1 0l1 0l1 .9l1 0l1 0l1-1.1l1 0l1 0l1 .5l1 0l1 0l1 .4l1 0l1 0l1 0l1 0l1 0l1-.8l1 0l1 0l1 .8l1 0l1 0l1-.2l1 0l1 0l1 .1l1 0l1 0l1 .3l1 0l1 0l1-.1l1 0l1-.1l1-.2l1 0l1 0l1 .2l1 0l1 0l1-.4l1 0l1 0l1 0l1 0l1-.1l1 .3l1-.1l1-.1l1-.4l1-.1l1-.2l1-.6l1-.2l1-.3l1-.7l1-.3l1-.3l1 .7l1-.1l1 0l1-.5l1 .1l1 .2l1 .4l1 .3l1 .3l1 .1l1 .2l1 .3l1 .5l1 .2l1 .1l1-.1l1 .1l1 .1l1 .6l1 0l1 0l1-.2l1 0l1 0l1-.1l1 .1l1 0l1 .2l1 0l1 .1l1-.5l1 .1l1 0l1 .1l1 0l1 0l1 .2l1 0l1 0l1 0l1 0l1 0l1 .1l1 0l1 0l1 .1l1 0l1 0l1-.4l1 0l1 0l1 0l1 0l1 0l1-.4l1 0l1 0l1 .1l1 0l1 0l1 .2l1 0l1 0l1 .1l1 0l1 0l1 .5l1 0l1 0l1-1.1l1 0l1 0l1 .4l1 0l1 0l1 .5l1 0l1 0l1-.4l1 0l1 0l1 .5l1 0l1 0l1-.8l1 0l1 0l1 .7l1 0l1 0l1-.4l1 0l1 0l1 .2l1 0l1-.1l1-.6l1 0l1 0l1 .5l1-.1l1 0l1 .5l1 0l1 0l1-.1l1 0l1 0l1-.2l1 0l1 0l1-.1l1 0l1 0l1-.5l1 0l1 0l1 .8l1 0l1 0l1-.3l1 0l1 0l1 .3l1 0l1 0l1-.1l1 0l1 0l1-.3l1 0l1 0l1 .6l1 0l1 0l1-.9l1 0l1 0l1 1l1 0l1 0l1-1.1l1 0l1 0l1 1.1l1 0l1 0l1-.5l1 0l1 0l1-.1l1 0l1 0l1 .5l1 0l1 0l1-.5l1 0l1 0l1 0l1 0l1 0l1-.5l1 0l1 0l1 .9l1-.1l1 0l1-.2l1 0l1 0l1-.4l1-.1l1 0l1-.1l1 0l1 0l1 .3l1 0l1 0l1 .6l1 0l1 0l1-.1l1-.1l1 0l1-.6l1 0l1-.1l1-.6l1-.2l1-.2l1 .6l1-.8l1-2l1-4.9l1-7.2l1-8.7l1-5l1 2.6l1 8.3l1 7.8l1 5.4l1 2.7l1 1.7l1 .5l1 .3l1-.8l1 .1l1 .1l1 .8l1 .1l1 0l1-.1l1 .1l1 0l1-.8l1 0l1 0l1 .7l1 0l1 0l1-.3l1 0l1 0l1 .5l1 0l1 0l1 .3l1 0l1 0l1-.3l1 0l1 0l1-.2l1 0l1 0l1 .1l1 0l1 0l1-.4l1 0l1 0l1 .2l1 0l1 0l1-.4l1 0l1 0l1 .7l1 0l1 0l1-.7l1 0l1 0l1 .5l1 0l1 0l1-.4l1 0l1 0l1 .5l1 0l1 0l1-.7l1 0l1 0l1 0l1 0l1 0l1 .7l1 0l1 0l1 .1l1 0l1 0l1 .2l1 0l1 0l1-.2l1 0l1 0l1 .4l1 0l1 0l1-1.1l1 0l1 0l1 .6l1 0l1 0l1 0l1 0l1 0l1-.5l1 0l1 0l1-.1l1 0l1 0l1 .2l1 0l1 0l1 .3l1 0l1 0l1 .3l1 0l1 0l1-.1l1 0l1 0l1-.1l1 0l1-.1l1-.5l1 0l1 0l1 .7l1 0l1 0l1-.2l1 0l1 0l1-.4l1 0l1 0l1 .5l1 0l1 0l1-.4l1 0l1 0l1 0l1 0l1 0l1 .2l1 0l1 0l1 .4l1 0l1 0l1-.8l1 0l1 0l1 .4l1 0l1 0l1-.3l1 0l1 0l1 .6l1 0l1 0l1 .1l1 0l1 0l1-.6l1 0l1 0l1 .5l1 0l1 0l1-.3l1 0l1 0l1-.3l1 0l1 0l1 .1l1 0l1 0l1 .3l1 0l1 0l1 .3l1 0l1 0l1-.2l1 0l1 0l1-.8l1 0l1 0l1 1l1 0l1 0l1-.3l1 0l1 0l1-.2l1 0l1 0l1-.2l1 0l1 0l1 .3l1 0l1 0l1 .3l1 0l1 0l1-.6l1 0l1 0l1-.1l1 0l1 0l1 .9l1 0l1 0l1-.6l1 0l1 0l1-.4l1 0l1 0l1 1l1 0l1 0l1-1l1 0l1 0l1 .3l1 0l1 0l1 .4l1 0l1 0l1 0l1 0l1 0l1 .3l1 0l1 0l1-.9l1 0l1 0l1 .5l1 0l1 0l1 .4l1 0l1 0l1-.5l1 0l1 0l1 .3l1 0l1 0l1-.3l1 0l1 0l1 .3l1 0l1 0l1 .2l1 0l1 0l1-.7l1 0l1 0l1 .5l1 0l1 0l1-.5l1 0l1 0l1 .7l1 0l1 0l1-.2l1 0l1 0l1 .1l1 0l1 0l1 0l1 0l1 0l1-.3l1 0l1 0l1 .4l1 0l1 0l1-.9l1 0l1 0l1 .5l1 0l1 0l1-.6l1 0l1 0l1 .6l1 0l1 0l1 .1l1 0l1 0l1-.5l1 0l1 0l1 .6l1 0l1 0l1-.4l1 0l1 0l1-.3l1 0l1 0l1 0l1 0l1 0l1 .5l1 0l1 0l1-.3l1 0l1 0l1-.4l1 0l1 0l1 .3l1 0l1 0l1 .8l1 0l1 0l1-.6l1 0l1 0l1 .3l1 0l1 0l1-.3l1 0l1 0l1-.5l1 0l1 0l1 .7l1 0l1 0l1-.5l1 0l1 0l1-.1l1 0l1 0l1 .6l1 0l1 0l1 0l1 0l1 0l1-.8l1 0l1 0l1 1.2l1 0l1 0l1-1.1l1 0l1 0l1 .1l1 0l1 0l1 .2l1 0l1 0l1 .6l1 0l1 0l1-.1l1 0l1 0l1 0l1 0l1 0l1-.4l1 0l1 0l1 .6l1 0l1 0l1-.9l1 0l1 0l1 1l1 0l1-.1l1-1l1-.1l1 0l1 .2l1 0l1 0l1 .7l1 0l1 0l1 0l1 0l1 0l1-.2l1 0l1 0l1-.5l1-.1l1 0l1 .7l1 0l1-.1l1-.6l1-.4l1-.6l1-1.4l1-1.5l1-1.8l1-1.7l1-.7l1 .7l1 2.7l1 1.7l1 1.5l1 0l1 .6l1 .3l1 .4l1 .1l1 0l1 .2l1 .1l1 0l1 .7l1 0l1 0l1-.1l1 0l1 0l1 0l1 .1l1 0l1-.3l1 0l1 0l1-.7l1 0l1 0l1 .9l1 0l1 0l1-.7l1 0l1 0l1 .9l1 0l1 0l1 0l1 0l1 0l1-1l1 0l1 0l1 .8l1 0l1 0l1-.6l1 0l1 0l1-.2l1 0l1 0l1 .9l1 0l1 0l1-.5l1 0l1 0l1-.2l1 0l1 0l1 .3l1 0l1 0l1-.6l1 0l1 0l1 .5l1 0l1 0l1 .2l1 0l1 0l1 .3l1 0l1 0l1-.9l1 0l1 0l1 .9l1 0l1 0l1-.9l1 0l1 0l1 .1l1 0l1 0l1 .2l1 0l1 0l1-.2l1 0l1 0l1-.1l1 0l1 0l1 .6l1 0l1 0l1-.3l1 0l1 0l1-.2l1 0l1 0l1 .4l1 0l1 0l1-.5l1 0l1 0l1 .6l1 0l1 0l1 .4l1 0l1 0l1-.6l1 0l1-.1l1 0l1 0l1-.1l1 0l1-.1l1 0l1-.2l1-.3l1-.6l1-1l1-1.3l1-1.1l1-.4l1 1l1 1.3l1 1.2l1 .7l1 .4l1 .6l1 .1l1 0l1-.2l1 0l1 0l1-.5l1 .1l1 0l1 .1l1 0l1 0l1 .8l1 0l1 0l1-.6l1 0l1 0l1 .6l1 0l1 0l1-.2l1 0l1 0l1 0l1 0l1 0l1-.4l1 0l1 0l1 .3l1 0l1 0l1-.2l1 0l1 0l1 .1l1 0l1 0l1 .5l1 0l1 0l1-1l1 0l1 0l1 .2l1 0l1 0l1 .8l1 0l1 0l1 0l1 0l1 0l1-.1l1 0l1 0l1 0l1 0l1 0l1-.9l1 0l1 0l1 .8l1 0l1 0l1-.7l1 0l1 0l1 .8l1 0l1 0l1-.5l1 0l1 0l1 .1l1 0l1 0" stroke="#ec7352" stroke-width="11.0" stroke-opacity="0.22"/><path d="M199,771.3l1 0l1 0l1 .5l1 0l1 0l1 0l1 0l1 0l1 .2l1 0l1 0l1-.8l1 0l1 0l1 .1l1 0l1 0l1-.1l1 0l1 0l1 .1l1 0l1 0l1 .6l1 0l1 0l1-.8l1 0l1 0l1 .5l1 0l1 0l1-.4l1 0l1 0l1 .1l1 0l1 0l1 .2l1 0l1 0l1 .5l1 0l1 0l1-.3l1 0l1 0l1-.7l1 0l1 0l1 .3l1 0l1 0l1-.2l1 0l1 0l1 .9l1 0l1 0l1-.1l1 0l1 0l1 0l1 0l1 0l1 0l1 0l1 0l1-.1l1 0l1 0l1 .3l1 0l1-.1l1-.1l1-.1l1 0l1-.6l1 0l1 0l1 .7l1 0l1-.1l1-.4l1 0l1 0l1 .3l1-.1l1 0l1-.2l1-.1l1 0l1-.2l1-.1l1-.1l1-.1l1-.1l1-.1l1-.1l1-.2l1-.4l1-.6l1-1.1l1-1.9l1-3.8l1-5.6l1-7.4l1-7.3l1-6l1-.6l1 5l1 7.9l1 7.7l1 6.1l1 3.8l1 2.1l1 .7l1 .4l1 0l1-.5l1-1l1-2l1-3.2l1-4.7l1-5.4l1-5.2l1-1.2l1 2.8l1 5.8l1 5.4l1 4.3l1 2.6l1 1.7l1 .9l1 .1l1 .3l1 .1l1 .1l1 .1l1 0l1 .3l1 0l1-.1l1-.6l1-.4l1-.7l1-1.3l1-2.7l1-4.2l1-5.2l1-5.5l1-3.6l1 .2l1 4.2l1 5.6l1 5l1 3.8l1 2.5l1 1.8l1 .7l1 .4l1-.1l1 .2l1 .1l1 .1l1 .1l1 0l1 0l1 .1l1 0l1 .2l1 .1l1 0l1-.4l1 .1l1 0l1 .7l1 0l1 0l1 .4l1 0l1 0l1-.7l1 0l1 0l1 .4l1 0l1 .1l1 .2l1 0l1 0l1-1l1 0l1 0l1 .1l1 0l1 0l1 .8l1 0l1 0l1 0l1 0l1 0l1-.2l1 0l1 0l1-.6l1 0l1 0l1 .4l1 0l1 0l1 .5l1 0l1 0l1 0l1 0l1 0l1-.1l1 0l1 0l1-.7l1 0l1 0l1 .8l1 0l1 0l1-.6l1 0l1 0l1 .4l1 0l1 0l1-.6l1 0l1 0l1 1l1 0l1 0l1-.5l1 0l1 0l1 .2l1 0l1 0l1-.7l1 0l1 .1l1 .4l1 0l1 0l1 0l1 0l1 0l1 0l1 0l1 0l1-.3l1 0l1 0l1 .5l1 0l1 0l1-.5l1 0l1 0l1 0l1 0l1 0l1-.2l1 0l1 0l1 .6l1 0l1 0l1-.7l1 0l1-.1l1 .1l1 0l1 0l1-.2l1 .1l1 0l1 .7l1 0l1 0l1-.1l1 0l1 0l1 0l1-.1l1 0l1-.7l1-.1l1 0l1 .3l1-.1l1-.2l1-.3l1-.2l1-.2l1-.4l1-.1l1-.1l1-.1l1 .1l1 .2l1 1.4l1 .2l1 .2l1-.9l1 .1l1 .1l1 .4l1 0l1 .1l1 0l1 0l1 0l1 .5l1 0l1 0l1-.6l1 0l1 0l1 .4l1 0l1 0l1-.1l1 0l1 0l1 .6l1 0l1 0l1-1l1 0l1 0l1 .3l1 0l1 0l1 .2l1 0l1 0l1 .6l1 0l1-.1l1-.5l1 0l1-.1l1-.1l1 0l1 0l1 .1l1-.1l1-.2l1-.6l1-.3l1-.4l1-.8l1-.5l1-.7l1-.2l1-.8l1-.8l1-.3l1-.5l1-.3l1-.2l1 .4l1 .6l1 .1l1 .8l1 .8l1 1.3l1 .7l1 .5l1 .7l1 .3l1 .3l1-.5l1 .1l1 .1l1 .5l1 .1l1 0l1-.2l1 0l1 0l1-.1l1 0l1 0l1 .1l1 0l1 0l1-.1l1 0l1 0l1 .2l1 0l1 0l1-.3l1 0l1 0l1 .4l1 0l1 0l1-.4l1 0l1 0l1 .8l1 0l1 0l1-.1l1 0l1 0l1-.8l1 0l1 0l1 1l1 0l1 0l1-.7l1 0l1 0l1 .3l1 0l1 0l1 .1l1 0l1 0l1-.3l1 0l1 0l1-.1l1 0l1 0l1 .1l1 0l1 0l1-.4l1 0l1 0l1 .8l1 0l1-.1l1-.9l1-.1l1 0l1 .8l1-.1l1-.1l1-.8l1 0l1-.1l1 0l1-.1l1-.1l1 0l1-.1l1-.1l1-.6l1-.1l1-.1l1 0l1-.2l1-.3l1-.1l1-.6l1-.9l1-1l1-1l1-.7l1 .6l1 .7l1 .9l1 1l1 .6l1 .4l1-1l1 .1l1-.1l1 .5l1-.3l1-.4l1-1.1l1-.9l1-1l1-.2l1-.9l1-.5l1-.4l1 .7l1 1.2l1 1.9l1 1.2l1 1l1 .3l1 .5l1 .4l1-.2l1 .2l1 .1l1 0l1 .2l1 .1l1 .4l1 .1l1 0l1 .9l1 0l1 .1l1-.8l1 .1l1 0l1 .5l1 0l1 .1l1-.1l1 0l1 0l1 0l1 0l1 .1l1 .5l1 0l1 .1l1-.7l1 0l1 0l1 .6l1 0l1 0l1 0l1 0l1 0l1 .3l1 0l1 0l1-.5l1 0l1 0l1 .5l1 0l1 0l1-.6l1 0l1 0l1 .1l1 0l1 0l1 .1l1-.1l1 0l1 .3l1-.1l1 0l1 .1l1-.1l1 0l1-1l1-.1l1-.1l1 0l1-.2l1-.2l1 .2l1-.5l1-1.1l1-2.2l1-5.6l1-9.7l1-12.9l1-8.9l1 2.6l1 11.1l1 11.9l1 8l1 5l1 1.8l1 .8l1-.4l1 .2l1 .2l1-.1l1 .1l1 0l1 .1l1 0l1 .1l1 0l1 0l1 0l1 .9l1 0l1 0l1-.7l1 0l1 0l1 .8l1 0l1 0l1 .2l1 0l1 0l1 .1l1 0l1 0l1-.2l1 0l1 0l1-.4l1 0l1 0l1 .2l1 0l1 0l1 .3l1 0l1 0l1-.2l1 0l1 0l1-.5l1 0l1 0l1 .6l1 0l1 0l1-.8l1 0l1 0l1 .3l1 0l1 0l1 .8l1 0l1 0l1-.6l1 0l1 0l1-.3l1 0l1 0l1 .7l1 0l1 0l1-.4l1 0l1 0l1-.6l1 0l1 0l1 .1l1 0l1 0l1 .2l1 0l1 0l1 .1l1 0l1 0l1 .8l1 0l1 0l1-.9l1 0l1 0l1 .8l1 0l1 0l1 0l1 0l1 0l1-.6l1 0l1 0l1 .7l1 0l1 0l1-.2l1 0l1 0l1-.4l1 0l1 0l1-.2l1 0l1 0l1 .2l1 0l1 0l1 .5l1 0l1 0l1-.4l1 0l1 0l1-.4l1 0l1 0l1 .2l1 0l1 0l1 .1l1 0l1 0l1-.3l1 0l1 0l1 .4l1 0l1 0l1-.6l1 0l1 0l1 .9l1 0l1 0l1-.7l1 0l1 0l1-.1l1 0l1 0l1 .6l1 0l1 0l1-.4l1 0l1 0l1 .7l1 0l1 0l1-.5l1 0l1 0l1 .1l1 0l1-.1l1 .4l1 0l1 0l1-.7l1 0l1 0l1 .6l1 0l1 0l1-.2l1 0l1 0l1-.2l1-.1l1 0l1 .7l1-.1l1 0l1-1.1l1-.1l1 0l1 1l1-.1l1 0l1-1l1 0l1-.1l1 .7l1-.2l1-.2l1-1.2l1-.4l1-.9l1-2.1l1-4.6l1-9.6l1-15l1-17.4l1-8.5l1 9l1 17.5l1 15.4l1 8.8l1 4.7l1 1.9l1 1.2l1 .4l1 .4l1 .3l1 .2l1 .1l1-.3l1 .1l1 .1l1 .4l1 0l1 0l1-.6l1 .1l1 0l1 .5l1 .1l1 0l1 .4l1 0l1 0l1-.5l1 0l1 0l1-.1l1 0l1 0l1-.2l1 0l1 0l1 .8l1 0l1 0l1-.3l1 0l1 0l1 .6l1 0l1 0l1-.2l1 0l1 0l1-.8l1 0l1 0l1 1l1 0l1 0l1 0l1 0l1 0l1-.1l1 0l1 0l1 0l1 0l1 0l1-.2l1 0l1 0l1 .1l1 0l1 0l1-.1l1 0l1 0l1-.1l1 0l1 0l1-.4l1 0l1 .1l1-.2l1 0l1 0l1 .7l1 0l1 0l1-.1l1 0l1 0l1-.7l1 0l1 0l1 .7l1 0l1 0l1 0l1 0l1 0l1-.1l1 0l1 0l1 .3l1 0l1 0l1 .1l1 0l1 0l1-.6l1 0l1 0l1 .5l1 0l1 0l1-.3l1 0l1 0l1 .1l1 0l1 0l1-.2l1 0l1 0l1 .6l1 0l1 0l1-.6l1 0l1 0l1 .6l1 0l1 0l1-.7l1 0l1 0l1 .4l1 0l1 0l1 .3l1 0l1 0l1-.3l1 0l1 0l1-.4l1 0l1 0l1-.3l1 0l1 0l1 .5l1 0l1 0l1-.1l1 0l1 0l1 .5l1 0l1 0l1-.1l1 0l1 0l1 .3l1 0l1 0l1-.7l1 0l1 0l1 0l1 0l1 0l1 .2l1 0l1 0l1 .2l1 0l1 0l1-.8l1 0l1 0l1 .2l1 0l1 0l1-.1l1 0l1 0l1 .2l1 0l1 0l1 0l1 0l1 0l1 .8l1 0l1 0l1-.9l1 0l1 0l1 .8l1 0l1 0l1-.7l1 0l1 0l1-.1l1 0l1 0l1 .9l1 0l1 0l1-1.1l1 0l1 0l1 .1l1 0l1 0l1 0l1 0l1 0l1-.1l1 0l1 0l1 .4l1 0l1 0l1-.2l1 0l1 0l1-.1l1 0l1 0l1-.2l1 0l1 0l1 .9l1 0l1 0l1-.8l1 0l1 0l1 .2l1 0l1 0l1 .4l1 0l1 0l1 .4l1 0l1 0l1-.3l1 0l1 0l1 0l1 0l1 0l1-.1l1-.1l1-.2l1-.1l1-.6l1-.7l1-.8l1-.8l1-.4l1-.5l1 .8l1 .9l1 .6l1 .6l1 .3l1 .8l1 .1l1 .1l1-.1l1 0l1 0l1 0l1 0l1 0l1 .4l1 0l1 0l1-.8l1 0l1 0l1 .7l1 0l1 0l1-.3l1 0l1 0l1 0l1 0l1 0l1-.2l1 0l1 0l1 0l1 0l1 0l1 .4l1 0l1 0l1-.1l1 0l1 0l1 .5l1 0l1 0l1-.8l1 0l1 0l1 .5l1 0l1 0l1-.7l1 0l1 0l1 .7l1 0l1 0l1-.6l1 0l1 0l1 .8l1 0l1 0l1 .1l1 0l1 0l1-.8l1 0l1 0l1 .7l1 0l1 0l1-.7l1 0l1 0l1 .1l1 0l1 0l1-.3l1 0l1 0l1 .4l1 0l1 0l1-.4l1 0l1 0l1 .7l1 0l1 0l1-.1l1 0l1 0l1-.2l1 0l1 0l1 .4l1 0l1 0l1-.6l1 0l1 0l1 .1l1 0l1 0l1 0l1 0l1 0l1-.4l1 0l1 0l1 1.1l1 0l1 0l1-1l1 0l1 0l1 0l1 0l1 0l1 .9l1 0l1 0l1 0l1 0l1 0l1-.4l1 0l1 0l1-.1l1 0l1 0l1-.3l1 0l1 0l1-.2l1 0l1 0l1 .6l1 0l1 0l1-.3l1 0l1 0l1-.1l1 0l1 0l1 .9l1 0l1 0l1-1.1l1 0l1 0l1 .5l1 0l1 0l1 .4l1 0l1 0l1 0l1 0l1 0l1-.8l1 0l1 0l1 .8l1 0l1 0l1-.2l1 0l1 0l1 .1l1 0l1 0l1 .3l1 0l1 0l1-.1l1 0l1-.1l1-.2l1 0l1 0l1 .2l1 0l1 0l1-.4l1 0l1 0l1 0l1 0l1-.1l1 .3l1-.1l1-.1l1-.4l1-.1l1-.2l1-.6l1-.2l1-.3l1-.7l1-.3l1-.3l1 .7l1-.1l1 0l1-.5l1 .1l1 .2l1 .4l1 .3l1 .3l1 .1l1 .2l1 .3l1 .5l1 .2l1 .1l1-.1l1 .1l1 .1l1 .6l1 0l1 0l1-.2l1 0l1 0l1-.1l1 .1l1 0l1 .2l1 0l1 .1l1-.5l1 .1l1 0l1 .1l1 0l1 0l1 .2l1 0l1 0l1 0l1 0l1 0l1 .1l1 0l1 0l1 .1l1 0l1 0l1-.4l1 0l1 0l1 0l1 0l1 0l1-.4l1 0l1 0l1 .1l1 0l1 0l1 .2l1 0l1 0l1 .1l1 0l1 0l1 .5l1 0l1 0l1-1.1l1 0l1 0l1 .4l1 0l1 0l1 .5l1 0l1 0l1-.4l1 0l1 0l1 .5l1 0l1 0l1-.8l1 0l1 0l1 .7l1 0l1 0l1-.4l1 0l1 0l1 .2l1 0l1-.1l1-.6l1 0l1 0l1 .5l1-.1l1 0l1 .5l1 0l1 0l1-.1l1 0l1 0l1-.2l1 0l1 0l1-.1l1 0l1 0l1-.5l1 0l1 0l1 .8l1 0l1 0l1-.3l1 0l1 0l1 .3l1 0l1 0l1-.1l1 0l1 0l1-.3l1 0l1 0l1 .6l1 0l1 0l1-.9l1 0l1 0l1 1l1 0l1 0l1-1.1l1 0l1 0l1 1.1l1 0l1 0l1-.5l1 0l1 0l1-.1l1 0l1 0l1 .5l1 0l1 0l1-.5l1 0l1 0l1 0l1 0l1 0l1-.5l1 0l1 0l1 .9l1-.1l1 0l1-.2l1 0l1 0l1-.4l1-.1l1 0l1-.1l1 0l1 0l1 .3l1 0l1 0l1 .6l1 0l1 0l1-.1l1-.1l1 0l1-.6l1 0l1-.1l1-.6l1-.2l1-.2l1 .6l1-.8l1-2l1-4.9l1-7.2l1-8.7l1-5l1 2.6l1 8.3l1 7.8l1 5.4l1 2.7l1 1.7l1 .5l1 .3l1-.8l1 .1l1 .1l1 .8l1 .1l1 0l1-.1l1 .1l1 0l1-.8l1 0l1 0l1 .7l1 0l1 0l1-.3l1 0l1 0l1 .5l1 0l1 0l1 .3l1 0l1 0l1-.3l1 0l1 0l1-.2l1 0l1 0l1 .1l1 0l1 0l1-.4l1 0l1 0l1 .2l1 0l1 0l1-.4l1 0l1 0l1 .7l1 0l1 0l1-.7l1 0l1 0l1 .5l1 0l1 0l1-.4l1 0l1 0l1 .5l1 0l1 0l1-.7l1 0l1 0l1 0l1 0l1 0l1 .7l1 0l1 0l1 .1l1 0l1 0l1 .2l1 0l1 0l1-.2l1 0l1 0l1 .4l1 0l1 0l1-1.1l1 0l1 0l1 .6l1 0l1 0l1 0l1 0l1 0l1-.5l1 0l1 0l1-.1l1 0l1 0l1 .2l1 0l1 0l1 .3l1 0l1 0l1 .3l1 0l1 0l1-.1l1 0l1 0l1-.1l1 0l1-.1l1-.5l1 0l1 0l1 .7l1 0l1 0l1-.2l1 0l1 0l1-.4l1 0l1 0l1 .5l1 0l1 0l1-.4l1 0l1 0l1 0l1 0l1 0l1 .2l1 0l1 0l1 .4l1 0l1 0l1-.8l1 0l1 0l1 .4l1 0l1 0l1-.3l1 0l1 0l1 .6l1 0l1 0l1 .1l1 0l1 0l1-.6l1 0l1 0l1 .5l1 0l1 0l1-.3l1 0l1 0l1-.3l1 0l1 0l1 .1l1 0l1 0l1 .3l1 0l1 0l1 .3l1 0l1 0l1-.2l1 0l1 0l1-.8l1 0l1 0l1 1l1 0l1 0l1-.3l1 0l1 0l1-.2l1 0l1 0l1-.2l1 0l1 0l1 .3l1 0l1 0l1 .3l1 0l1 0l1-.6l1 0l1 0l1-.1l1 0l1 0l1 .9l1 0l1 0l1-.6l1 0l1 0l1-.4l1 0l1 0l1 1l1 0l1 0l1-1l1 0l1 0l1 .3l1 0l1 0l1 .4l1 0l1 0l1 0l1 0l1 0l1 .3l1 0l1 0l1-.9l1 0l1 0l1 .5l1 0l1 0l1 .4l1 0l1 0l1-.5l1 0l1 0l1 .3l1 0l1 0l1-.3l1 0l1 0l1 .3l1 0l1 0l1 .2l1 0l1 0l1-.7l1 0l1 0l1 .5l1 0l1 0l1-.5l1 0l1 0l1 .7l1 0l1 0l1-.2l1 0l1 0l1 .1l1 0l1 0l1 0l1 0l1 0l1-.3l1 0l1 0l1 .4l1 0l1 0l1-.9l1 0l1 0l1 .5l1 0l1 0l1-.6l1 0l1 0l1 .6l1 0l1 0l1 .1l1 0l1 0l1-.5l1 0l1 0l1 .6l1 0l1 0l1-.4l1 0l1 0l1-.3l1 0l1 0l1 0l1 0l1 0l1 .5l1 0l1 0l1-.3l1 0l1 0l1-.4l1 0l1 0l1 .3l1 0l1 0l1 .8l1 0l1 0l1-.6l1 0l1 0l1 .3l1 0l1 0l1-.3l1 0l1 0l1-.5l1 0l1 0l1 .7l1 0l1 0l1-.5l1 0l1 0l1-.1l1 0l1 0l1 .6l1 0l1 0l1 0l1 0l1 0l1-.8l1 0l1 0l1 1.2l1 0l1 0l1-1.1l1 0l1 0l1 .1l1 0l1 0l1 .2l1 0l1 0l1 .6l1 0l1 0l1-.1l1 0l1 0l1 0l1 0l1 0l1-.4l1 0l1 0l1 .6l1 0l1 0l1-.9l1 0l1 0l1 1l1 0l1-.1l1-1l1-.1l1 0l1 .2l1 0l1 0l1 .7l1 0l1 0l1 0l1 0l1 0l1-.2l1 0l1 0l1-.5l1-.1l1 0l1 .7l1 0l1-.1l1-.6l1-.4l1-.6l1-1.4l1-1.5l1-1.8l1-1.7l1-.7l1 .7l1 2.7l1 1.7l1 1.5l1 0l1 .6l1 .3l1 .4l1 .1l1 0l1 .2l1 .1l1 0l1 .7l1 0l1 0l1-.1l1 0l1 0l1 0l1 .1l1 0l1-.3l1 0l1 0l1-.7l1 0l1 0l1 .9l1 0l1 0l1-.7l1 0l1 0l1 .9l1 0l1 0l1 0l1 0l1 0l1-1l1 0l1 0l1 .8l1 0l1 0l1-.6l1 0l1 0l1-.2l1 0l1 0l1 .9l1 0l1 0l1-.5l1 0l1 0l1-.2l1 0l1 0l1 .3l1 0l1 0l1-.6l1 0l1 0l1 .5l1 0l1 0l1 .2l1 0l1 0l1 .3l1 0l1 0l1-.9l1 0l1 0l1 .9l1 0l1 0l1-.9l1 0l1 0l1 .1l1 0l1 0l1 .2l1 0l1 0l1-.2l1 0l1 0l1-.1l1 0l1 0l1 .6l1 0l1 0l1-.3l1 0l1 0l1-.2l1 0l1 0l1 .4l1 0l1 0l1-.5l1 0l1 0l1 .6l1 0l1 0l1 .4l1 0l1 0l1-.6l1 0l1-.1l1 0l1 0l1-.1l1 0l1-.1l1 0l1-.2l1-.3l1-.6l1-1l1-1.3l1-1.1l1-.4l1 1l1 1.3l1 1.2l1 .7l1 .4l1 .6l1 .1l1 0l1-.2l1 0l1 0l1-.5l1 .1l1 0l1 .1l1 0l1 0l1 .8l1 0l1 0l1-.6l1 0l1 0l1 .6l1 0l1 0l1-.2l1 0l1 0l1 0l1 0l1 0l1-.4l1 0l1 0l1 .3l1 0l1 0l1-.2l1 0l1 0l1 .1l1 0l1 0l1 .5l1 0l1 0l1-1l1 0l1 0l1 .2l1 0l1 0l1 .8l1 0l1 0l1 0l1 0l1 0l1-.1l1 0l1 0l1 0l1 0l1 0l1-.9l1 0l1 0l1 .8l1 0l1 0l1-.7l1 0l1 0l1 .8l1 0l1 0l1-.5l1 0l1 0l1 .1l1 0l1 0" stroke="#ec7352" stroke-width="7.0"/><path d="M199,943.9l1 0l1 0l1 .7l1 0l1 0l1 0l1 0l1 0l1 .3l1 0l1 0l1-.8l1 0l1 0l1 0l1 0l1 0l1 .6l1 0l1 0l1-.1l1 0l1 0l1-.4l1 0l1 0l1 .4l1 0l1 0l1-.3l1 0l1 0l1 .5l1 0l1 0l1-.8l1 0l1 0l1 .1l1 0l1 0l1 .8l1 0l1 0l1-.6l1 0l1 0l1-.1l1 0l1 0l1 .6l1 0l1 0l1-.2l1 0l1 0l1-.6l1 0l1 0l1 .5l1 0l1 0l1 .1l1 0l1 0l1-.5l1 0l1-.1l1 .6l1 0l1 0l1-.6l1 0l1 0l1 .3l1-.1l1 0l1-.3l1 0l1 0l1 .2l1 0l1 0l1 .9l1 0l1 0l1-.7l1 0l1 0l1 .7l1-.1l1 0l1-.7l1 0l1 0l1 .1l1 0l1-.1l1 .3l1-.1l1-.2l1-.5l1-.6l1-1.2l1-3.2l1-4.2l1-5.5l1-4.3l1-1.1l1 3.7l1 5.6l1 4.8l1 3.2l1 1.1l1 .7l1 .3l1 0l1 0l1-.2l1 .5l1-1l1-1.4l1-2.3l1-1.9l1-1.3l1-.2l1 1.5l1 2l1 2.2l1 1.3l1 .9l1 .2l1 .3l1 .1l1 .8l1 0l1 0l1-.3l1 0l1 0l1-.5l1-.1l1 0l1 .7l1-.2l1-.4l1-1.6l1-1.2l1-1.7l1-1.8l1-1.7l1-.7l1 .5l1 1.8l1 1.8l1 2.3l1 .9l1 .4l1-.7l1 0l1-.2l1 .2l1-.2l1-.1l1-.7l1 0l1 .1l1 .6l1 .2l1 .3l1 .5l1 .3l1 .3l1 .1l1 .2l1 .2l1 .1l1 .1l1 .1l1 .2l1 0l1 .1l1 0l1 0l1 0l1 .2l1 0l1 .1l1-.6l1 0l1 0l1 .4l1 .1l1 0l1-.3l1 0l1 0l1 .8l1 0l1 0l1 .1l1 0l1 0l1-1.1l1 0l1 0l1 .1l1 0l1 0l1 .7l1 0l1 0l1-.1l1 0l1 0l1-.7l1 0l1 0l1 .8l1 0l1 0l1 .3l1 0l1 0l1-.6l1 0l1 0l1-.1l1 0l1 0l1 .3l1 0l1 0l1 .4l1 0l1 0l1-.8l1 0l1 0l1 .1l1 0l1 0l1-.1l1 0l1 0l1 .5l1 0l1 0l1-.2l1 0l1 0l1-.2l1 0l1 0l1 .1l1 0l1 0l1-.4l1 0l1 0l1 .3l1 0l1 0l1 .8l1 0l1 0l1-.4l1 0l1 0l1-.4l1 0l1 0l1 .8l1 0l1 0l1-.7l1 0l1 0l1-.1l1 0l1 0l1-.3l1 0l1 0l1 .2l1 0l1 0l1 0l1 0l1 0l1 .1l1 0l1 0l1 .7l1 0l1 0l1-.7l1 0l1 0l1 0l1 0l1 0l1 .4l1 0l1 0l1 .4l1 0l1 0l1-.8l1 0l1 0l1 .6l1 0l1 0l1-.5l1 0l1 0l1 .3l1 0l1 0l1 0l1 0l1 0l1 .4l1 0l1 0l1-.2l1 0l1 0l1-.3l1 0l1 0l1 .3l1 0l1 0l1-.6l1 0l1 0l1 0l1 0l1 0l1 .7l1-.1l1 0l1-.5l1 0l1-.1l1 .3l1-.1l1-.1l1-.6l1-.2l1-.2l1 .5l1-.4l1-.6l1-1l1-.9l1-1.1l1-1.8l1-1.5l1-1.6l1-.8l1-1.5l1-1.2l1-1.3l1-.1l1 .5l1 .9l1 1.4l1 1.6l1 1.5l1 1.6l1 1.4l1 1l1 1l1 .7l1 .8l1 .4l1 .3l1 .8l1 .2l1 .1l1-.5l1 0l1 .1l1 .2l1 0l1 0l1 .3l1 0l1 0l1 .2l1 0l1 0l1-.2l1 0l1 .1l1 .5l1 0l1 0l1-.6l1 0l1 0l1 .1l1 0l1 0l1 .1l1 0l1 0l1-.3l1 0l1 0l1 .1l1 0l1 0l1-.1l1 0l1 0l1 .7l1 0l1 0l1-.7l1 0l1 0l1 .7l1 0l1 0l1-.6l1 0l1 0l1 .6l1 0l1 0l1 0l1 0l1 0l1-.4l1 0l1 0l1 .7l1 0l1 0l1-.3l1 0l1 0l1-.1l1 0l1 0l1-.6l1 0l1 0l1 .4l1 0l1 0l1-.2l1 0l1 0l1 .3l1 0l1-.1l1 .6l1-.1l1 0l1-.2l1-.1l1-.1l1-1l1 0l1 0l1 .8l1 .1l1 .1l1 .4l1 0l1 .1l1-.5l1 .1l1 0l1-.6l1 0l1 0l1 .9l1 0l1 0l1-.5l1-.1l1-.1l1 .4l1-.3l1-.4l1-.4l1 0l1 .1l1 .3l1 .3l1 .3l1 .3l1 .1l1 .1l1-1l1 0l1 0l1 .9l1 0l1 0l1-.6l1 0l1 0l1-.2l1 0l1 0l1 .3l1 0l1 0l1 .2l1 0l1 0l1-.7l1 0l1 0l1 .5l1 0l1 0l1 .4l1 0l1 0l1-.4l1 0l1 0l1 0l1-.1l1 0l1-.3l1-.1l1 0l1 .7l1-.1l1 0l1-1l1-.1l1 0l1 .4l1-.1l1-.1l1-.1l1-.1l1-.1l1-.9l1-.1l1-.1l1 1.1l1 0l1-.1l1-1l1 0l1 0l1 .8l1 0l1 0l1-.1l1-.1l1-.1l1-.1l1-.2l1-.3l1-.8l1-1.5l1-3.7l1-8.3l1-12.5l1-14.2l1-7.6l1 4.7l1 9l1 4.3l1 .3l1 3.8l1 9.8l1 8.7l1 5.4l1 1.4l1 1.1l1 .5l1 .5l1 .2l1 .2l1 1.1l1 .1l1 .1l1-.1l1 0l1 .1l1-.1l1 .1l1 0l1 .3l1 .1l1 0l1-.5l1 0l1 0l1 .4l1 0l1 0l1-.4l1 0l1 0l1 .5l1 0l1 .1l1-1l1 0l1 0l1 .4l1 0l1 0l1 .2l1 0l1 0l1 .3l1 0l1 0l1-.4l1 0l1 0l1 .3l1 0l1 0l1 .3l1 0l1 0l1-.6l1 0l1 0l1-.3l1 0l1 0l1-.2l1 0l1 0l1 1l1 0l1 0l1-.4l1 0l1 0l1-.1l1 0l1 0l1 .1l1 0l1 0l1-.4l1 0l1 0l1 .1l1 0l1 0l1 0l1 0l1 0l1 0l1 0l1 .1l1 .7l1 0l1 0l1-.8l1 0l1 0l1-.1l1 0l1 0l1 .9l1 0l1 0l1-.4l1 0l1 0l1-.6l1 0l1 0l1 .8l1 0l1 0l1 0l1 0l1 0l1-.1l1 0l1 0l1 .2l1 0l1 0l1-.4l1 0l1 0l1-.3l1 0l1 0l1 .7l1 0l1-.1l1-.1l1 0l1 0l1 .1l1 0l1 0l1-.7l1 0l1 0l1 .2l1 0l1-.1l1 .3l1 0l1-.1l1-.5l1-.1l1-.1l1 .1l1-.2l1-.1l1-.3l1-.2l1-.1l1 .2l1-.1l1 0l1-.5l1 .1l1 .1l1 .3l1 .2l1 .1l1 .6l1 .1l1 .2l1-.5l1 .1l1 .1l1-.1l1 .1l1 0l1 .6l1 0l1 0l1-.5l1 0l1 0l1 .8l1 0l1 0l1-.7l1 0l1-.1l1 .8l1-.1l1 0l1-.5l1-.1l1-.1l1-.5l1-.2l1-.1l1 .2l1-.3l1-.4l1-.3l1-1.1l1-2.2l1-5.6l1-10.9l1-17.5l1-19.7l1-10l1 8.4l1 16.2l1 10.7l1 0l1-4.1l1 2.2l1 11l1 10.4l1 7l1 3.3l1 2.1l1 .6l1 .4l1-.6l1 .2l1 .1l1 .7l1 .1l1 .1l1-.5l1 .1l1 0l1 .2l1 0l1 0l1 .6l1 0l1 .1l1 .4l1 0l1 0l1-.7l1 0l1 0l1 .2l1 0l1 0l1 .1l1 0l1 0l1 .2l1 0l1 0l1-.3l1 0l1 0l1 0l1 0l1 0l1 .6l1 0l1 0l1-.3l1 0l1 0l1-.2l1 0l1 0l1 .5l1 0l1 0l1 .3l1 0l1 0l1-.7l1 0l1 0l1-.5l1 0l1 0l1 .4l1 0l1 0l1 .7l1 0l1 0l1-.9l1 0l1 .1l1 0l1 0l1 0l1 .7l1 0l1 0l1-.8l1 0l1 0l1 .9l1 0l1 0l1-.7l1 0l1 0l1 .2l1 0l1 0l1 .2l1 0l1 0l1-.5l1 0l1 0l1 .8l1 0l1 0l1-.4l1 0l1 0l1 .4l1 0l1 0l1 0l1 0l1 0l1-.8l1 0l1 0l1 .9l1 0l1 0l1 0l1 0l1 0l1-.7l1 0l1 0l1 .4l1 0l1 0l1-.4l1 0l1 0l1 .4l1 0l1 0l1 .3l1 0l1 0l1-.5l1 0l1 0l1 .2l1 0l1 0l1-.5l1 0l1 0l1 .9l1 0l1 0l1-.2l1 0l1 0l1 .2l1 0l1 0l1-.9l1 0l1 0l1 .8l1 0l1 0l1-.8l1 0l1 .1l1 .5l1 0l1 0l1-.4l1 0l1 0l1 .9l1 0l1 0l1-1l1 0l1 0l1 .5l1 0l1 0l1 0l1 0l1 0l1-.1l1 0l1 0l1-.4l1 0l1 0l1 .7l1 0l1 0l1 .4l1 0l1 0l1-.7l1 0l1 0l1 .6l1 0l1 0l1-.6l1 0l1 0l1-.1l1 0l1 0l1 .2l1 0l1 0l1 .7l1 0l1 0l1-.3l1 0l1 0l1-.1l1 0l1 0l1-.7l1 0l1 0l1 .5l1 0l1 0l1-.5l1 0l1 0l1 0l1 0l1 0l1 .4l1 0l1 0l1-.1l1 0l1 0l1-.2l1 0l1 0l1 .5l1 0l1 0l1 .3l1 0l1 0l1 .2l1 0l1 0l1 0l1 0l1 0l1-.6l1 0l1 0l1-.3l1 .1l1 0l1 .9l1 0l1 0l1-.6l1 0l1 0l1-.1l1 0l1 0l1 .6l1 0l1 0l1-.4l1 .1l1 0l1 .4l1 0l1 0l1-.3l1 0l1 0l1 .3l1 0l1 0l1-.9l1 0l1 0l1 1l1 0l1 0l1-.5l1 0l1 0l1 .2l1 0l1 0l1-.5l1 0l1 0l1-.1l1 .1l1 0l1 0l1 0l1 0l1-.1l1 0l1 0l1 .9l1 0l1 0l1-1l1 0l1 0l1 .2l1 0l1 0l1 .5l1 0l1 0l1-.5l1 0l1 0l1 0l1 0l1 0l1 0l1 0l1 0l1 0l1 0l1 0l1-.3l1 0l1 0l1 .9l1 0l1 0l1-.1l1 0l1 0l1-.4l1 0l1 0l1 .7l1 0l1 0l1-.4l1 0l1 0l1-.4l1 0l1 0l1 .9l1 0l1 0l1-.9l1 0l1 0l1 .7l1 0l1 0l1 0l1 0l1 0l1-1l1 0l1-.1l1 1l1 0l1 0l1-.6l1 0l1-.1l1 .1l1-.1l1-.1l1 .5l1-.1l1-.1l1-.7l1-.1l1-.2l1-.4l1-.1l1-.2l1-.4l1-.2l1-.1l1 .8l1-.2l1-.2l1-.7l1-.2l1-.1l1 .1l1-.1l1-.1l1-.2l1 0l1 0l1 .4l1 0l1 .1l1 .1l1 .1l1 .2l1 .1l1 .2l1 .2l1-.3l1 .2l1 .2l1 .7l1 .1l1 .2l1-.5l1 .1l1 .2l1-.1l1 .1l1 .1l1 .8l1 .1l1 .1l1-.7l1 .1l1 0l1 1.2l1 .1l1 0l1-.7l1 0l1 0l1 .2l1 0l1 0l1-.1l1 0l1 0l1 .1l1 0l1 0l1 .3l1 0l1 0l1 .3l1 0l1 0l1-.9l1 0l1 0l1 .4l1 0l1 0l1-.1l1 0l1 0l1 .9l1 0l1 0l1-.6l1 0l1 0l1 0l1 0l1 0l1 .6l1 0l1 0l1-.7l1 0l1 0l1 .1l1 0l1 0l1 0l1 0l1 0l1-.2l1 0l1 0l1 .6l1 0l1 0l1-.5l1 0l1 0l1 .3l1 0l1 0l1 0l1 .1l1 0l1 .2l1 0l1 0l1 0l1 0l1 0l1-.3l1 0l1 0l1 .5l1 .1l1 0l1 0l1 0l1 0l1 0l1 0l1 0l1-.3l1 0l1 0l1-.3l1 0l1 0l1-.1l1 0l1 0l1 .6l1 0l1 0l1-.5l1 0l1 0l1 .4l1 0l1 0l1-.5l1 0l1 0l1 0l1 0l1 0l1-.4l1 0l1 0l1 .8l1 0l1 0l1-.5l1 0l1 0l1 .3l1 0l1 0l1 .2l1 0l1 0l1 .2l1 0l1 0l1 .1l1 0l1 0l1-.3l1 0l1 0l1-.6l1 0l1 0l1 .9l1 0l1 0l1-1.1l1 0l1 0l1 .5l1 0l1 0l1 .6l1 0l1 0l1-.1l1 0l1 0l1-.3l1 0l1 0l1 .3l1 0l1 0l1-.8l1 0l1 0l1-.2l1 0l1 0l1 .3l1 0l1 0l1 .8l1 0l1 0l1-1.1l1 0l1 0l1 .3l1 0l1 0l1 .2l1 0l1 0l1-.3l1 0l1 0l1 .8l1 0l1 0l1-.9l1 0l1 0l1-.1l1 0l1 0l1 1.1l1 0l1 0l1-1.2l1 0l1 0l1 .3l1 0l1 0l1 .2l1 0l1 0l1 .5l1 0l1 0l1-.6l1 0l1 0l1 .2l1 0l1 0l1 .3l1 0l1 0l1-.2l1 0l1-.1l1 .3l1 0l1-.1l1-1l1 0l1 0l1 .6l1-.1l1 0l1-.7l1-.1l1-.1l1 .9l1-.2l1-.4l1-1.7l1-1.7l1-3.7l1-6.5l1-8.8l1-7l1 .7l1 6.3l1 5.8l1 2.7l1 1.3l1 3.2l1 3.3l1 3l1 1.6l1 1.4l1 .4l1 .1l1-.5l1 .1l1 .1l1 .3l1 0l1 0l1-.3l1 .1l1 0l1 .8l1 0l1 0l1 .2l1 0l1 0l1-.1l1 0l1 0l1-.5l1 0l1 0l1-.1l1 0l1 0l1 .9l1 0l1 0l1-.2l1 0l1 0l1 .2l1 0l1 0l1-.6l1 0l1 0l1 .5l1 0l1 0l1-.2l1 0l1 0l1 .1l1 0l1 0l1-.3l1 0l1 0l1 .3l1 0l1 0l1-.3l1 0l1 0l1-.3l1 0l1 0l1 .2l1 0l1 0l1-.5l1 0l1 0l1 .8l1 0l1 0l1-.4l1 0l1 0l1-.2l1 0l1 0l1 .7l1 0l1 0l1-.3l1 0l1 0l1-.3l1 0l1 0l1 .8l1 0l1 0l1 0l1 0l1 0l1-.6l1 0l1 0l1 .1l1 0l1 0l1-.7l1 0l1 0l1 .4l1-.1l1 0l1 .7l1-.1l1-.1l1-.6l1-.1l1 0l1 .6l1 .1l1 0l1-1.1l1 .1l1 .1l1 0l1 .1l1 0l1 .1l1 0l1 0l1 0l1 0l1 0l1 .8l1 0l1 0l1 .3l1 0l1 0l1-.2l1 0l1 0l1-.2l1 0l1 0l1-.3l1 0l1 0l1 0l1 0l1 0l1-.3l1 0l1 0l1 .3l1 0l1 0l1-.3l1 0l1 0l1 .8l1 0l1 0l1-.3l1 0l1 0l1-.2l1 0l1 0l1 .6l1 0l1 0l1-.7l1 0l1 0l1 .7l1 0l1 0l1-.2l1 0l1 0l1-.1l1 0l1 0l1-.1l1 0l1 0l1 .1l1 0l1 0l1 .3l1 0l1 0l1 .1l1 0l1 0l1-.5l1 0l1 0l1 .5l1 0l1 0l1-.9l1 0l1 0l1 .8l1 0l1 0l1 0l1 0l1 0l1-.3l1 0l1 0l1-.7l1 0l1 0l1 1l1 0l1 0l1-.6l1 0l1 0l1-.1l1 0l1 0l1 .8l1 0l1 0l1-1.1l1 0l1 0l1 .7l1 0l1 0l1-.5l1 0l1 0l1 .7l1 0l1 0l1-.7l1 0l1 0l1-.2l1 0l1 0l1 .5l1 0l1 0l1-.1l1 0l1 0l1 .4l1 0l1 0l1-.6l1 0l1 0l1 0l1 0l1 0l1 0l1 0l1 0l1 .4l1 0l1-.1l1-.5l1 0l1 0l1 .6l1 0l1 0l1 .3l1 0l1 0l1-.2l1 0l1 0l1-.5l1 0l1 0l1 .3l1 0l1 0l1-.5l1 0l1 0l1 .4l1 0l1 0l1 .4l1 0l1 0l1-.9l1 0l1 0l1 .7l1 0l1 0l1 .4l1 0l1 0l1-.8l1 0l1 0l1 .1l1-.1l1 0l1 .5l1 0l1 0l1-.6l1 0l1 0l1 .1l1 0l1 0l1 .4l1 0l1 0l1-.1l1 0l1 0l1-.4l1 0l1 0l1 0l1 0l1 0l1 .3l1 0l1 0l1 .5l1 0l1 0l1-.8l1 0l1 0l1 .6l1 0l1 0l1-.2l1 0l1 0l1-.3l1 0l1 0l1 .1l1 0l1 0l1 .5l1 0l1 0l1-.8l1 0l1 0l1 .5l1 0l1 0l1-.1l1 0l1 0l1-.4l1 0l1 0l1 .3l1 0l1 0l1-.3l1 0l1 0l1 .3l1 0l1 0l1-.4l1 0l1 0l1 .6l1 0l1 0l1 .3l1 0l1 0l1 .1l1 0l1 0l1 0l1 0l1 0l1-.8l1 0l1 0l1 .6l1 0l1 0l1-.5l1 0l1 0l1 .4l1 0l1 0l1-.3l1 0l1 0l1 .3l1 0l1 0l1-.5l1 0l1 0l1 .6l1 0l1-.1l1-.7l1-.3l1-.5l1-.5l1-1.4l1-1.9l1-2.9l1-1.5l1-.2l1 2l1 2l1 2l1 .9l1 1l1 .6l1 .5l1 .2l1 .1l1 0l1 0l1 .1l1 .3l1 .1l1 0l1-.1l1 0l1 0l1-.3l1 0l1 0l1 .8l1 0l1 0l1-1.1l1 0l1 0l1 .5l1 0l1 0l1-.4l1 0l1 0l1 0l1 0l1 0l1 .1l1 0l1 0l1 .9l1 0l1 0l1-1.1l1 0l1 0l1 .8l1 0l1 0l1-.1l1 0l1 0l1 .3l1 0l1 0l1 0l1 0l1 0l1-.9l1 0l1 0l1 1l1 0l1 0l1-1l1 0l1 0l1 0l1 0l1 0l1 .2l1 0l1 0l1 .5l1 0l1 0l1-.1l1 0l1 0l1 .1l1 0l1 0l1-.6l1 0l1 0l1 .3l1 0l1 0l1-.2l1 0l1 0l1 .8l1 0l1 0l1-.5l1 0l1 0l1 .2l1 0l1 0l1-.3l1 0l1 0l1-.4l1 0l1 0l1 0l1 0l1-.1l1 .2l1 0l1 0l1 .6l1 0l1 0l1-.6l1 0l1-.1l1 .4l1 0l1 0l1-.2l1 0l1 0l1-.3l1-.1l1 0l1 .2l1-.1l1-.3l1-.4l1-1.1l1-1.5l1-1.1l1-.7l1 .7l1 1.4l1 1.5l1 1.1l1 .2l1 .3l1 .1l1-.1l1 0l1 .1l1-.1l1 0l1 0l1 .2l1 0l1 0l1 .2l1 0l1 0l1 .6l1 0l1 0l1-1.1l1 0l1 0l1 .1l1 0l1 0l1 .3l1 0l1 0l1 .2l1 0l1 0l1-.6l1 0l1 0l1-.1l1 0l1 0l1 .7l1 0l1 0l1-.7l1 0l1 0l1 1l1 0l1 0l1-.2l1 0l1 0l1-.2l1 0l1 0l1 .6l1 0l1 0l1-.6l1 0l1 0l1 .5l1 0l1 0l1-.8l1 0l1 0l1-.2l1 0l1 0l1 .4l1 0l1 0l1 .1l1 0l1 0l1 .2l1 0l1 0l1-.6l1 0l1-.1l1 .7l1 0l1 0" stroke="#fd0000" stroke-width="11.0" stroke-opacity="0.22"/><path d="M199,943.9l1 0l1 0l1 .7l1 0l1 0l1 0l1 0l1 0l1 .3l1 0l1 0l1-.8l1 0l1 0l1 0l1 0l1 0l1 .6l1 0l1 0l1-.1l1 0l1 0l1-.4l1 0l1 0l1 .4l1 0l1 0l1-.3l1 0l1 0l1 .5l1 0l1 0l1-.8l1 0l1 0l1 .1l1 0l1 0l1 .8l1 0l1 0l1-.6l1 0l1 0l1-.1l1 0l1 0l1 .6l1 0l1 0l1-.2l1 0l1 0l1-.6l1 0l1 0l1 .5l1 0l1 0l1 .1l1 0l1 0l1-.5l1 0l1-.1l1 .6l1 0l1 0l1-.6l1 0l1 0l1 .3l1-.1l1 0l1-.3l1 0l1 0l1 .2l1 0l1 0l1 .9l1 0l1 0l1-.7l1 0l1 0l1 .7l1-.1l1 0l1-.7l1 0l1 0l1 .1l1 0l1-.1l1 .3l1-.1l1-.2l1-.5l1-.6l1-1.2l1-3.2l1-4.2l1-5.5l1-4.3l1-1.1l1 3.7l1 5.6l1 4.8l1 3.2l1 1.1l1 .7l1 .3l1 0l1 0l1-.2l1 .5l1-1l1-1.4l1-2.3l1-1.9l1-1.3l1-.2l1 1.5l1 2l1 2.2l1 1.3l1 .9l1 .2l1 .3l1 .1l1 .8l1 0l1 0l1-.3l1 0l1 0l1-.5l1-.1l1 0l1 .7l1-.2l1-.4l1-1.6l1-1.2l1-1.7l1-1.8l1-1.7l1-.7l1 .5l1 1.8l1 1.8l1 2.3l1 .9l1 .4l1-.7l1 0l1-.2l1 .2l1-.2l1-.1l1-.7l1 0l1 .1l1 .6l1 .2l1 .3l1 .5l1 .3l1 .3l1 .1l1 .2l1 .2l1 .1l1 .1l1 .1l1 .2l1 0l1 .1l1 0l1 0l1 0l1 .2l1 0l1 .1l1-.6l1 0l1 0l1 .4l1 .1l1 0l1-.3l1 0l1 0l1 .8l1 0l1 0l1 .1l1 0l1 0l1-1.1l1 0l1 0l1 .1l1 0l1 0l1 .7l1 0l1 0l1-.1l1 0l1 0l1-.7l1 0l1 0l1 .8l1 0l1 0l1 .3l1 0l1 0l1-.6l1 0l1 0l1-.1l1 0l1 0l1 .3l1 0l1 0l1 .4l1 0l1 0l1-.8l1 0l1 0l1 .1l1 0l1 0l1-.1l1 0l1 0l1 .5l1 0l1 0l1-.2l1 0l1 0l1-.2l1 0l1 0l1 .1l1 0l1 0l1-.4l1 0l1 0l1 .3l1 0l1 0l1 .8l1 0l1 0l1-.4l1 0l1 0l1-.4l1 0l1 0l1 .8l1 0l1 0l1-.7l1 0l1 0l1-.1l1 0l1 0l1-.3l1 0l1 0l1 .2l1 0l1 0l1 0l1 0l1 0l1 .1l1 0l1 0l1 .7l1 0l1 0l1-.7l1 0l1 0l1 0l1 0l1 0l1 .4l1 0l1 0l1 .4l1 0l1 0l1-.8l1 0l1 0l1 .6l1 0l1 0l1-.5l1 0l1 0l1 .3l1 0l1 0l1 0l1 0l1 0l1 .4l1 0l1 0l1-.2l1 0l1 0l1-.3l1 0l1 0l1 .3l1 0l1 0l1-.6l1 0l1 0l1 0l1 0l1 0l1 .7l1-.1l1 0l1-.5l1 0l1-.1l1 .3l1-.1l1-.1l1-.6l1-.2l1-.2l1 .5l1-.4l1-.6l1-1l1-.9l1-1.1l1-1.8l1-1.5l1-1.6l1-.8l1-1.5l1-1.2l1-1.3l1-.1l1 .5l1 .9l1 1.4l1 1.6l1 1.5l1 1.6l1 1.4l1 1l1 1l1 .7l1 .8l1 .4l1 .3l1 .8l1 .2l1 .1l1-.5l1 0l1 .1l1 .2l1 0l1 0l1 .3l1 0l1 0l1 .2l1 0l1 0l1-.2l1 0l1 .1l1 .5l1 0l1 0l1-.6l1 0l1 0l1 .1l1 0l1 0l1 .1l1 0l1 0l1-.3l1 0l1 0l1 .1l1 0l1 0l1-.1l1 0l1 0l1 .7l1 0l1 0l1-.7l1 0l1 0l1 .7l1 0l1 0l1-.6l1 0l1 0l1 .6l1 0l1 0l1 0l1 0l1 0l1-.4l1 0l1 0l1 .7l1 0l1 0l1-.3l1 0l1 0l1-.1l1 0l1 0l1-.6l1 0l1 0l1 .4l1 0l1 0l1-.2l1 0l1 0l1 .3l1 0l1-.1l1 .6l1-.1l1 0l1-.2l1-.1l1-.1l1-1l1 0l1 0l1 .8l1 .1l1 .1l1 .4l1 0l1 .1l1-.5l1 .1l1 0l1-.6l1 0l1 0l1 .9l1 0l1 0l1-.5l1-.1l1-.1l1 .4l1-.3l1-.4l1-.4l1 0l1 .1l1 .3l1 .3l1 .3l1 .3l1 .1l1 .1l1-1l1 0l1 0l1 .9l1 0l1 0l1-.6l1 0l1 0l1-.2l1 0l1 0l1 .3l1 0l1 0l1 .2l1 0l1 0l1-.7l1 0l1 0l1 .5l1 0l1 0l1 .4l1 0l1 0l1-.4l1 0l1 0l1 0l1-.1l1 0l1-.3l1-.1l1 0l1 .7l1-.1l1 0l1-1l1-.1l1 0l1 .4l1-.1l1-.1l1-.1l1-.1l1-.1l1-.9l1-.1l1-.1l1 1.1l1 0l1-.1l1-1l1 0l1 0l1 .8l1 0l1 0l1-.1l1-.1l1-.1l1-.1l1-.2l1-.3l1-.8l1-1.5l1-3.7l1-8.3l1-12.5l1-14.2l1-7.6l1 4.7l1 9l1 4.3l1 .3l1 3.8l1 9.8l1 8.7l1 5.4l1 1.4l1 1.1l1 .5l1 .5l1 .2l1 .2l1 1.1l1 .1l1 .1l1-.1l1 0l1 .1l1-.1l1 .1l1 0l1 .3l1 .1l1 0l1-.5l1 0l1 0l1 .4l1 0l1 0l1-.4l1 0l1 0l1 .5l1 0l1 .1l1-1l1 0l1 0l1 .4l1 0l1 0l1 .2l1 0l1 0l1 .3l1 0l1 0l1-.4l1 0l1 0l1 .3l1 0l1 0l1 .3l1 0l1 0l1-.6l1 0l1 0l1-.3l1 0l1 0l1-.2l1 0l1 0l1 1l1 0l1 0l1-.4l1 0l1 0l1-.1l1 0l1 0l1 .1l1 0l1 0l1-.4l1 0l1 0l1 .1l1 0l1 0l1 0l1 0l1 0l1 0l1 0l1 .1l1 .7l1 0l1 0l1-.8l1 0l1 0l1-.1l1 0l1 0l1 .9l1 0l1 0l1-.4l1 0l1 0l1-.6l1 0l1 0l1 .8l1 0l1 0l1 0l1 0l1 0l1-.1l1 0l1 0l1 .2l1 0l1 0l1-.4l1 0l1 0l1-.3l1 0l1 0l1 .7l1 0l1-.1l1-.1l1 0l1 0l1 .1l1 0l1 0l1-.7l1 0l1 0l1 .2l1 0l1-.1l1 .3l1 0l1-.1l1-.5l1-.1l1-.1l1 .1l1-.2l1-.1l1-.3l1-.2l1-.1l1 .2l1-.1l1 0l1-.5l1 .1l1 .1l1 .3l1 .2l1 .1l1 .6l1 .1l1 .2l1-.5l1 .1l1 .1l1-.1l1 .1l1 0l1 .6l1 0l1 0l1-.5l1 0l1 0l1 .8l1 0l1 0l1-.7l1 0l1-.1l1 .8l1-.1l1 0l1-.5l1-.1l1-.1l1-.5l1-.2l1-.1l1 .2l1-.3l1-.4l1-.3l1-1.1l1-2.2l1-5.6l1-10.9l1-17.5l1-19.7l1-10l1 8.4l1 16.2l1 10.7l1 0l1-4.1l1 2.2l1 11l1 10.4l1 7l1 3.3l1 2.1l1 .6l1 .4l1-.6l1 .2l1 .1l1 .7l1 .1l1 .1l1-.5l1 .1l1 0l1 .2l1 0l1 0l1 .6l1 0l1 .1l1 .4l1 0l1 0l1-.7l1 0l1 0l1 .2l1 0l1 0l1 .1l1 0l1 0l1 .2l1 0l1 0l1-.3l1 0l1 0l1 0l1 0l1 0l1 .6l1 0l1 0l1-.3l1 0l1 0l1-.2l1 0l1 0l1 .5l1 0l1 0l1 .3l1 0l1 0l1-.7l1 0l1 0l1-.5l1 0l1 0l1 .4l1 0l1 0l1 .7l1 0l1 0l1-.9l1 0l1 .1l1 0l1 0l1 0l1 .7l1 0l1 0l1-.8l1 0l1 0l1 .9l1 0l1 0l1-.7l1 0l1 0l1 .2l1 0l1 0l1 .2l1 0l1 0l1-.5l1 0l1 0l1 .8l1 0l1 0l1-.4l1 0l1 0l1 .4l1 0l1 0l1 0l1 0l1 0l1-.8l1 0l1 0l1 .9l1 0l1 0l1 0l1 0l1 0l1-.7l1 0l1 0l1 .4l1 0l1 0l1-.4l1 0l1 0l1 .4l1 0l1 0l1 .3l1 0l1 0l1-.5l1 0l1 0l1 .2l1 0l1 0l1-.5l1 0l1 0l1 .9l1 0l1 0l1-.2l1 0l1 0l1 .2l1 0l1 0l1-.9l1 0l1 0l1 .8l1 0l1 0l1-.8l1 0l1 .1l1 .5l1 0l1 0l1-.4l1 0l1 0l1 .9l1 0l1 0l1-1l1 0l1 0l1 .5l1 0l1 0l1 0l1 0l1 0l1-.1l1 0l1 0l1-.4l1 0l1 0l1 .7l1 0l1 0l1 .4l1 0l1 0l1-.7l1 0l1 0l1 .6l1 0l1 0l1-.6l1 0l1 0l1-.1l1 0l1 0l1 .2l1 0l1 0l1 .7l1 0l1 0l1-.3l1 0l1 0l1-.1l1 0l1 0l1-.7l1 0l1 0l1 .5l1 0l1 0l1-.5l1 0l1 0l1 0l1 0l1 0l1 .4l1 0l1 0l1-.1l1 0l1 0l1-.2l1 0l1 0l1 .5l1 0l1 0l1 .3l1 0l1 0l1 .2l1 0l1 0l1 0l1 0l1 0l1-.6l1 0l1 0l1-.3l1 .1l1 0l1 .9l1 0l1 0l1-.6l1 0l1 0l1-.1l1 0l1 0l1 .6l1 0l1 0l1-.4l1 .1l1 0l1 .4l1 0l1 0l1-.3l1 0l1 0l1 .3l1 0l1 0l1-.9l1 0l1 0l1 1l1 0l1 0l1-.5l1 0l1 0l1 .2l1 0l1 0l1-.5l1 0l1 0l1-.1l1 .1l1 0l1 0l1 0l1 0l1-.1l1 0l1 0l1 .9l1 0l1 0l1-1l1 0l1 0l1 .2l1 0l1 0l1 .5l1 0l1 0l1-.5l1 0l1 0l1 0l1 0l1 0l1 0l1 0l1 0l1 0l1 0l1 0l1-.3l1 0l1 0l1 .9l1 0l1 0l1-.1l1 0l1 0l1-.4l1 0l1 0l1 .7l1 0l1 0l1-.4l1 0l1 0l1-.4l1 0l1 0l1 .9l1 0l1 0l1-.9l1 0l1 0l1 .7l1 0l1 0l1 0l1 0l1 0l1-1l1 0l1-.1l1 1l1 0l1 0l1-.6l1 0l1-.1l1 .1l1-.1l1-.1l1 .5l1-.1l1-.1l1-.7l1-.1l1-.2l1-.4l1-.1l1-.2l1-.4l1-.2l1-.1l1 .8l1-.2l1-.2l1-.7l1-.2l1-.1l1 .1l1-.1l1-.1l1-.2l1 0l1 0l1 .4l1 0l1 .1l1 .1l1 .1l1 .2l1 .1l1 .2l1 .2l1-.3l1 .2l1 .2l1 .7l1 .1l1 .2l1-.5l1 .1l1 .2l1-.1l1 .1l1 .1l1 .8l1 .1l1 .1l1-.7l1 .1l1 0l1 1.2l1 .1l1 0l1-.7l1 0l1 0l1 .2l1 0l1 0l1-.1l1 0l1 0l1 .1l1 0l1 0l1 .3l1 0l1 0l1 .3l1 0l1 0l1-.9l1 0l1 0l1 .4l1 0l1 0l1-.1l1 0l1 0l1 .9l1 0l1 0l1-.6l1 0l1 0l1 0l1 0l1 0l1 .6l1 0l1 0l1-.7l1 0l1 0l1 .1l1 0l1 0l1 0l1 0l1 0l1-.2l1 0l1 0l1 .6l1 0l1 0l1-.5l1 0l1 0l1 .3l1 0l1 0l1 0l1 .1l1 0l1 .2l1 0l1 0l1 0l1 0l1 0l1-.3l1 0l1 0l1 .5l1 .1l1 0l1 0l1 0l1 0l1 0l1 0l1 0l1-.3l1 0l1 0l1-.3l1 0l1 0l1-.1l1 0l1 0l1 .6l1 0l1 0l1-.5l1 0l1 0l1 .4l1 0l1 0l1-.5l1 0l1 0l1 0l1 0l1 0l1-.4l1 0l1 0l1 .8l1 0l1 0l1-.5l1 0l1 0l1 .3l1 0l1 0l1 .2l1 0l1 0l1 .2l1 0l1 0l1 .1l1 0l1 0l1-.3l1 0l1 0l1-.6l1 0l1 0l1 .9l1 0l1 0l1-1.1l1 0l1 0l1 .5l1 0l1 0l1 .6l1 0l1 0l1-.1l1 0l1 0l1-.3l1 0l1 0l1 .3l1 0l1 0l1-.8l1 0l1 0l1-.2l1 0l1 0l1 .3l1 0l1 0l1 .8l1 0l1 0l1-1.1l1 0l1 0l1 .3l1 0l1 0l1 .2l1 0l1 0l1-.3l1 0l1 0l1 .8l1 0l1 0l1-.9l1 0l1 0l1-.1l1 0l1 0l1 1.1l1 0l1 0l1-1.2l1 0l1 0l1 .3l1 0l1 0l1 .2l1 0l1 0l1 .5l1 0l1 0l1-.6l1 0l1 0l1 .2l1 0l1 0l1 .3l1 0l1 0l1-.2l1 0l1-.1l1 .3l1 0l1-.1l1-1l1 0l1 0l1 .6l1-.1l1 0l1-.7l1-.1l1-.1l1 .9l1-.2l1-.4l1-1.7l1-1.7l1-3.7l1-6.5l1-8.8l1-7l1 .7l1 6.3l1 5.8l1 2.7l1 1.3l1 3.2l1 3.3l1 3l1 1.6l1 1.4l1 .4l1 .1l1-.5l1 .1l1 .1l1 .3l1 0l1 0l1-.3l1 .1l1 0l1 .8l1 0l1 0l1 .2l1 0l1 0l1-.1l1 0l1 0l1-.5l1 0l1 0l1-.1l1 0l1 0l1 .9l1 0l1 0l1-.2l1 0l1 0l1 .2l1 0l1 0l1-.6l1 0l1 0l1 .5l1 0l1 0l1-.2l1 0l1 0l1 .1l1 0l1 0l1-.3l1 0l1 0l1 .3l1 0l1 0l1-.3l1 0l1 0l1-.3l1 0l1 0l1 .2l1 0l1 0l1-.5l1 0l1 0l1 .8l1 0l1 0l1-.4l1 0l1 0l1-.2l1 0l1 0l1 .7l1 0l1 0l1-.3l1 0l1 0l1-.3l1 0l1 0l1 .8l1 0l1 0l1 0l1 0l1 0l1-.6l1 0l1 0l1 .1l1 0l1 0l1-.7l1 0l1 0l1 .4l1-.1l1 0l1 .7l1-.1l1-.1l1-.6l1-.1l1 0l1 .6l1 .1l1 0l1-1.1l1 .1l1 .1l1 0l1 .1l1 0l1 .1l1 0l1 0l1 0l1 0l1 0l1 .8l1 0l1 0l1 .3l1 0l1 0l1-.2l1 0l1 0l1-.2l1 0l1 0l1-.3l1 0l1 0l1 0l1 0l1 0l1-.3l1 0l1 0l1 .3l1 0l1 0l1-.3l1 0l1 0l1 .8l1 0l1 0l1-.3l1 0l1 0l1-.2l1 0l1 0l1 .6l1 0l1 0l1-.7l1 0l1 0l1 .7l1 0l1 0l1-.2l1 0l1 0l1-.1l1 0l1 0l1-.1l1 0l1 0l1 .1l1 0l1 0l1 .3l1 0l1 0l1 .1l1 0l1 0l1-.5l1 0l1 0l1 .5l1 0l1 0l1-.9l1 0l1 0l1 .8l1 0l1 0l1 0l1 0l1 0l1-.3l1 0l1 0l1-.7l1 0l1 0l1 1l1 0l1 0l1-.6l1 0l1 0l1-.1l1 0l1 0l1 .8l1 0l1 0l1-1.1l1 0l1 0l1 .7l1 0l1 0l1-.5l1 0l1 0l1 .7l1 0l1 0l1-.7l1 0l1 0l1-.2l1 0l1 0l1 .5l1 0l1 0l1-.1l1 0l1 0l1 .4l1 0l1 0l1-.6l1 0l1 0l1 0l1 0l1 0l1 0l1 0l1 0l1 .4l1 0l1-.1l1-.5l1 0l1 0l1 .6l1 0l1 0l1 .3l1 0l1 0l1-.2l1 0l1 0l1-.5l1 0l1 0l1 .3l1 0l1 0l1-.5l1 0l1 0l1 .4l1 0l1 0l1 .4l1 0l1 0l1-.9l1 0l1 0l1 .7l1 0l1 0l1 .4l1 0l1 0l1-.8l1 0l1 0l1 .1l1-.1l1 0l1 .5l1 0l1 0l1-.6l1 0l1 0l1 .1l1 0l1 0l1 .4l1 0l1 0l1-.1l1 0l1 0l1-.4l1 0l1 0l1 0l1 0l1 0l1 .3l1 0l1 0l1 .5l1 0l1 0l1-.8l1 0l1 0l1 .6l1 0l1 0l1-.2l1 0l1 0l1-.3l1 0l1 0l1 .1l1 0l1 0l1 .5l1 0l1 0l1-.8l1 0l1 0l1 .5l1 0l1 0l1-.1l1 0l1 0l1-.4l1 0l1 0l1 .3l1 0l1 0l1-.3l1 0l1 0l1 .3l1 0l1 0l1-.4l1 0l1 0l1 .6l1 0l1 0l1 .3l1 0l1 0l1 .1l1 0l1 0l1 0l1 0l1 0l1-.8l1 0l1 0l1 .6l1 0l1 0l1-.5l1 0l1 0l1 .4l1 0l1 0l1-.3l1 0l1 0l1 .3l1 0l1 0l1-.5l1 0l1 0l1 .6l1 0l1-.1l1-.7l1-.3l1-.5l1-.5l1-1.4l1-1.9l1-2.9l1-1.5l1-.2l1 2l1 2l1 2l1 .9l1 1l1 .6l1 .5l1 .2l1 .1l1 0l1 0l1 .1l1 .3l1 .1l1 0l1-.1l1 0l1 0l1-.3l1 0l1 0l1 .8l1 0l1 0l1-1.1l1 0l1 0l1 .5l1 0l1 0l1-.4l1 0l1 0l1 0l1 0l1 0l1 .1l1 0l1 0l1 .9l1 0l1 0l1-1.1l1 0l1 0l1 .8l1 0l1 0l1-.1l1 0l1 0l1 .3l1 0l1 0l1 0l1 0l1 0l1-.9l1 0l1 0l1 1l1 0l1 0l1-1l1 0l1 0l1 0l1 0l1 0l1 .2l1 0l1 0l1 .5l1 0l1 0l1-.1l1 0l1 0l1 .1l1 0l1 0l1-.6l1 0l1 0l1 .3l1 0l1 0l1-.2l1 0l1 0l1 .8l1 0l1 0l1-.5l1 0l1 0l1 .2l1 0l1 0l1-.3l1 0l1 0l1-.4l1 0l1 0l1 0l1 0l1-.1l1 .2l1 0l1 0l1 .6l1 0l1 0l1-.6l1 0l1-.1l1 .4l1 0l1 0l1-.2l1 0l1 0l1-.3l1-.1l1 0l1 .2l1-.1l1-.3l1-.4l1-1.1l1-1.5l1-1.1l1-.7l1 .7l1 1.4l1 1.5l1 1.1l1 .2l1 .3l1 .1l1-.1l1 0l1 .1l1-.1l1 0l1 0l1 .2l1 0l1 0l1 .2l1 0l1 0l1 .6l1 0l1 0l1-1.1l1 0l1 0l1 .1l1 0l1 0l1 .3l1 0l1 0l1 .2l1 0l1 0l1-.6l1 0l1 0l1-.1l1 0l1 0l1 .7l1 0l1 0l1-.7l1 0l1 0l1 1l1 0l1 0l1-.2l1 0l1 0l1-.2l1 0l1 0l1 .6l1 0l1 0l1-.6l1 0l1 0l1 .5l1 0l1 0l1-.8l1 0l1 0l1-.2l1 0l1 0l1 .4l1 0l1 0l1 .1l1 0l1 0l1 .2l1 0l1 0l1-.6l1 0l1-.1l1 .7l1 0l1 0" stroke="#fd0000" stroke-width="7.0"/><path d="M199,1104.2l1 0l1 0l1-1.2l1 0l1 0l1 .9l1 0l1 0l1-.7l1 0l1 0l1 1l1 0l1 0l1-1.2l1 0l1 0l1 1l1 0l1 0l1-.2l1 0l1 0l1 .2l1 0l1 0l1 .2l1 0l1 0l1-.9l1 0l1 0l1 .1l1 0l1 0l1 .4l1 0l1 0l1-.5l1 0l1 0l1 0l1 0l1 0l1 0l1 0l1 0l1 .7l1 0l1 0l1 0l1 0l1 0l1-.1l1 0l1 0l1-.7l1 0l1 0l1 .9l1 0l1 0l1-.5l1 0l1 0l1-.3l1 0l1-.1l1 .3l1 0l1 0l1 0l1 0l1 0l1-.4l1 0l1 0l1 .5l1 0l1 0l1-.2l1 0l1 0l1 .2l1 0l1 0l1 .4l1 0l1 0l1-.3l1 0l1-.1l1-.3l1 0l1 0l1 .5l1 0l1 0l1 .1l1-.1l1-.1l1-.9l1-.5l1-.8l1-.8l1-1.9l1-2.1l1-2.7l1-.3l1 1.2l1 2.1l1 1.9l1 1.6l1 1l1 .6l1 .3l1 1l1 0l1-.2l1-.7l1-.7l1-1.1l1-1.4l1-1.5l1-.9l1-.4l1 1.1l1 1.5l1 1.7l1 1.1l1 .6l1 .9l1 .1l1 .1l1-.9l1 .1l1 0l1 0l1 0l1 0l1-.1l1-.1l1-.1l1 .2l1-.5l1-.8l1-1l1-1.8l1-1.9l1-1.6l1 0l1 1.3l1 1.7l1 1.8l1 1.4l1 1l1 .5l1 .3l1-.3l1 .1l1 .1l1 .9l1 0l1 .1l1-.7l1 0l1 0l1-.1l1 0l1 0l1 .1l1 0l1 0l1 .6l1 0l1 0l1-.6l1 0l1 0l1 .7l1 0l1 0l1-.6l1 0l1 0l1 .1l1 0l1 0l1-.4l1 0l1 0l1 1l1 0l1 0l1-.2l1 0l1 0l1-.4l1 .1l1 0l1-.5l1 0l1 0l1 .5l1 0l1 0l1-.2l1 0l1 0l1 .6l1 0l1 0l1 .1l1 0l1 0l1-.2l1 0l1 0l1-.6l1 0l1 0l1-.3l1 0l1 0l1 1.1l1 0l1 0l1 0l1 0l1 0l1-.9l1 0l1 0l1 .4l1 0l1 0l1 0l1 0l1 0l1 .6l1 0l1 0l1-1.2l1 0l1 0l1 .1l1 0l1 0l1 .9l1 0l1 0l1-.3l1 0l1 0l1-.2l1 0l1 0l1 .4l1 0l1 0l1-.2l1 0l1 0l1 .1l1 0l1 0l1-.5l1 0l1 0l1-.2l1 0l1 0l1-.1l1 0l1 0l1 .4l1 0l1 0l1 .4l1 0l1 0l1-.3l1 0l1 0l1-.1l1 0l1 0l1 .3l1 0l1 0l1 .1l1 0l1 0l1-.1l1 0l1 0l1-.3l1 0l1 0l1 .6l1 0l1 0l1 0l1 0l1 0l1 .1l1 0l1 0l1 0l1 0l1 0l1-1.1l1 0l1 0l1 .8l1 0l1 0l1-.4l1 0l1 0l1 .1l1 0l1 0l1 .1l1 0l1 0l1-.4l1 0l1 0l1 .1l1 0l1 0l1 .9l1 0l1 0l1-.8l1 0l1 0l1 .7l1 0l1 0l1-.3l1 0l1 0l1-.4l1 0l1 0l1 0l1 0l1 0l1 .3l1 0l1 0l1 .1l1 0l1 0l1-.4l1 0l1 0l1-.3l1 0l1 0l1 .1l1 0l1 0l1 .8l1 0l1 0l1-.1l1 0l1 0l1-.8l1 0l1 0l1 .9l1 0l1 0l1-.3l1 0l1 0l1-.3l1 0l1 0l1 .7l1 0l1 0l1-.9l1 0l1 0l1-.1l1 0l1 0l1 .3l1 0l1 0l1 .5l1 0l1 0l1-.2l1 0l1 0l1-.1l1 0l1 0l1 .5l1 0l1 0l1-.6l1 0l1 0l1 .4l1 0l1 0l1-.9l1 0l1 0l1 .9l1 0l1 0l1-.7l1 0l1 0l1 .6l1 0l1 0l1 .2l1 0l1 0l1-.2l1 0l1 0l1-.1l1 0l1 0l1 0l1 0l1 0l1 .2l1 0l1 0l1-.5l1 0l1 0l1-.1l1 0l1 0l1 .4l1 0l1 0l1-.1l1 0l1 0l1-.5l1 0l1 0l1 .5l1 0l1 0l1 0l1 0l1 0l1-.4l1 0l1 0l1 .6l1 0l1 0l1 .1l1 0l1 0l1-.5l1 0l1 0l1 .6l1 0l1 0l1 .2l1 0l1 0l1-.4l1 0l1 0l1-.3l1 0l1 0l1-.2l1 0l1 0l1-.2l1 0l1 0l1 .2l1 0l1 0l1 .9l1 0l1 0l1-1.1l1 0l1 0l1 1l1 0l1 0l1-.3l1 0l1 0l1 .1l1 0l1 0l1-.8l1 0l1 0l1 .7l1 0l1 0l1-.6l1 0l1 0l1 .6l1 0l1 0l1 .1l1 0l1 0l1-.1l1 0l1 0l1-.2l1 0l1 0l1 .4l1 0l1 0l1-.8l1 0l1 0l1-.1l1 0l1 0l1 .9l1 0l1 0l1-1l1 0l1 0l1 .4l1 0l1 0l1 0l1 0l1 0l1 .5l1 0l1 0l1-.7l1 0l1 0l1 .2l1-.1l1 0l1-.1l1-.1l1-.1l1-.2l1-.2l1-.2l1-.4l1-.7l1-1.7l1-4.4l1-9.9l1-15.7l1-14.5l1 0l1 14.7l1 15.5l1 9.8l1 4.5l1 1.6l1 .7l1 .4l1 .9l1 .2l1 .1l1 .1l1 .1l1 .1l1-.8l1 0l1 0l1 .9l1 0l1 .1l1-1.1l1 0l1 0l1 .4l1 0l1 0l1 .7l1 0l1 0l1-.9l1 0l1 0l1 .6l1 0l1 0l1 .4l1 0l1 0l1-.4l1 0l1 0l1-.2l1 0l1 0l1-.5l1 0l1 0l1 .5l1 0l1 0l1 0l1 0l1 0l1 .4l1 0l1 0l1-.5l1 0l1 0l1 .5l1 0l1 0l1-.4l1 0l1 0l1 .2l1 0l1 0l1 .2l1 0l1 0l1-.7l1 0l1 0l1 .9l1 0l1 0l1-.6l1 0l1 0l1 .1l1 0l1 0l1 .5l1 0l1 0l1-.4l1 0l1 0l1-.1l1 0l1 0l1-.4l1 0l1 0l1 0l1 0l1 0l1 .7l1 0l1 0l1-.3l1 0l1 0l1 .2l1 0l1 0l1 0l1 0l1 0l1 0l1 0l1 0l1-.4l1 0l1 0l1 .6l1 0l1 0l1-.5l1 0l1 0l1-.3l1 0l1 0l1 .8l1 0l1 0l1 .1l1 0l1 0l1-1l1 0l1 0l1 .9l1 0l1 0l1-.2l1 0l1 0l1-.5l1 0l1 0l1 .4l1 0l1 0l1 .4l1 0l1 0l1-1l1 0l1 0l1 .6l1 0l1 0l1-.5l1 0l1 0l1-.1l1 0l1 0l1 1l1 0l1 0l1 0l1 0l1 0l1-.4l1 0l1 0l1 .2l1 0l1-.1l1-.4l1 0l1-.1l1 .1l1 0l1 0l1 .2l1 0l1-.1l1 .3l1-.1l1 0l1-.2l1 0l1 0l1-.3l1-.1l1-.1l1 .1l1-.1l1-.1l1-.4l1-.3l1-.3l1 .1l1-.8l1-1.6l1-4l1-10.2l1-19.4l1-25l1-13.2l1 13.2l1 24.3l1 19.5l1 10.2l1 4.1l1 1.6l1 .7l1 1.2l1 .3l1 .3l1-.6l1 .1l1 .1l1 .5l1 0l1 .1l1-.6l1 0l1 0l1 .1l1 0l1 0l1 .2l1 0l1 0l1 .6l1 0l1 0l1-.6l1 .1l1 0l1 .5l1 0l1 0l1-.7l1 0l1 0l1 .8l1 0l1 0l1 0l1 0l1 0l1-.5l1 0l1 0l1-.1l1 0l1 0l1 .1l1 0l1 0l1 .3l1 0l1 0l1-.4l1 0l1 0l1 .1l1 0l1 0l1 .6l1 0l1 0l1 .2l1 0l1 0l1-.9l1 0l1 0l1 .4l1 0l1 0l1 .2l1 0l1 0l1 .3l1 0l1 0l1-.4l1 0l1 0l1-.1l1 0l1 0l1 .3l1 0l1 0l1 0l1 0l1 0l1-.1l1 0l1 0l1-.1l1 0l1 0l1 .3l1 0l1 0l1-1l1 0l1 0l1 .9l1 0l1 0l1-.6l1 0l1 0l1 .1l1 0l1 0l1 .1l1 0l1 0l1 .1l1 0l1 0l1 .1l1 0l1 0l1 0l1 0l1 0l1-.3l1 0l1 0l1 0l1 0l1 0l1 .4l1 0l1 0l1 .3l1 0l1 0l1-.6l1 0l1 0l1-.5l1 0l1 0l1 1l1 0l1 0l1 .1l1 0l1 0l1-.1l1 0l1 0l1-.2l1 0l1 0l1-.3l1 0l1 0l1-.4l1 0l1 0l1 1l1 0l1 0l1-.6l1 0l1 0l1-.4l1 0l1 0l1 .6l1 0l1 0l1-.6l1 0l1 0l1 .4l1 0l1 0l1 .2l1 0l1 0l1 .3l1 0l1 0l1-.6l1 0l1 0l1-.2l1 0l1 0l1 .2l1 0l1 0l1 .6l1 0l1 0l1-.9l1 0l1 0l1 .1l1 0l1 0l1 .2l1 0l1 0l1 .7l1 0l1 0l1 0l1 0l1 0l1 .1l1 0l1 0l1-1.1l1 0l1 0l1 .5l1 0l1 0l1-.4l1 0l1 0l1 .5l1 0l1 0l1 .3l1 0l1 0l1-.4l1 0l1 0l1 .2l1 0l1 0l1 0l1 0l1 0l1-.2l1 0l1 0l1-.1l1 0l1 0l1-.2l1 0l1 0l1 .6l1 0l1 0l1 .3l1 0l1 0l1 0l1 0l1 0l1-.1l1 0l1 0l1-.1l1 0l1 0l1-.2l1 0l1 0l1-.2l1 0l1 0l1-.5l1 0l1 0l1 .9l1 0l1 0l1-.8l1 0l1 0l1 .9l1 0l1 0l1-.1l1 0l1 0l1-.7l1 0l1 0l1 .8l1 0l1 0l1-.2l1 0l1 0l1 .1l1 0l1 0l1-.9l1 0l1 0l1 .2l1 0l1 0l1-.1l1 0l1 0l1 .9l1 0l1 0l1-.8l1 0l1 0l1 .2l1 0l1 0l1 .4l1 0l1 0l1-.4l1 0l1 0l1 .3l1 0l1 0l1-.1l1 0l1 0l1-.2l1 0l1 0l1 .6l1 0l1 0l1-.3l1 0l1 0l1 .1l1 0l1 0l1 0l1 0l1 0l1-.2l1 0l1 0l1-.5l1 0l1 0l1 .9l1 0l1 0l1 0l1 0l1 0l1-1l1 0l1 0l1 .3l1 0l1 0l1-.2l1 0l1 0l1 0l1 0l1 0l1 .5l1 0l1 0l1-.2l1 0l1 0l1-.3l1 0l1 0l1 .4l1 0l1 0l1 .2l1 0l1 0l1-.6l1 0l1 0l1 .6l1 0l1 0l1 0l1 0l1 0l1 .2l1 0l1 0l1 .2l1 0l1 0l1-.1l1 0l1 0l1-.7l1 0l1 0l1-.3l1 0l1 0l1 .3l1 0l1 0l1-.2l1 0l1 0l1 .8l1 0l1 0l1-.6l1 0l1 0l1 .3l1 0l1 0l1 .2l1 0l1 0l1-.3l1 0l1 0l1 .6l1 0l1 0l1-.4l1 0l1 0l1-.1l1 0l1 0l1-.5l1 0l1 0l1 .1l1 0l1 0l1 .5l1 0l1 0l1-.3l1 0l1 0l1 .2l1 0l1 0l1 .4l1 0l1 0l1-.3l1 0l1 0l1 .2l1 0l1 0l1-.6l1 0l1 0l1-.3l1 0l1 0l1 .2l1 0l1 0l1 .8l1 0l1 0l1-.8l1 0l1 0l1-.2l1 0l1 0l1 0l1 0l1 0l1 1.1l1 0l1 0l1-.9l1 0l1 0l1-.2l1 0l1 0l1 .3l1 0l1 0l1-.3l1 0l1 0l1 .8l1 0l1 0l1-.1l1 0l1 0l1-.3l1 0l1 0l1 .4l1 0l1 0l1-.9l1 0l1 0l1 1l1 0l1 0l1-.2l1 0l1 0l1 .1l1 0l1 0l1-.7l1 0l1 0l1 .9l1 0l1 0l1 .1l1 0l1 0l1-.6l1 0l1 0l1-.2l1 0l1 0l1 .2l1 0l1 0l1 .2l1 0l1 0l1-.2l1 0l1 0l1 0l1 0l1 0l1 .5l1 0l1 0l1-.3l1 0l1 0l1-.3l1 0l1 0l1 .6l1 0l1 0l1-.2l1 0l1 0l1-.9l1 0l1 0l1 .6l1 0l1 0l1-.2l1 0l1 0l1 0l1 0l1 0l1 0l1 0l1 0l1 .6l1 0l1 0l1-.3l1 0l1 0l1-.4l1 0l1 0l1-.2l1 0l1 0l1 .1l1 0l1 0l1 .2l1 0l1 0l1 .2l1 0l1 0l1 0l1 0l1 0l1-.1l1 0l1 0l1 .1l1 0l1 0l1-.2l1 0l1 0l1 .7l1 0l1 0l1-.9l1 0l1 0l1 .2l1 0l1 0l1 .4l1 0l1 0l1 .2l1 0l1 0l1-.5l1 0l1 0l1 .2l1 0l1 0l1-.4l1 0l1 0l1-.3l1 0l1 0l1 1.1l1 0l1 0l1-1.1l1 0l1 0l1 .8l1 0l1 0l1-.9l1 0l1 0l1 .3l1 0l1-.1l1 .3l1-.1l1 0l1 .4l1-.1l1-.1l1-.3l1-.2l1-.4l1-1.4l1-2.3l1-5.4l1-9.9l1-11l1-3.7l1 8.7l1 11.2l1 7.9l1 3.9l1 1.5l1 .6l1 .6l1 .1l1 .2l1-.9l1 .1l1 0l1 .7l1 .1l1 0l1 0l1 0l1 0l1 .3l1 0l1 0l1 0l1 0l1 0l1-.1l1 .1l1 0l1 .1l1 0l1 0l1-1l1 .1l1 0l1 1l1 0l1 0l1-.4l1 0l1 0l1 .3l1 0l1 0l1-.8l1 0l1 0l1 .4l1 0l1 0l1 .4l1 0l1 0l1 .1l1 0l1 0l1-.4l1 0l1 0l1 .4l1 0l1 0l1-1.1l1 0l1 0l1 .1l1 0l1 0l1 .2l1 0l1 0l1 .7l1 0l1 0l1-.2l1 0l1 0l1-.3l1 0l1 0l1 .6l1 0l1 0l1-.5l1 0l1 0l1-.4l1 0l1 0l1 .9l1 0l1 0l1-.2l1 0l1 0l1 .3l1 0l1 0l1-.3l1 0l1 0l1-.3l1 0l1 0l1 .5l1 0l1 0l1-.9l1 0l1 0l1-.2l1 0l1 0l1 .3l1 0l1 0l1 .8l1 0l1 0l1-1l1 0l1 0l1 .8l1 0l1 0l1-.3l1 0l1 0l1-.4l1 0l1 0l1 0l1 0l1 0l1 .7l1 0l1 0l1-.4l1 0l1 0l1 .6l1 0l1 0l1-1l1 0l1 0l1 .6l1 0l1 0l1 .3l1 0l1 0l1-.7l1 0l1 0l1 0l1 0l1 0l1 .4l1 0l1 0l1-.5l1 0l1 0l1 .6l1 0l1 0l1 .3l1 0l1 0l1-.7l1 0l1 0l1-.2l1 0l1 0l1 .9l1 0l1 0l1-1l1 0l1 0l1 .9l1 0l1 0l1-.5l1 0l1 0l1 .5l1 0l1 0l1-.5l1 0l1 0l1 .7l1 0l1 0l1-.4l1 0l1 0l1-.1l1 0l1 0l1-.6l1 0l1 0l1 .6l1 0l1 0l1-.4l1 0l1 0l1 .6l1 0l1 0l1-.5l1 0l1 0l1-.1l1 0l1 0l1-.1l1 0l1 0l1 .1l1 0l1 0l1-.2l1 0l1 0l1 .2l1 0l1 0l1 .3l1 0l1 0l1 .4l1 0l1 0l1-.1l1 0l1 0l1-.5l1 0l1 0l1 .7l1 0l1 0l1-.7l1 0l1 0l1 .1l1 0l1 0l1 .1l1 0l1 0l1 .1l1 0l1 0l1-.1l1 0l1 0l1 .2l1 0l1-.1l1-.5l1-.1l1-.3l1-.3l1-.3l1 0l1 .5l1 .3l1 .2l1 .2l1 .1l1 0l1-.2l1 0l1 0l1 .4l1 0l1 0l1-.6l1 0l1 0l1 .4l1 0l1 0l1 0l1 0l1 0l1 .2l1 0l1 0l1-.5l1 0l1 0l1 .6l1 0l1 0l1-.2l1 0l1 0l1 .5l1 0l1 0l1-.9l1 0l1 0l1 .3l1 0l1 0l1 .4l1 0l1 0l1 .2l1 0l1 0l1-.1l1 0l1 0l1 .1l1 0l1 0l1-.6l1 0l1 0l1-.2l1 0l1 0l1 0l1 0l1 0l1 .5l1 0l1 0l1 0l1 0l1 0l1-.3l1 0l1 0l1-.3l1 0l1 0l1 .8l1 0l1 0l1-.6l1 0l1 0l1-.1l1 0l1 0l1 .7l1 0l1 0l1-.1l1 0l1 0l1-.1l1 0l1 0l1 .1l1 0l1 0l1-.2l1 0l1 0l1 0l1 0l1 0l1-.2l1 0l1 0l1-.3l1 0l1 0l1 .9l1 0l1 0l1-1l1 0l1 0l1 .8l1 0l1 0l1-.5l1 0l1 0l1 .5l1 0l1 0l1 .1l1 0l1 0l1-.1l1 0l1 0l1-.9l1 0l1 0l1 1l1 0l1 0l1-.8l1 0l1 0l1 0l1 0l1 0l1 .8l1 0l1-.1l1-.2l1-.2l1-.2l1-1.3l1-1.1l1-2l1-1.9l1-2.8l1-1.3l1 .6l1 2.8l1 2.8l1 2.3l1 1.1l1 .5l1 .5l1 .1l1 .1l1-.8l1 0l1 0l1 .2l1 0l1 0l1 0l1 0l1 0l1 0l1 0l1 0l1 .9l1 0l1 0l1-1l1 0l1 0l1 .3l1 .1l1 0l1 .6l1 0l1 0l1-1l1 0l1 0l1 .5l1 0l1 0l1 .5l1 0l1 0l1 .1l1 0l1 0l1-.1l1 0l1 0l1-.9l1 0l1 0l1-.1l1 0l1 0l1 .9l1 0l1 0l1-.4l1 0l1 0l1 .1l1 0l1 0l1 .2l1 0l1 0l1 .2l1 0l1 0l1-.7l1 0l1 0l1 .8l1 0l1 0l1-.8l1 0l1 0l1 .7l1 0l1 0l1-.9l1 0l1 0l1-.1l1 0l1 0l1 .7l1 0l1 0l1 .2l1 0l1 0l1-.1l1-.1l1 0l1-.6l1 0l1 0l1 1l1 0l1 0l1 0l1 0l1 0l1 0l1 0l1 0l1-.3l1 0l1 0l1-.8l1 0l1 0l1 .5l1 0l1 0l1-.3l1-.1l1 0l1 .1l1 0l1-.1l1 .3l1 0l1-.1l1 .4l1-.2l1-.3l1-1l1-1.4l1-1.9l1-1.5l1-.9l1 .9l1 1.2l1 1.9l1 1.3l1 .5l1 .3l1 .2l1 .9l1 .1l1 0l1 .1l1 0l1 .1l1-.5l1 0l1 0l1-.3l1 0l1 0l1 .5l1 0l1 0l1-.4l1 0l1 0l1 .2l1 0l1 0l1 .2l1 0l1 0l1 .2l1 0l1 0l1 0l1 0l1 0l1-.8l1 0l1 0l1 .4l1 0l1 0l1 .1l1 0l1 0l1-.2l1 0l1 0l1-.3l1 0l1 0l1 .2l1 0l1 0l1 .2l1 0l1 0l1 .3l1 0l1 0l1 .4l1 0l1 0l1-1l1 0l1 0l1 .5l1 0l1 0l1-.5l1 0l1 0l1 0l1 0l1 0l1 .1l1 0l1 0l1 .2l1 0l1 0l1 .5l1 0l1 0" stroke="#009200" stroke-width="11.0" stroke-opacity="0.22"/><path d="M199,1104.2l1 0l1 0l1-1.2l1 0l1 0l1 .9l1 0l1 0l1-.7l1 0l1 0l1 1l1 0l1 0l1-1.2l1 0l1 0l1 1l1 0l1 0l1-.2l1 0l1 0l1 .2l1 0l1 0l1 .2l1 0l1 0l1-.9l1 0l1 0l1 .1l1 0l1 0l1 .4l1 0l1 0l1-.5l1 0l1 0l1 0l1 0l1 0l1 0l1 0l1 0l1 .7l1 0l1 0l1 0l1 0l1 0l1-.1l1 0l1 0l1-.7l1 0l1 0l1 .9l1 0l1 0l1-.5l1 0l1 0l1-.3l1 0l1-.1l1 .3l1 0l1 0l1 0l1 0l1 0l1-.4l1 0l1 0l1 .5l1 0l1 0l1-.2l1 0l1 0l1 .2l1 0l1 0l1 .4l1 0l1 0l1-.3l1 0l1-.1l1-.3l1 0l1 0l1 .5l1 0l1 0l1 .1l1-.1l1-.1l1-.9l1-.5l1-.8l1-.8l1-1.9l1-2.1l1-2.7l1-.3l1 1.2l1 2.1l1 1.9l1 1.6l1 1l1 .6l1 .3l1 1l1 0l1-.2l1-.7l1-.7l1-1.1l1-1.4l1-1.5l1-.9l1-.4l1 1.1l1 1.5l1 1.7l1 1.1l1 .6l1 .9l1 .1l1 .1l1-.9l1 .1l1 0l1 0l1 0l1 0l1-.1l1-.1l1-.1l1 .2l1-.5l1-.8l1-1l1-1.8l1-1.9l1-1.6l1 0l1 1.3l1 1.7l1 1.8l1 1.4l1 1l1 .5l1 .3l1-.3l1 .1l1 .1l1 .9l1 0l1 .1l1-.7l1 0l1 0l1-.1l1 0l1 0l1 .1l1 0l1 0l1 .6l1 0l1 0l1-.6l1 0l1 0l1 .7l1 0l1 0l1-.6l1 0l1 0l1 .1l1 0l1 0l1-.4l1 0l1 0l1 1l1 0l1 0l1-.2l1 0l1 0l1-.4l1 .1l1 0l1-.5l1 0l1 0l1 .5l1 0l1 0l1-.2l1 0l1 0l1 .6l1 0l1 0l1 .1l1 0l1 0l1-.2l1 0l1 0l1-.6l1 0l1 0l1-.3l1 0l1 0l1 1.1l1 0l1 0l1 0l1 0l1 0l1-.9l1 0l1 0l1 .4l1 0l1 0l1 0l1 0l1 0l1 .6l1 0l1 0l1-1.2l1 0l1 0l1 .1l1 0l1 0l1 .9l1 0l1 0l1-.3l1 0l1 0l1-.2l1 0l1 0l1 .4l1 0l1 0l1-.2l1 0l1 0l1 .1l1 0l1 0l1-.5l1 0l1 0l1-.2l1 0l1 0l1-.1l1 0l1 0l1 .4l1 0l1 0l1 .4l1 0l1 0l1-.3l1 0l1 0l1-.1l1 0l1 0l1 .3l1 0l1 0l1 .1l1 0l1 0l1-.1l1 0l1 0l1-.3l1 0l1 0l1 .6l1 0l1 0l1 0l1 0l1 0l1 .1l1 0l1 0l1 0l1 0l1 0l1-1.1l1 0l1 0l1 .8l1 0l1 0l1-.4l1 0l1 0l1 .1l1 0l1 0l1 .1l1 0l1 0l1-.4l1 0l1 0l1 .1l1 0l1 0l1 .9l1 0l1 0l1-.8l1 0l1 0l1 .7l1 0l1 0l1-.3l1 0l1 0l1-.4l1 0l1 0l1 0l1 0l1 0l1 .3l1 0l1 0l1 .1l1 0l1 0l1-.4l1 0l1 0l1-.3l1 0l1 0l1 .1l1 0l1 0l1 .8l1 0l1 0l1-.1l1 0l1 0l1-.8l1 0l1 0l1 .9l1 0l1 0l1-.3l1 0l1 0l1-.3l1 0l1 0l1 .7l1 0l1 0l1-.9l1 0l1 0l1-.1l1 0l1 0l1 .3l1 0l1 0l1 .5l1 0l1 0l1-.2l1 0l1 0l1-.1l1 0l1 0l1 .5l1 0l1 0l1-.6l1 0l1 0l1 .4l1 0l1 0l1-.9l1 0l1 0l1 .9l1 0l1 0l1-.7l1 0l1 0l1 .6l1 0l1 0l1 .2l1 0l1 0l1-.2l1 0l1 0l1-.1l1 0l1 0l1 0l1 0l1 0l1 .2l1 0l1 0l1-.5l1 0l1 0l1-.1l1 0l1 0l1 .4l1 0l1 0l1-.1l1 0l1 0l1-.5l1 0l1 0l1 .5l1 0l1 0l1 0l1 0l1 0l1-.4l1 0l1 0l1 .6l1 0l1 0l1 .1l1 0l1 0l1-.5l1 0l1 0l1 .6l1 0l1 0l1 .2l1 0l1 0l1-.4l1 0l1 0l1-.3l1 0l1 0l1-.2l1 0l1 0l1-.2l1 0l1 0l1 .2l1 0l1 0l1 .9l1 0l1 0l1-1.1l1 0l1 0l1 1l1 0l1 0l1-.3l1 0l1 0l1 .1l1 0l1 0l1-.8l1 0l1 0l1 .7l1 0l1 0l1-.6l1 0l1 0l1 .6l1 0l1 0l1 .1l1 0l1 0l1-.1l1 0l1 0l1-.2l1 0l1 0l1 .4l1 0l1 0l1-.8l1 0l1 0l1-.1l1 0l1 0l1 .9l1 0l1 0l1-1l1 0l1 0l1 .4l1 0l1 0l1 0l1 0l1 0l1 .5l1 0l1 0l1-.7l1 0l1 0l1 .2l1-.1l1 0l1-.1l1-.1l1-.1l1-.2l1-.2l1-.2l1-.4l1-.7l1-1.7l1-4.4l1-9.9l1-15.7l1-14.5l1 0l1 14.7l1 15.5l1 9.8l1 4.5l1 1.6l1 .7l1 .4l1 .9l1 .2l1 .1l1 .1l1 .1l1 .1l1-.8l1 0l1 0l1 .9l1 0l1 .1l1-1.1l1 0l1 0l1 .4l1 0l1 0l1 .7l1 0l1 0l1-.9l1 0l1 0l1 .6l1 0l1 0l1 .4l1 0l1 0l1-.4l1 0l1 0l1-.2l1 0l1 0l1-.5l1 0l1 0l1 .5l1 0l1 0l1 0l1 0l1 0l1 .4l1 0l1 0l1-.5l1 0l1 0l1 .5l1 0l1 0l1-.4l1 0l1 0l1 .2l1 0l1 0l1 .2l1 0l1 0l1-.7l1 0l1 0l1 .9l1 0l1 0l1-.6l1 0l1 0l1 .1l1 0l1 0l1 .5l1 0l1 0l1-.4l1 0l1 0l1-.1l1 0l1 0l1-.4l1 0l1 0l1 0l1 0l1 0l1 .7l1 0l1 0l1-.3l1 0l1 0l1 .2l1 0l1 0l1 0l1 0l1 0l1 0l1 0l1 0l1-.4l1 0l1 0l1 .6l1 0l1 0l1-.5l1 0l1 0l1-.3l1 0l1 0l1 .8l1 0l1 0l1 .1l1 0l1 0l1-1l1 0l1 0l1 .9l1 0l1 0l1-.2l1 0l1 0l1-.5l1 0l1 0l1 .4l1 0l1 0l1 .4l1 0l1 0l1-1l1 0l1 0l1 .6l1 0l1 0l1-.5l1 0l1 0l1-.1l1 0l1 0l1 1l1 0l1 0l1 0l1 0l1 0l1-.4l1 0l1 0l1 .2l1 0l1-.1l1-.4l1 0l1-.1l1 .1l1 0l1 0l1 .2l1 0l1-.1l1 .3l1-.1l1 0l1-.2l1 0l1 0l1-.3l1-.1l1-.1l1 .1l1-.1l1-.1l1-.4l1-.3l1-.3l1 .1l1-.8l1-1.6l1-4l1-10.2l1-19.4l1-25l1-13.2l1 13.2l1 24.3l1 19.5l1 10.2l1 4.1l1 1.6l1 .7l1 1.2l1 .3l1 .3l1-.6l1 .1l1 .1l1 .5l1 0l1 .1l1-.6l1 0l1 0l1 .1l1 0l1 0l1 .2l1 0l1 0l1 .6l1 0l1 0l1-.6l1 .1l1 0l1 .5l1 0l1 0l1-.7l1 0l1 0l1 .8l1 0l1 0l1 0l1 0l1 0l1-.5l1 0l1 0l1-.1l1 0l1 0l1 .1l1 0l1 0l1 .3l1 0l1 0l1-.4l1 0l1 0l1 .1l1 0l1 0l1 .6l1 0l1 0l1 .2l1 0l1 0l1-.9l1 0l1 0l1 .4l1 0l1 0l1 .2l1 0l1 0l1 .3l1 0l1 0l1-.4l1 0l1 0l1-.1l1 0l1 0l1 .3l1 0l1 0l1 0l1 0l1 0l1-.1l1 0l1 0l1-.1l1 0l1 0l1 .3l1 0l1 0l1-1l1 0l1 0l1 .9l1 0l1 0l1-.6l1 0l1 0l1 .1l1 0l1 0l1 .1l1 0l1 0l1 .1l1 0l1 0l1 .1l1 0l1 0l1 0l1 0l1 0l1-.3l1 0l1 0l1 0l1 0l1 0l1 .4l1 0l1 0l1 .3l1 0l1 0l1-.6l1 0l1 0l1-.5l1 0l1 0l1 1l1 0l1 0l1 .1l1 0l1 0l1-.1l1 0l1 0l1-.2l1 0l1 0l1-.3l1 0l1 0l1-.4l1 0l1 0l1 1l1 0l1 0l1-.6l1 0l1 0l1-.4l1 0l1 0l1 .6l1 0l1 0l1-.6l1 0l1 0l1 .4l1 0l1 0l1 .2l1 0l1 0l1 .3l1 0l1 0l1-.6l1 0l1 0l1-.2l1 0l1 0l1 .2l1 0l1 0l1 .6l1 0l1 0l1-.9l1 0l1 0l1 .1l1 0l1 0l1 .2l1 0l1 0l1 .7l1 0l1 0l1 0l1 0l1 0l1 .1l1 0l1 0l1-1.1l1 0l1 0l1 .5l1 0l1 0l1-.4l1 0l1 0l1 .5l1 0l1 0l1 .3l1 0l1 0l1-.4l1 0l1 0l1 .2l1 0l1 0l1 0l1 0l1 0l1-.2l1 0l1 0l1-.1l1 0l1 0l1-.2l1 0l1 0l1 .6l1 0l1 0l1 .3l1 0l1 0l1 0l1 0l1 0l1-.1l1 0l1 0l1-.1l1 0l1 0l1-.2l1 0l1 0l1-.2l1 0l1 0l1-.5l1 0l1 0l1 .9l1 0l1 0l1-.8l1 0l1 0l1 .9l1 0l1 0l1-.1l1 0l1 0l1-.7l1 0l1 0l1 .8l1 0l1 0l1-.2l1 0l1 0l1 .1l1 0l1 0l1-.9l1 0l1 0l1 .2l1 0l1 0l1-.1l1 0l1 0l1 .9l1 0l1 0l1-.8l1 0l1 0l1 .2l1 0l1 0l1 .4l1 0l1 0l1-.4l1 0l1 0l1 .3l1 0l1 0l1-.1l1 0l1 0l1-.2l1 0l1 0l1 .6l1 0l1 0l1-.3l1 0l1 0l1 .1l1 0l1 0l1 0l1 0l1 0l1-.2l1 0l1 0l1-.5l1 0l1 0l1 .9l1 0l1 0l1 0l1 0l1 0l1-1l1 0l1 0l1 .3l1 0l1 0l1-.2l1 0l1 0l1 0l1 0l1 0l1 .5l1 0l1 0l1-.2l1 0l1 0l1-.3l1 0l1 0l1 .4l1 0l1 0l1 .2l1 0l1 0l1-.6l1 0l1 0l1 .6l1 0l1 0l1 0l1 0l1 0l1 .2l1 0l1 0l1 .2l1 0l1 0l1-.1l1 0l1 0l1-.7l1 0l1 0l1-.3l1 0l1 0l1 .3l1 0l1 0l1-.2l1 0l1 0l1 .8l1 0l1 0l1-.6l1 0l1 0l1 .3l1 0l1 0l1 .2l1 0l1 0l1-.3l1 0l1 0l1 .6l1 0l1 0l1-.4l1 0l1 0l1-.1l1 0l1 0l1-.5l1 0l1 0l1 .1l1 0l1 0l1 .5l1 0l1 0l1-.3l1 0l1 0l1 .2l1 0l1 0l1 .4l1 0l1 0l1-.3l1 0l1 0l1 .2l1 0l1 0l1-.6l1 0l1 0l1-.3l1 0l1 0l1 .2l1 0l1 0l1 .8l1 0l1 0l1-.8l1 0l1 0l1-.2l1 0l1 0l1 0l1 0l1 0l1 1.1l1 0l1 0l1-.9l1 0l1 0l1-.2l1 0l1 0l1 .3l1 0l1 0l1-.3l1 0l1 0l1 .8l1 0l1 0l1-.1l1 0l1 0l1-.3l1 0l1 0l1 .4l1 0l1 0l1-.9l1 0l1 0l1 1l1 0l1 0l1-.2l1 0l1 0l1 .1l1 0l1 0l1-.7l1 0l1 0l1 .9l1 0l1 0l1 .1l1 0l1 0l1-.6l1 0l1 0l1-.2l1 0l1 0l1 .2l1 0l1 0l1 .2l1 0l1 0l1-.2l1 0l1 0l1 0l1 0l1 0l1 .5l1 0l1 0l1-.3l1 0l1 0l1-.3l1 0l1 0l1 .6l1 0l1 0l1-.2l1 0l1 0l1-.9l1 0l1 0l1 .6l1 0l1 0l1-.2l1 0l1 0l1 0l1 0l1 0l1 0l1 0l1 0l1 .6l1 0l1 0l1-.3l1 0l1 0l1-.4l1 0l1 0l1-.2l1 0l1 0l1 .1l1 0l1 0l1 .2l1 0l1 0l1 .2l1 0l1 0l1 0l1 0l1 0l1-.1l1 0l1 0l1 .1l1 0l1 0l1-.2l1 0l1 0l1 .7l1 0l1 0l1-.9l1 0l1 0l1 .2l1 0l1 0l1 .4l1 0l1 0l1 .2l1 0l1 0l1-.5l1 0l1 0l1 .2l1 0l1 0l1-.4l1 0l1 0l1-.3l1 0l1 0l1 1.1l1 0l1 0l1-1.1l1 0l1 0l1 .8l1 0l1 0l1-.9l1 0l1 0l1 .3l1 0l1-.1l1 .3l1-.1l1 0l1 .4l1-.1l1-.1l1-.3l1-.2l1-.4l1-1.4l1-2.3l1-5.4l1-9.9l1-11l1-3.7l1 8.7l1 11.2l1 7.9l1 3.9l1 1.5l1 .6l1 .6l1 .1l1 .2l1-.9l1 .1l1 0l1 .7l1 .1l1 0l1 0l1 0l1 0l1 .3l1 0l1 0l1 0l1 0l1 0l1-.1l1 .1l1 0l1 .1l1 0l1 0l1-1l1 .1l1 0l1 1l1 0l1 0l1-.4l1 0l1 0l1 .3l1 0l1 0l1-.8l1 0l1 0l1 .4l1 0l1 0l1 .4l1 0l1 0l1 .1l1 0l1 0l1-.4l1 0l1 0l1 .4l1 0l1 0l1-1.1l1 0l1 0l1 .1l1 0l1 0l1 .2l1 0l1 0l1 .7l1 0l1 0l1-.2l1 0l1 0l1-.3l1 0l1 0l1 .6l1 0l1 0l1-.5l1 0l1 0l1-.4l1 0l1 0l1 .9l1 0l1 0l1-.2l1 0l1 0l1 .3l1 0l1 0l1-.3l1 0l1 0l1-.3l1 0l1 0l1 .5l1 0l1 0l1-.9l1 0l1 0l1-.2l1 0l1 0l1 .3l1 0l1 0l1 .8l1 0l1 0l1-1l1 0l1 0l1 .8l1 0l1 0l1-.3l1 0l1 0l1-.4l1 0l1 0l1 0l1 0l1 0l1 .7l1 0l1 0l1-.4l1 0l1 0l1 .6l1 0l1 0l1-1l1 0l1 0l1 .6l1 0l1 0l1 .3l1 0l1 0l1-.7l1 0l1 0l1 0l1 0l1 0l1 .4l1 0l1 0l1-.5l1 0l1 0l1 .6l1 0l1 0l1 .3l1 0l1 0l1-.7l1 0l1 0l1-.2l1 0l1 0l1 .9l1 0l1 0l1-1l1 0l1 0l1 .9l1 0l1 0l1-.5l1 0l1 0l1 .5l1 0l1 0l1-.5l1 0l1 0l1 .7l1 0l1 0l1-.4l1 0l1 0l1-.1l1 0l1 0l1-.6l1 0l1 0l1 .6l1 0l1 0l1-.4l1 0l1 0l1 .6l1 0l1 0l1-.5l1 0l1 0l1-.1l1 0l1 0l1-.1l1 0l1 0l1 .1l1 0l1 0l1-.2l1 0l1 0l1 .2l1 0l1 0l1 .3l1 0l1 0l1 .4l1 0l1 0l1-.1l1 0l1 0l1-.5l1 0l1 0l1 .7l1 0l1 0l1-.7l1 0l1 0l1 .1l1 0l1 0l1 .1l1 0l1 0l1 .1l1 0l1 0l1-.1l1 0l1 0l1 .2l1 0l1-.1l1-.5l1-.1l1-.3l1-.3l1-.3l1 0l1 .5l1 .3l1 .2l1 .2l1 .1l1 0l1-.2l1 0l1 0l1 .4l1 0l1 0l1-.6l1 0l1 0l1 .4l1 0l1 0l1 0l1 0l1 0l1 .2l1 0l1 0l1-.5l1 0l1 0l1 .6l1 0l1 0l1-.2l1 0l1 0l1 .5l1 0l1 0l1-.9l1 0l1 0l1 .3l1 0l1 0l1 .4l1 0l1 0l1 .2l1 0l1 0l1-.1l1 0l1 0l1 .1l1 0l1 0l1-.6l1 0l1 0l1-.2l1 0l1 0l1 0l1 0l1 0l1 .5l1 0l1 0l1 0l1 0l1 0l1-.3l1 0l1 0l1-.3l1 0l1 0l1 .8l1 0l1 0l1-.6l1 0l1 0l1-.1l1 0l1 0l1 .7l1 0l1 0l1-.1l1 0l1 0l1-.1l1 0l1 0l1 .1l1 0l1 0l1-.2l1 0l1 0l1 0l1 0l1 0l1-.2l1 0l1 0l1-.3l1 0l1 0l1 .9l1 0l1 0l1-1l1 0l1 0l1 .8l1 0l1 0l1-.5l1 0l1 0l1 .5l1 0l1 0l1 .1l1 0l1 0l1-.1l1 0l1 0l1-.9l1 0l1 0l1 1l1 0l1 0l1-.8l1 0l1 0l1 0l1 0l1 0l1 .8l1 0l1-.1l1-.2l1-.2l1-.2l1-1.3l1-1.1l1-2l1-1.9l1-2.8l1-1.3l1 .6l1 2.8l1 2.8l1 2.3l1 1.1l1 .5l1 .5l1 .1l1 .1l1-.8l1 0l1 0l1 .2l1 0l1 0l1 0l1 0l1 0l1 0l1 0l1 0l1 .9l1 0l1 0l1-1l1 0l1 0l1 .3l1 .1l1 0l1 .6l1 0l1 0l1-1l1 0l1 0l1 .5l1 0l1 0l1 .5l1 0l1 0l1 .1l1 0l1 0l1-.1l1 0l1 0l1-.9l1 0l1 0l1-.1l1 0l1 0l1 .9l1 0l1 0l1-.4l1 0l1 0l1 .1l1 0l1 0l1 .2l1 0l1 0l1 .2l1 0l1 0l1-.7l1 0l1 0l1 .8l1 0l1 0l1-.8l1 0l1 0l1 .7l1 0l1 0l1-.9l1 0l1 0l1-.1l1 0l1 0l1 .7l1 0l1 0l1 .2l1 0l1 0l1-.1l1-.1l1 0l1-.6l1 0l1 0l1 1l1 0l1 0l1 0l1 0l1 0l1 0l1 0l1 0l1-.3l1 0l1 0l1-.8l1 0l1 0l1 .5l1 0l1 0l1-.3l1-.1l1 0l1 .1l1 0l1-.1l1 .3l1 0l1-.1l1 .4l1-.2l1-.3l1-1l1-1.4l1-1.9l1-1.5l1-.9l1 .9l1 1.2l1 1.9l1 1.3l1 .5l1 .3l1 .2l1 .9l1 .1l1 0l1 .1l1 0l1 .1l1-.5l1 0l1 0l1-.3l1 0l1 0l1 .5l1 0l1 0l1-.4l1 0l1 0l1 .2l1 0l1 0l1 .2l1 0l1 0l1 .2l1 0l1 0l1 0l1 0l1 0l1-.8l1 0l1 0l1 .4l1 0l1 0l1 .1l1 0l1 0l1-.2l1 0l1 0l1-.3l1 0l1 0l1 .2l1 0l1 0l1 .2l1 0l1 0l1 .3l1 0l1 0l1 .4l1 0l1 0l1-1l1 0l1 0l1 .5l1 0l1 0l1-.5l1 0l1 0l1 0l1 0l1 0l1 .1l1 0l1 0l1 .2l1 0l1 0l1 .5l1 0l1 0" stroke="#009200" stroke-width="7.0"/><path d="M199,1261.2l1 0l1 0l1 .2l1 0l1 0l1-.1l1 0l1 0l1 0l1 0l1 0l1 0l1 0l1 0l1 .3l1 0l1 0l1-.5l1 0l1 0l1 .5l1 0l1 0l1-.8l1 0l1 0l1 .4l1 0l1 0l1 0l1 0l1 0l1-.2l1 0l1 0l1 .7l1 0l1 0l1-.5l1 0l1 0l1 .6l1 0l1 0l1 .2l1 0l1 0l1-.8l1 0l1 0l1 .7l1 0l1 0l1-.1l1 0l1 0l1-.1l1 0l1 0l1-.8l1 0l1 0l1 .5l1 0l1 0l1 .2l1 0l1 0l1-.4l1 0l1 0l1 0l1 0l1 0l1 .1l1 0l1 0l1-.1l1 0l1 0l1 .6l1 0l1 0l1-.5l1 0l1 0l1 .1l1 0l1 0l1 .3l1 0l1 0l1 .3l1 0l1 0l1-.8l1 0l1 0l1-.3l1-.1l1 0l1 .9l1-.2l1-.4l1-.6l1-.5l1-.3l1 0l1 .4l1 .5l1 .1l1 .4l1 .2l1-.3l1 0l1 0l1-.1l1-.1l1-.1l1 .1l1-.2l1-.2l1 .1l1 0l1 0l1-.3l1 .1l1 .2l1 .9l1 .2l1 0l1 .1l1 .1l1 0l1-.9l1 .1l1 0l1 1l1 0l1 0l1-.4l1 0l1 0l1 .5l1 0l1 0l1-.6l1 0l1 0l1 .4l1 0l1 0l1-.4l1 0l1 0l1 .1l1 0l1 0l1-.1l1 0l1 0l1-.5l1 0l1 0l1 .1l1 .1l1 0l1 .1l1 0l1 0l1 .2l1 0l1 0l1 0l1 0l1 0l1 .2l1 0l1 0l1 .1l1 0l1 0l1-.3l1 0l1 0l1-.1l1 0l1 0l1 .3l1 0l1 0l1 .5l1 0l1 0l1-.2l1 0l1 0l1-.1l1 0l1 0l1 .2l1 0l1 0l1-.7l1 0l1 0l1-.2l1 0l1 0l1 0l1 0l1 0l1 0l1 .1l1 0l1-.2l1 0l1 0l1 .8l1 0l1 0l1 .3l1 0l1 0l1-.9l1 0l1 0l1 .6l1 .1l1 0l1 .3l1 0l1 0l1-.2l1 0l1 0l1-.8l1 0l1 0l1 .6l1 0l1 0l1-.4l1 0l1 0l1-.1l1 0l1 0l1-.2l1 0l1 0l1 .6l1 0l1 0l1 .5l1 0l1 0l1-1l1 0l1 0l1 0l1 0l1 0l1 .3l1 0l1 0l1-.4l1 0l1 0l1 .5l1 0l1 0l1 .4l1 0l1 0l1-.4l1 0l1 0l1-.5l1 0l1 0l1 0l1 0l1 0l1 .2l1 0l1 0l1 .6l1 0l1 0l1 .3l1 0l1 0l1-.5l1 0l1 0l1-.5l1 0l1 0l1 .2l1 0l1 0l1 .2l1 0l1 0l1-.3l1 0l1 0l1 0l1 0l1 0l1 .3l1 0l1 0l1 .5l1 0l1 0l1-.7l1 0l1 0l1 .8l1 0l1 0l1 0l1 0l1 0l1-.6l1 0l1 0l1-.2l1 0l1 0l1-.1l1 0l1 0l1 .6l1 0l1 0l1 .2l1 0l1 0l1 0l1 0l1 0l1-.8l1 0l1-.1l1 .3l1-.1l1 0l1-.6l1 0l1-.2l1 .2l1-.2l1-.3l1-.4l1-.5l1-.6l1-.8l1-.8l1-.7l1-.8l1-.6l1-.5l1 1l1 .1l1 .5l1-.2l1 .7l1 .8l1 .9l1 .7l1 .6l1 .5l1 .4l1 .3l1 .2l1 .1l1 .1l1 .3l1 0l1 .1l1-.1l1 0l1 .1l1 0l1 0l1 0l1-.5l1 0l1 0l1 .7l1 0l1 0l1 .1l1 0l1 0l1 .1l1 0l1 0l1-.5l1 0l1 0l1 .2l1 0l1 0l1 .4l1 0l1 0l1-.1l1 0l1 0l1-.8l1 0l1 0l1 .4l1 0l1 0l1-.2l1 0l1 0l1 .6l1 0l1 0l1-.3l1 0l1 0l1 0l1 0l1 0l1-.2l1 0l1 0l1 .2l1 0l1 .1l1 .3l1 0l1 0l1-.1l1 0l1 0l1-.5l1 0l1 0l1 .2l1 0l1 0l1 .3l1 0l1 0l1-.7l1 0l1 0l1 1l1 0l1 0l1-1l1 0l1 0l1 .7l1 0l1 0l1-.6l1 0l1 0l1 1l1 0l1 0l1-.3l1 0l1 0l1-.6l1 0l1 0l1 .4l1 0l1 0l1 .4l1 0l1 0l1 0l1 0l1 0l1-.2l1 0l1 0l1-.1l1 0l1 0l1 .2l1 0l1 0l1 .2l1 0l1 0l1-.5l1 0l1 0l1 .1l1 0l1 0l1 .2l1 0l1 0l1-.3l1 0l1 0l1-.4l1 0l1 0l1 .5l1 0l1 0l1-.3l1 0l1 0l1 .4l1 0l1 0l1 0l1 0l1 0l1 .2l1 0l1 0l1-1l1 0l1 0l1-.2l1 0l1 0l1 1l1 0l1 0l1-.3l1-.1l1 0l1 .2l1 0l1-.1l1-.3l1 0l1-.1l1 .1l1-.1l1 0l1-1.1l1 0l1-.1l1 0l1-.1l1-.1l1 .5l1-.1l1 0l1 .1l1 0l1-.1l1-.9l1-.1l1-.2l1 .8l1-.4l1-.6l1-2.3l1-3.6l1-8.9l1-17.1l1-21.9l1-11.9l1 10.9l1 19l1 10.9l1-1.1l1-5.4l1 1.4l1 9.6l1 10.1l1 6.4l1 2.9l1 1.2l1 .6l1 .3l1 .2l1 .2l1 .3l1 .1l1 .1l1 .7l1 .1l1 0l1 .2l1 0l1 .1l1 0l1 0l1 0l1-.4l1 0l1 .1l1 .4l1 0l1 0l1-.7l1 0l1 0l1 .9l1 0l1 0l1-.5l1 0l1 0l1-.4l1 0l1 0l1 .4l1 0l1 0l1-.3l1 .1l1 0l1 .6l1 0l1 0l1-.4l1 0l1 0l1-.4l1 0l1 0l1 .2l1 0l1 0l1-.1l1 0l1 0l1 1l1 0l1 0l1-.6l1 0l1 0l1 .4l1 0l1 0l1-.2l1 0l1 0l1-.2l1 0l1 0l1 .4l1 0l1 0l1-.2l1 0l1 0l1-.6l1 0l1 0l1 1.1l1 0l1 0l1-.7l1 0l1 0l1 .3l1 0l1 0l1-.3l1 0l1 0l1 .7l1 0l1 0l1-.9l1 0l1 0l1-.2l1 0l1 0l1 0l1 0l1 0l1 .4l1 0l1 0l1 .6l1 0l1 0l1-.5l1 0l1 0l1 .6l1 0l1 0l1-1l1 0l1 0l1 1l1 0l1 0l1-.9l1 0l1 0l1 .8l1 0l1 0l1-.8l1 0l1 0l1 .5l1 0l1 0l1 0l1 0l1 0l1 .4l1 0l1 0l1-.6l1 0l1 0l1 .5l1 0l1 0l1-1l1 0l1 0l1 1.1l1-.1l1 0l1-.4l1 0l1 0l1 0l1 0l1 0l1 .5l1 0l1 0l1-.8l1 0l1 0l1 .3l1 0l1 0l1 0l1-.1l1 0l1-.3l1-.1l1 0l1-.2l1 0l1-.1l1 .3l1-.1l1 0l1-.3l1-.1l1-.1l1 .3l1-.2l1-.3l1-.5l1-.4l1-.6l1-1.3l1-1.7l1-4.3l1-10.2l1-22.2l1-31.3l1-22l1 9.2l1 27.3l1 18.7l1 1.5l1-9.1l1-3.2l1 12l1 16.2l1 11.5l1 5.7l1 2.4l1 1.7l1 .6l1 .4l1-.4l1 .2l1 .2l1 .5l1 .1l1 .1l1-.7l1 0l1 .1l1 .9l1 0l1 .1l1 .1l1 0l1 .1l1-.8l1 0l1 .1l1 0l1 0l1 .1l1 .4l1 0l1 0l1 .4l1 0l1 0l1-.2l1 0l1 0l1-.9l1 0l1 0l1 .1l1 0l1 .1l1 .9l1 0l1 0l1-.6l1 0l1 0l1 .7l1 0l1 0l1-.6l1 0l1 0l1 .5l1 0l1 0l1-.8l1 0l1 0l1 .9l1 0l1 .1l1-.6l1 0l1 0l1-.6l1 0l1 0l1 .2l1 .1l1 0l1-.2l1 0l1 0l1 .4l1 0l1 0l1 .7l1 0l1 0l1 0l1 0l1 0l1 0l1 0l1 0l1-.7l1 0l1 0l1 .5l1 0l1 0l1 0l1 0l1 0l1 .1l1 0l1 0l1 .1l1 0l1 0l1-.1l1 0l1 0l1-.1l1 0l1 0l1-.5l1 0l1 0l1-.2l1 0l1 0l1 .3l1 0l1 0l1-.1l1 0l1 0l1 .5l1 0l1 0l1-.7l1 0l1 0l1 .1l1 0l1 0l1 .6l1 0l1 0l1-.8l1 0l1 0l1 0l1 0l1 0l1-.1l1 0l1 0l1 .1l1 0l1 0l1 .1l1 0l1 0l1 .7l1 0l1 0l1-.5l1 0l1 0l1-.2l1 0l1 0l1 .5l1 0l1 0l1-.2l1 0l1 0l1-.4l1 0l1 0l1 .1l1 0l1 0l1 .2l1 0l1 0l1 .2l1 0l1 0l1-.4l1 0l1 0l1 .4l1 0l1 0l1 .1l1 0l1 0l1 .5l1 0l1 0l1-.4l1 0l1 0l1-.3l1 0l1 0l1-.1l1 0l1 0l1-.1l1 0l1 .1l1 .2l1 0l1 0l1 .7l1 0l1 0l1 0l1 0l1 0l1-1l1 0l1 0l1 .6l1 0l1 0l1 .2l1 0l1 0l1 .2l1 0l1 0l1-.2l1 0l1 0l1-.2l1 0l1 0l1-.6l1 0l1 0l1 .2l1 0l1 0l1 .8l1 0l1 0l1 0l1 0l1 0l1 0l1 0l1 0l1-.7l1 0l1 0l1 .5l1 0l1 0l1 0l1 0l1 0l1-.4l1 0l1 0l1-.1l1 0l1 0l1 .2l1 0l1 0l1 .1l1 0l1 0l1-.7l1 0l1 0l1 .1l1 0l1 0l1 1.1l1 0l1 0l1-.7l1 0l1 0l1 0l1 0l1 0l1 .2l1 .1l1 0l1-.1l1 0l1 0l1 .2l1 0l1 0l1-.2l1 0l1 0l1-.6l1 0l1 0l1 0l1 0l1 0l1 .3l1 0l1 0l1 .1l1 0l1 0l1 .8l1 0l1 0l1-.6l1 0l1 0l1-.5l1 0l1 0l1 .9l1 0l1 0l1-.6l1 0l1 0l1 .1l1 0l1 0l1 .3l1 0l1 0l1 .1l1 0l1 0l1-.6l1 0l1 0l1 .2l1 0l1 0l1-.5l1 0l1 0l1 1.1l1 0l1 0l1 0l1 0l1 0l1-.1l1 0l1 0l1-.8l1 0l1 0l1 .6l1 0l1 0l1-.3l1 0l1 0l1-.3l1 0l1 0l1 0l1 0l1 0l1 .8l1 0l1 0l1-.3l1 0l1-.1l1 0l1 0l1 0l1-.6l1 0l1-.1l1 .5l1 0l1-.1l1 .3l1 0l1-.1l1-.9l1 0l1-.1l1 0l1-.1l1-.1l1 .8l1-.1l1-.1l1-.8l1-.1l1 0l1 .1l1 0l1 0l1 .5l1 0l1 0l1-.2l1 .1l1 0l1-.4l1 0l1 .1l1 .1l1 .1l1 .1l1-.1l1 .1l1 .1l1-.2l1 .1l1 0l1 .7l1 0l1 .1l1-.4l1 0l1 .1l1 .2l1 0l1 0l1 .7l1 .1l1 0l1-.8l1 0l1 0l1-.1l1 .1l1 0l1-.1l1 .1l1 0l1 .7l1 0l1 0l1-.5l1 0l1 0l1 .1l1 0l1 0l1 .3l1 0l1 0l1 .2l1 0l1 0l1 .3l1 0l1 0l1-1.1l1 0l1 0l1 .4l1 0l1 0l1-.4l1 0l1 0l1 .4l1 0l1 0l1 .4l1 0l1 0l1-.4l1 0l1 0l1 .1l1 0l1 0l1-.1l1 0l1 0l1 .8l1 0l1 0l1-.2l1 0l1 0l1 .1l1 0l1 0l1-.3l1 0l1 0l1 .3l1 0l1 0l1-.3l1 0l1 0l1-.6l1 0l1 0l1 0l1 0l1 0l1 1l1 0l1 0l1-.5l1 0l1 0l1 .3l1 0l1 0l1-.3l1 0l1 0l1 .4l1 .1l1 0l1-.9l1 0l1 0l1 0l1 0l1 0l1 0l1 0l1 0l1 .7l1 0l1 0l1-.2l1 0l1 0l1-.1l1 0l1 0l1-.4l1 0l1 0l1 .3l1 0l1 0l1-.2l1 0l1 0l1-.2l1 0l1 0l1 1l1 0l1 0l1-.2l1 0l1 0l1 0l1 0l1 0l1-.5l1 0l1 0l1 .6l1 0l1 0l1-.1l1 0l1 0l1-.6l1 0l1-.1l1 .9l1 0l1 0l1-.2l1 0l1 0l1-.9l1 0l1 0l1 .1l1 0l1 0l1 0l1 0l1 0l1 .7l1 0l1 0l1-.7l1 0l1 0l1 0l1 0l1 0l1-.1l1 0l1 0l1 .5l1 0l1 0l1-.2l1 0l1 0l1 .3l1 0l1 0l1-.4l1 0l1 0l1 .6l1 0l1 0l1-.1l1 0l1 0l1-.3l1 0l1 0l1 .7l1 0l1 0l1-.5l1 0l1 0l1 0l1 0l1 0l1-.4l1 0l1 0l1 .1l1-.1l1 0l1 .5l1 0l1 0l1-.4l1 0l1 0l1-.3l1 0l1-.1l1 .4l1 0l1 0l1 0l1 0l1 0l1-.5l1 0l1 0l1 0l1 0l1-.1l1 .7l1-.1l1-.2l1-.4l1-.4l1-.9l1-2.7l1-5.5l1-10.6l1-13.1l1-7.2l1 6.9l1 12.9l1 9.4l1 2.9l1-3.4l1-5.6l1-3l1 4.1l1 6.6l1 5.1l1 2.2l1 1.1l1 .5l1 .9l1 .1l1 .1l1 0l1 .1l1 0l1-.4l1 0l1 0l1 .5l1 .1l1 0l1-.3l1 0l1 0l1 .5l1 0l1 0l1 .4l1 0l1 0l1-.2l1 0l1 0l1-.9l1 0l1 0l1 .7l1 0l1 0l1-.1l1 0l1 0l1 .5l1 0l1 0l1-.8l1 0l1 0l1-.2l1 0l1 0l1 .3l1 0l1 0l1 0l1 0l1 0l1 .6l1 0l1 0l1 .1l1 0l1 0l1-.4l1 0l1 0l1 .2l1 0l1 0l1-.4l1 0l1 0l1-.2l1 0l1 0l1 .2l1 0l1 0l1 .3l1 0l1 0l1-.4l1 0l1 0l1 .6l1 0l1 0l1-.5l1 0l1 0l1-.3l1 0l1 0l1 .3l1 0l1 0l1 .4l1 0l1-.1l1-.6l1-.1l1 0l1-.1l1-.1l1 0l1 .1l1 0l1-.1l1 .6l1-.1l1 .1l1-.2l1 0l1 .1l1-.1l1 .1l1 .1l1-.6l1 .1l1 0l1 .5l1 .1l1 0l1 .1l1 0l1 0l1-.4l1 0l1 0l1 .3l1 0l1 0l1-.4l1 0l1 0l1 .9l1 0l1 0l1-.3l1 0l1 0l1-.1l1 .1l1 0l1 .2l1 0l1 0l1-.1l1 0l1 0l1-.5l1 0l1 0l1 .3l1 0l1 0l1-.6l1 0l1 0l1 .7l1 0l1 0l1-.4l1 0l1 0l1 .2l1 0l1 0l1 .4l1 0l1 0l1-.7l1 0l1 0l1-.1l1 0l1 0l1 .7l1 0l1 0l1-.6l1 0l1 0l1 .8l1 0l1 0l1 0l1 0l1 0l1-.9l1 0l1 0l1 .4l1 0l1 0l1 .5l1 0l1 0l1-.4l1 0l1 0l1 0l1 0l1 0l1-.6l1 0l1 0l1 .4l1 0l1 0l1 .4l1 0l1 0l1-.9l1 0l1 0l1 .8l1 0l1 0l1-.5l1 0l1 0l1 0l1 0l1 0l1 .7l1 0l1 0l1-.6l1 0l1 0l1 .2l1 0l1 0l1 .5l1 0l1 0l1-.8l1 0l1 0l1 .8l1 0l1 0l1-.8l1 0l1 0l1 .4l1 0l1 0l1-.7l1 0l1 0l1 1.1l1 0l1 0l1-.6l1 0l1 0l1 0l1 0l1 0l1 .6l1 0l1 0l1-.7l1 0l1 0l1-.4l1 0l1 0l1 .3l1 0l1 0l1-.3l1 0l1 0l1 0l1 0l1 0l1 1l1 0l1 0l1-.1l1 0l1 0l1-.1l1 0l1 0l1-.1l1 0l1 0l1-.3l1 0l1 0l1 .2l1 0l1 0l1-.3l1 0l1 0l1 .4l1 0l1 0l1 .2l1 0l1 0l1-.5l1 0l1 0l1-.2l1 0l1 0l1 .1l1 0l1 0l1-.1l1 0l1 0l1 .8l1 0l1 0l1-.1l1 0l1 0l1-.6l1 0l1 0l1-.3l1 0l1 0l1 .5l1 0l1 0l1 .3l1 0l1 0l1-.5l1 0l1 0l1 .5l1 0l1 0l1-.4l1 0l1 0l1-.3l1 0l1 0l1 .8l1 0l1 0l1-.1l1 0l1 0l1-.4l1 0l1 0l1 .3l1 0l1 0l1-.4l1 0l1 0l1 .5l1 0l1 0l1-.1l1 0l1 0l1-.1l1 0l1 0l1-.4l1 0l1 0l1 .4l1 0l1 0l1-.4l1 0l1 0l1 .8l1 0l1 0l1-.5l1 0l1 0l1 .3l1 0l1 0l1-.9l1 0l1 0l1 .1l1 0l1 0l1 .2l1 0l1 0l1-.2l1 0l1 0l1 .2l1 0l1 0l1 .2l1 0l1-.1l1 .2l1-.1l1-.2l1-1l1-.5l1-1l1-.9l1-2.3l1-2.7l1-3.1l1-1l1 1l1 3.2l1 2.7l1 2.3l1 1.7l1 .9l1 .6l1 0l1 .2l1 .1l1-.4l1 0l1 .1l1 0l1 0l1 0l1 .5l1 0l1 0l1 .2l1 0l1 0l1-.9l1 0l1 0l1 .2l1 0l1 0l1 .8l1 0l1 0l1-.1l1 0l1 0l1-.7l1 0l1 0l1-.1l1 0l1 0l1-.1l1 0l1 0l1 .3l1 0l1 0l1 .7l1 0l1 0l1-.4l1 0l1 0l1-.4l1 0l1 0l1-.1l1 0l1 0l1 0l1 0l1 0l1 .3l1 0l1 0l1-.3l1 0l1 0l1 0l1 0l1 0l1 .5l1 0l1 0l1-.5l1 0l1 0l1-.1l1 0l1 0l1 0l1 0l1 0l1 .9l1 0l1 0l1-.2l1 0l1 0l1-.8l1 0l1 0l1 1.2l1 0l1 0l1-.1l1 0l1 0l1-1.1l1 0l1 0l1 1.1l1 0l1 0l1-1.1l1 0l1 0l1 .3l1 0l1 0l1-.1l1 0l1-.1l1 .6l1 0l1-.1l1 .2l1 0l1 0l1-.6l1 0l1 0l1 .4l1 0l1 0l1 .2l1-.1l1-.1l1-1l1-.4l1-.8l1-1.3l1-2l1-2l1-.3l1 1l1 2l1 1.1l1 1.4l1 .8l1 .8l1 .1l1 .1l1 0l1 .1l1 0l1 .4l1 0l1 0l1-.6l1 0l1 0l1 0l1 0l1 0l1 .7l1 0l1 0l1 .2l1 0l1 0l1-.8l1 0l1 0l1 .6l1 0l1 0l1-.4l1 0l1 0l1 .7l1 0l1 0l1-.2l1 0l1 0l1 0l1 0l1 0l1-.5l1 0l1 0l1 .3l1 0l1 0l1 .6l1 0l1 0l1-.6l1 0l1 0l1 .2l1 0l1 0l1 .1l1 0l1 0l1-.6l1 0l1 0l1 .1l1 0l1 0l1 .8l1 0l1 0l1-.4l1 0l1 0l1-.6l1 0l1 0l1 .4l1 0l1 0l1-.2l1 0l1 0l1 .4l1 0l1 0" stroke="#880000" stroke-width="11.0" stroke-opacity="0.22"/><path d="M199,1261.2l1 0l1 0l1 .2l1 0l1 0l1-.1l1 0l1 0l1 0l1 0l1 0l1 0l1 0l1 0l1 .3l1 0l1 0l1-.5l1 0l1 0l1 .5l1 0l1 0l1-.8l1 0l1 0l1 .4l1 0l1 0l1 0l1 0l1 0l1-.2l1 0l1 0l1 .7l1 0l1 0l1-.5l1 0l1 0l1 .6l1 0l1 0l1 .2l1 0l1 0l1-.8l1 0l1 0l1 .7l1 0l1 0l1-.1l1 0l1 0l1-.1l1 0l1 0l1-.8l1 0l1 0l1 .5l1 0l1 0l1 .2l1 0l1 0l1-.4l1 0l1 0l1 0l1 0l1 0l1 .1l1 0l1 0l1-.1l1 0l1 0l1 .6l1 0l1 0l1-.5l1 0l1 0l1 .1l1 0l1 0l1 .3l1 0l1 0l1 .3l1 0l1 0l1-.8l1 0l1 0l1-.3l1-.1l1 0l1 .9l1-.2l1-.4l1-.6l1-.5l1-.3l1 0l1 .4l1 .5l1 .1l1 .4l1 .2l1-.3l1 0l1 0l1-.1l1-.1l1-.1l1 .1l1-.2l1-.2l1 .1l1 0l1 0l1-.3l1 .1l1 .2l1 .9l1 .2l1 0l1 .1l1 .1l1 0l1-.9l1 .1l1 0l1 1l1 0l1 0l1-.4l1 0l1 0l1 .5l1 0l1 0l1-.6l1 0l1 0l1 .4l1 0l1 0l1-.4l1 0l1 0l1 .1l1 0l1 0l1-.1l1 0l1 0l1-.5l1 0l1 0l1 .1l1 .1l1 0l1 .1l1 0l1 0l1 .2l1 0l1 0l1 0l1 0l1 0l1 .2l1 0l1 0l1 .1l1 0l1 0l1-.3l1 0l1 0l1-.1l1 0l1 0l1 .3l1 0l1 0l1 .5l1 0l1 0l1-.2l1 0l1 0l1-.1l1 0l1 0l1 .2l1 0l1 0l1-.7l1 0l1 0l1-.2l1 0l1 0l1 0l1 0l1 0l1 0l1 .1l1 0l1-.2l1 0l1 0l1 .8l1 0l1 0l1 .3l1 0l1 0l1-.9l1 0l1 0l1 .6l1 .1l1 0l1 .3l1 0l1 0l1-.2l1 0l1 0l1-.8l1 0l1 0l1 .6l1 0l1 0l1-.4l1 0l1 0l1-.1l1 0l1 0l1-.2l1 0l1 0l1 .6l1 0l1 0l1 .5l1 0l1 0l1-1l1 0l1 0l1 0l1 0l1 0l1 .3l1 0l1 0l1-.4l1 0l1 0l1 .5l1 0l1 0l1 .4l1 0l1 0l1-.4l1 0l1 0l1-.5l1 0l1 0l1 0l1 0l1 0l1 .2l1 0l1 0l1 .6l1 0l1 0l1 .3l1 0l1 0l1-.5l1 0l1 0l1-.5l1 0l1 0l1 .2l1 0l1 0l1 .2l1 0l1 0l1-.3l1 0l1 0l1 0l1 0l1 0l1 .3l1 0l1 0l1 .5l1 0l1 0l1-.7l1 0l1 0l1 .8l1 0l1 0l1 0l1 0l1 0l1-.6l1 0l1 0l1-.2l1 0l1 0l1-.1l1 0l1 0l1 .6l1 0l1 0l1 .2l1 0l1 0l1 0l1 0l1 0l1-.8l1 0l1-.1l1 .3l1-.1l1 0l1-.6l1 0l1-.2l1 .2l1-.2l1-.3l1-.4l1-.5l1-.6l1-.8l1-.8l1-.7l1-.8l1-.6l1-.5l1 1l1 .1l1 .5l1-.2l1 .7l1 .8l1 .9l1 .7l1 .6l1 .5l1 .4l1 .3l1 .2l1 .1l1 .1l1 .3l1 0l1 .1l1-.1l1 0l1 .1l1 0l1 0l1 0l1-.5l1 0l1 0l1 .7l1 0l1 0l1 .1l1 0l1 0l1 .1l1 0l1 0l1-.5l1 0l1 0l1 .2l1 0l1 0l1 .4l1 0l1 0l1-.1l1 0l1 0l1-.8l1 0l1 0l1 .4l1 0l1 0l1-.2l1 0l1 0l1 .6l1 0l1 0l1-.3l1 0l1 0l1 0l1 0l1 0l1-.2l1 0l1 0l1 .2l1 0l1 .1l1 .3l1 0l1 0l1-.1l1 0l1 0l1-.5l1 0l1 0l1 .2l1 0l1 0l1 .3l1 0l1 0l1-.7l1 0l1 0l1 1l1 0l1 0l1-1l1 0l1 0l1 .7l1 0l1 0l1-.6l1 0l1 0l1 1l1 0l1 0l1-.3l1 0l1 0l1-.6l1 0l1 0l1 .4l1 0l1 0l1 .4l1 0l1 0l1 0l1 0l1 0l1-.2l1 0l1 0l1-.1l1 0l1 0l1 .2l1 0l1 0l1 .2l1 0l1 0l1-.5l1 0l1 0l1 .1l1 0l1 0l1 .2l1 0l1 0l1-.3l1 0l1 0l1-.4l1 0l1 0l1 .5l1 0l1 0l1-.3l1 0l1 0l1 .4l1 0l1 0l1 0l1 0l1 0l1 .2l1 0l1 0l1-1l1 0l1 0l1-.2l1 0l1 0l1 1l1 0l1 0l1-.3l1-.1l1 0l1 .2l1 0l1-.1l1-.3l1 0l1-.1l1 .1l1-.1l1 0l1-1.1l1 0l1-.1l1 0l1-.1l1-.1l1 .5l1-.1l1 0l1 .1l1 0l1-.1l1-.9l1-.1l1-.2l1 .8l1-.4l1-.6l1-2.3l1-3.6l1-8.9l1-17.1l1-21.9l1-11.9l1 10.9l1 19l1 10.9l1-1.1l1-5.4l1 1.4l1 9.6l1 10.1l1 6.4l1 2.9l1 1.2l1 .6l1 .3l1 .2l1 .2l1 .3l1 .1l1 .1l1 .7l1 .1l1 0l1 .2l1 0l1 .1l1 0l1 0l1 0l1-.4l1 0l1 .1l1 .4l1 0l1 0l1-.7l1 0l1 0l1 .9l1 0l1 0l1-.5l1 0l1 0l1-.4l1 0l1 0l1 .4l1 0l1 0l1-.3l1 .1l1 0l1 .6l1 0l1 0l1-.4l1 0l1 0l1-.4l1 0l1 0l1 .2l1 0l1 0l1-.1l1 0l1 0l1 1l1 0l1 0l1-.6l1 0l1 0l1 .4l1 0l1 0l1-.2l1 0l1 0l1-.2l1 0l1 0l1 .4l1 0l1 0l1-.2l1 0l1 0l1-.6l1 0l1 0l1 1.1l1 0l1 0l1-.7l1 0l1 0l1 .3l1 0l1 0l1-.3l1 0l1 0l1 .7l1 0l1 0l1-.9l1 0l1 0l1-.2l1 0l1 0l1 0l1 0l1 0l1 .4l1 0l1 0l1 .6l1 0l1 0l1-.5l1 0l1 0l1 .6l1 0l1 0l1-1l1 0l1 0l1 1l1 0l1 0l1-.9l1 0l1 0l1 .8l1 0l1 0l1-.8l1 0l1 0l1 .5l1 0l1 0l1 0l1 0l1 0l1 .4l1 0l1 0l1-.6l1 0l1 0l1 .5l1 0l1 0l1-1l1 0l1 0l1 1.1l1-.1l1 0l1-.4l1 0l1 0l1 0l1 0l1 0l1 .5l1 0l1 0l1-.8l1 0l1 0l1 .3l1 0l1 0l1 0l1-.1l1 0l1-.3l1-.1l1 0l1-.2l1 0l1-.1l1 .3l1-.1l1 0l1-.3l1-.1l1-.1l1 .3l1-.2l1-.3l1-.5l1-.4l1-.6l1-1.3l1-1.7l1-4.3l1-10.2l1-22.2l1-31.3l1-22l1 9.2l1 27.3l1 18.7l1 1.5l1-9.1l1-3.2l1 12l1 16.2l1 11.5l1 5.7l1 2.4l1 1.7l1 .6l1 .4l1-.4l1 .2l1 .2l1 .5l1 .1l1 .1l1-.7l1 0l1 .1l1 .9l1 0l1 .1l1 .1l1 0l1 .1l1-.8l1 0l1 .1l1 0l1 0l1 .1l1 .4l1 0l1 0l1 .4l1 0l1 0l1-.2l1 0l1 0l1-.9l1 0l1 0l1 .1l1 0l1 .1l1 .9l1 0l1 0l1-.6l1 0l1 0l1 .7l1 0l1 0l1-.6l1 0l1 0l1 .5l1 0l1 0l1-.8l1 0l1 0l1 .9l1 0l1 .1l1-.6l1 0l1 0l1-.6l1 0l1 0l1 .2l1 .1l1 0l1-.2l1 0l1 0l1 .4l1 0l1 0l1 .7l1 0l1 0l1 0l1 0l1 0l1 0l1 0l1 0l1-.7l1 0l1 0l1 .5l1 0l1 0l1 0l1 0l1 0l1 .1l1 0l1 0l1 .1l1 0l1 0l1-.1l1 0l1 0l1-.1l1 0l1 0l1-.5l1 0l1 0l1-.2l1 0l1 0l1 .3l1 0l1 0l1-.1l1 0l1 0l1 .5l1 0l1 0l1-.7l1 0l1 0l1 .1l1 0l1 0l1 .6l1 0l1 0l1-.8l1 0l1 0l1 0l1 0l1 0l1-.1l1 0l1 0l1 .1l1 0l1 0l1 .1l1 0l1 0l1 .7l1 0l1 0l1-.5l1 0l1 0l1-.2l1 0l1 0l1 .5l1 0l1 0l1-.2l1 0l1 0l1-.4l1 0l1 0l1 .1l1 0l1 0l1 .2l1 0l1 0l1 .2l1 0l1 0l1-.4l1 0l1 0l1 .4l1 0l1 0l1 .1l1 0l1 0l1 .5l1 0l1 0l1-.4l1 0l1 0l1-.3l1 0l1 0l1-.1l1 0l1 0l1-.1l1 0l1 .1l1 .2l1 0l1 0l1 .7l1 0l1 0l1 0l1 0l1 0l1-1l1 0l1 0l1 .6l1 0l1 0l1 .2l1 0l1 0l1 .2l1 0l1 0l1-.2l1 0l1 0l1-.2l1 0l1 0l1-.6l1 0l1 0l1 .2l1 0l1 0l1 .8l1 0l1 0l1 0l1 0l1 0l1 0l1 0l1 0l1-.7l1 0l1 0l1 .5l1 0l1 0l1 0l1 0l1 0l1-.4l1 0l1 0l1-.1l1 0l1 0l1 .2l1 0l1 0l1 .1l1 0l1 0l1-.7l1 0l1 0l1 .1l1 0l1 0l1 1.1l1 0l1 0l1-.7l1 0l1 0l1 0l1 0l1 0l1 .2l1 .1l1 0l1-.1l1 0l1 0l1 .2l1 0l1 0l1-.2l1 0l1 0l1-.6l1 0l1 0l1 0l1 0l1 0l1 .3l1 0l1 0l1 .1l1 0l1 0l1 .8l1 0l1 0l1-.6l1 0l1 0l1-.5l1 0l1 0l1 .9l1 0l1 0l1-.6l1 0l1 0l1 .1l1 0l1 0l1 .3l1 0l1 0l1 .1l1 0l1 0l1-.6l1 0l1 0l1 .2l1 0l1 0l1-.5l1 0l1 0l1 1.1l1 0l1 0l1 0l1 0l1 0l1-.1l1 0l1 0l1-.8l1 0l1 0l1 .6l1 0l1 0l1-.3l1 0l1 0l1-.3l1 0l1 0l1 0l1 0l1 0l1 .8l1 0l1 0l1-.3l1 0l1-.1l1 0l1 0l1 0l1-.6l1 0l1-.1l1 .5l1 0l1-.1l1 .3l1 0l1-.1l1-.9l1 0l1-.1l1 0l1-.1l1-.1l1 .8l1-.1l1-.1l1-.8l1-.1l1 0l1 .1l1 0l1 0l1 .5l1 0l1 0l1-.2l1 .1l1 0l1-.4l1 0l1 .1l1 .1l1 .1l1 .1l1-.1l1 .1l1 .1l1-.2l1 .1l1 0l1 .7l1 0l1 .1l1-.4l1 0l1 .1l1 .2l1 0l1 0l1 .7l1 .1l1 0l1-.8l1 0l1 0l1-.1l1 .1l1 0l1-.1l1 .1l1 0l1 .7l1 0l1 0l1-.5l1 0l1 0l1 .1l1 0l1 0l1 .3l1 0l1 0l1 .2l1 0l1 0l1 .3l1 0l1 0l1-1.1l1 0l1 0l1 .4l1 0l1 0l1-.4l1 0l1 0l1 .4l1 0l1 0l1 .4l1 0l1 0l1-.4l1 0l1 0l1 .1l1 0l1 0l1-.1l1 0l1 0l1 .8l1 0l1 0l1-.2l1 0l1 0l1 .1l1 0l1 0l1-.3l1 0l1 0l1 .3l1 0l1 0l1-.3l1 0l1 0l1-.6l1 0l1 0l1 0l1 0l1 0l1 1l1 0l1 0l1-.5l1 0l1 0l1 .3l1 0l1 0l1-.3l1 0l1 0l1 .4l1 .1l1 0l1-.9l1 0l1 0l1 0l1 0l1 0l1 0l1 0l1 0l1 .7l1 0l1 0l1-.2l1 0l1 0l1-.1l1 0l1 0l1-.4l1 0l1 0l1 .3l1 0l1 0l1-.2l1 0l1 0l1-.2l1 0l1 0l1 1l1 0l1 0l1-.2l1 0l1 0l1 0l1 0l1 0l1-.5l1 0l1 0l1 .6l1 0l1 0l1-.1l1 0l1 0l1-.6l1 0l1-.1l1 .9l1 0l1 0l1-.2l1 0l1 0l1-.9l1 0l1 0l1 .1l1 0l1 0l1 0l1 0l1 0l1 .7l1 0l1 0l1-.7l1 0l1 0l1 0l1 0l1 0l1-.1l1 0l1 0l1 .5l1 0l1 0l1-.2l1 0l1 0l1 .3l1 0l1 0l1-.4l1 0l1 0l1 .6l1 0l1 0l1-.1l1 0l1 0l1-.3l1 0l1 0l1 .7l1 0l1 0l1-.5l1 0l1 0l1 0l1 0l1 0l1-.4l1 0l1 0l1 .1l1-.1l1 0l1 .5l1 0l1 0l1-.4l1 0l1 0l1-.3l1 0l1-.1l1 .4l1 0l1 0l1 0l1 0l1 0l1-.5l1 0l1 0l1 0l1 0l1-.1l1 .7l1-.1l1-.2l1-.4l1-.4l1-.9l1-2.7l1-5.5l1-10.6l1-13.1l1-7.2l1 6.9l1 12.9l1 9.4l1 2.9l1-3.4l1-5.6l1-3l1 4.1l1 6.6l1 5.1l1 2.2l1 1.1l1 .5l1 .9l1 .1l1 .1l1 0l1 .1l1 0l1-.4l1 0l1 0l1 .5l1 .1l1 0l1-.3l1 0l1 0l1 .5l1 0l1 0l1 .4l1 0l1 0l1-.2l1 0l1 0l1-.9l1 0l1 0l1 .7l1 0l1 0l1-.1l1 0l1 0l1 .5l1 0l1 0l1-.8l1 0l1 0l1-.2l1 0l1 0l1 .3l1 0l1 0l1 0l1 0l1 0l1 .6l1 0l1 0l1 .1l1 0l1 0l1-.4l1 0l1 0l1 .2l1 0l1 0l1-.4l1 0l1 0l1-.2l1 0l1 0l1 .2l1 0l1 0l1 .3l1 0l1 0l1-.4l1 0l1 0l1 .6l1 0l1 0l1-.5l1 0l1 0l1-.3l1 0l1 0l1 .3l1 0l1 0l1 .4l1 0l1-.1l1-.6l1-.1l1 0l1-.1l1-.1l1 0l1 .1l1 0l1-.1l1 .6l1-.1l1 .1l1-.2l1 0l1 .1l1-.1l1 .1l1 .1l1-.6l1 .1l1 0l1 .5l1 .1l1 0l1 .1l1 0l1 0l1-.4l1 0l1 0l1 .3l1 0l1 0l1-.4l1 0l1 0l1 .9l1 0l1 0l1-.3l1 0l1 0l1-.1l1 .1l1 0l1 .2l1 0l1 0l1-.1l1 0l1 0l1-.5l1 0l1 0l1 .3l1 0l1 0l1-.6l1 0l1 0l1 .7l1 0l1 0l1-.4l1 0l1 0l1 .2l1 0l1 0l1 .4l1 0l1 0l1-.7l1 0l1 0l1-.1l1 0l1 0l1 .7l1 0l1 0l1-.6l1 0l1 0l1 .8l1 0l1 0l1 0l1 0l1 0l1-.9l1 0l1 0l1 .4l1 0l1 0l1 .5l1 0l1 0l1-.4l1 0l1 0l1 0l1 0l1 0l1-.6l1 0l1 0l1 .4l1 0l1 0l1 .4l1 0l1 0l1-.9l1 0l1 0l1 .8l1 0l1 0l1-.5l1 0l1 0l1 0l1 0l1 0l1 .7l1 0l1 0l1-.6l1 0l1 0l1 .2l1 0l1 0l1 .5l1 0l1 0l1-.8l1 0l1 0l1 .8l1 0l1 0l1-.8l1 0l1 0l1 .4l1 0l1 0l1-.7l1 0l1 0l1 1.1l1 0l1 0l1-.6l1 0l1 0l1 0l1 0l1 0l1 .6l1 0l1 0l1-.7l1 0l1 0l1-.4l1 0l1 0l1 .3l1 0l1 0l1-.3l1 0l1 0l1 0l1 0l1 0l1 1l1 0l1 0l1-.1l1 0l1 0l1-.1l1 0l1 0l1-.1l1 0l1 0l1-.3l1 0l1 0l1 .2l1 0l1 0l1-.3l1 0l1 0l1 .4l1 0l1 0l1 .2l1 0l1 0l1-.5l1 0l1 0l1-.2l1 0l1 0l1 .1l1 0l1 0l1-.1l1 0l1 0l1 .8l1 0l1 0l1-.1l1 0l1 0l1-.6l1 0l1 0l1-.3l1 0l1 0l1 .5l1 0l1 0l1 .3l1 0l1 0l1-.5l1 0l1 0l1 .5l1 0l1 0l1-.4l1 0l1 0l1-.3l1 0l1 0l1 .8l1 0l1 0l1-.1l1 0l1 0l1-.4l1 0l1 0l1 .3l1 0l1 0l1-.4l1 0l1 0l1 .5l1 0l1 0l1-.1l1 0l1 0l1-.1l1 0l1 0l1-.4l1 0l1 0l1 .4l1 0l1 0l1-.4l1 0l1 0l1 .8l1 0l1 0l1-.5l1 0l1 0l1 .3l1 0l1 0l1-.9l1 0l1 0l1 .1l1 0l1 0l1 .2l1 0l1 0l1-.2l1 0l1 0l1 .2l1 0l1 0l1 .2l1 0l1-.1l1 .2l1-.1l1-.2l1-1l1-.5l1-1l1-.9l1-2.3l1-2.7l1-3.1l1-1l1 1l1 3.2l1 2.7l1 2.3l1 1.7l1 .9l1 .6l1 0l1 .2l1 .1l1-.4l1 0l1 .1l1 0l1 0l1 0l1 .5l1 0l1 0l1 .2l1 0l1 0l1-.9l1 0l1 0l1 .2l1 0l1 0l1 .8l1 0l1 0l1-.1l1 0l1 0l1-.7l1 0l1 0l1-.1l1 0l1 0l1-.1l1 0l1 0l1 .3l1 0l1 0l1 .7l1 0l1 0l1-.4l1 0l1 0l1-.4l1 0l1 0l1-.1l1 0l1 0l1 0l1 0l1 0l1 .3l1 0l1 0l1-.3l1 0l1 0l1 0l1 0l1 0l1 .5l1 0l1 0l1-.5l1 0l1 0l1-.1l1 0l1 0l1 0l1 0l1 0l1 .9l1 0l1 0l1-.2l1 0l1 0l1-.8l1 0l1 0l1 1.2l1 0l1 0l1-.1l1 0l1 0l1-1.1l1 0l1 0l1 1.1l1 0l1 0l1-1.1l1 0l1 0l1 .3l1 0l1 0l1-.1l1 0l1-.1l1 .6l1 0l1-.1l1 .2l1 0l1 0l1-.6l1 0l1 0l1 .4l1 0l1 0l1 .2l1-.1l1-.1l1-1l1-.4l1-.8l1-1.3l1-2l1-2l1-.3l1 1l1 2l1 1.1l1 1.4l1 .8l1 .8l1 .1l1 .1l1 0l1 .1l1 0l1 .4l1 0l1 0l1-.6l1 0l1 0l1 0l1 0l1 0l1 .7l1 0l1 0l1 .2l1 0l1 0l1-.8l1 0l1 0l1 .6l1 0l1 0l1-.4l1 0l1 0l1 .7l1 0l1 0l1-.2l1 0l1 0l1 0l1 0l1 0l1-.5l1 0l1 0l1 .3l1 0l1 0l1 .6l1 0l1 0l1-.6l1 0l1 0l1 .2l1 0l1 0l1 .1l1 0l1 0l1-.6l1 0l1 0l1 .1l1 0l1 0l1 .8l1 0l1 0l1-.4l1 0l1 0l1-.6l1 0l1 0l1 .4l1 0l1 0l1-.2l1 0l1 0l1 .4l1 0l1 0" stroke="#880000" stroke-width="7.0"/><path d="M199,1432.9l1 0l1 0l1 .4l1 0l1 0l1 .2l1 0l1 0l1-.9l1 0l1 0l1 .6l1 0l1 0l1-.1l1 0l1 0l1 0l1 0l1 0l1-.7l1 0l1 0l1-.1l1 0l1 0l1 .5l1 0l1 0l1 .4l1 0l1 0l1-.6l1 0l1 0l1 .3l1 0l1 0l1-.2l1 0l1 0l1 .6l1 0l1 0l1 .1l1 0l1 0l1-.6l1 0l1 0l1 .7l1 0l1 0l1-1.1l1 0l1 0l1 .9l1 0l1 0l1 .1l1 0l1 0l1-.9l1 0l1 0l1 .7l1 0l1 0l1-.2l1 0l1 0l1 .5l1 0l1 0l1-.9l1 0l1 0l1 .4l1 0l1 0l1 .4l1 0l1 0l1-.3l1 0l1 0l1-.4l1 0l1 0l1-.3l1 0l1 0l1 1l1 0l1 0l1-.5l1 0l1 0l1 .6l1 0l1 0l1-1l1 0l1 0l1 .8l1 0l1 0l1 0l1 0l1 0l1 .1l1 0l1 0l1-1.1l1 0l1 0l1 .5l1 0l1 0l1-.4l1 0l1 0l1 .8l1 0l1 0l1-.5l1 0l1 0l1 .8l1 0l1 0l1-.7l1 0l1 0l1 .4l1 0l1 0l1 .2l1 0l1 0l1-.8l1 0l1 0l1 .4l1 0l1 0l1 .5l1 0l1 0l1-.5l1 0l1 0l1-.2l1 0l1 0l1-.2l1 0l1 0l1 .7l1 0l1 0l1-.7l1 0l1 0l1 .4l1 0l1 0l1 0l1 0l1 0l1 0l1 0l1 0l1-.5l1 0l1 0l1 .6l1 0l1 0l1 .3l1 0l1 0l1-.7l1 0l1 0l1 0l1 0l1 0l1 .7l1 0l1 0l1-.4l1 0l1 0l1-.3l1 0l1 0l1-.4l1 0l1 0l1 .9l1 0l1 0l1-.5l1 0l1 0l1 .2l1 0l1 0l1-.2l1 0l1 0l1 .4l1 0l1 0l1 .1l1 0l1 0l1-.5l1 0l1 0l1-.3l1 0l1 0l1 1.1l1 0l1 0l1-.1l1 0l1 0l1-1l1 0l1 0l1 .6l1 0l1 0l1 .2l1 0l1 0l1-.4l1 0l1 0l1 .4l1 0l1 0l1 .3l1 0l1 0l1-.5l1 0l1 0l1-.2l1 0l1 0l1-.2l1 0l1 0l1 0l1 0l1 0l1-.1l1 0l1 0l1 0l1 0l1 0l1 .1l1 0l1 0l1 .7l1 0l1 0l1-.3l1 0l1 0l1 .3l1 0l1 0l1 .1l1 0l1 0l1-.1l1 0l1 0l1-.9l1 0l1 0l1 1.1l1 0l1 0l1-1l1 0l1 0l1 .8l1 0l1 0l1 0l1 0l1 0l1-.2l1 0l1 0l1-.3l1 0l1 0l1-.4l1 0l1 0l1 0l1 0l1 0l1 .7l1 0l1 0l1-.5l1 0l1 0l1 .4l1 0l1 0l1-.3l1 0l1 0l1-.2l1 0l1 0l1 .2l1 0l1 0l1 .5l1 0l1 0l1-.3l1 0l1 0l1-.1l1 0l1 0l1 .1l1 0l1 0l1 .1l1 0l1 0l1 0l1 0l1 0l1-.1l1 0l1 0l1 .6l1 0l1 0l1-.2l1 0l1 0l1-.7l1 0l1 0l1 .1l1 0l1 0l1-.1l1 0l1 0l1 .2l1 0l1 0l1-.4l1 0l1 0l1 .8l1 0l1 0l1-.2l1 0l1 0l1-.1l1 0l1 0l1 .5l1 0l1 0l1-.7l1 0l1 0l1 .3l1 .1l1 0l1 .4l1 0l1 0l1-.5l1 0l1 0l1 .1l1 0l1 0l1-.3l1 0l1 0l1 .8l1 0l1 0l1-.3l1 0l1 0l1-.6l1 0l1 0l1 .1l1 0l1 0l1 .3l1 0l1 0l1-.1l1 0l1 0l1 0l1 0l1 0l1-.4l1 0l1 0l1 .4l1 0l1 0l1 .2l1 0l1 0l1 .1l1 0l1 0l1-.4l1 0l1 0l1 0l1 0l1 0l1 .1l1 0l1 0l1 0l1 0l1 0l1-.1l1 0l1 0l1-.5l1 0l1 0l1 .3l1 0l1 0l1 .8l1 0l1 0l1-.2l1 0l1 0l1-.4l1 0l1 0l1 .4l1 0l1 0l1-.7l1 0l1 0l1 .1l1 0l1 0l1 .3l1 0l1 0l1 .2l1 0l1 0l1-.8l1 0l1 0l1 .5l1 0l1 0l1 .5l1 0l1 0l1-.3l1 0l1 0l1 .4l1 0l1 0l1-1l1 0l1 0l1 .9l1 0l1 0l1 0l1 0l1 0l1-1l1 0l1 0l1 .6l1 0l1 0l1 .3l1 0l1 0l1-.7l1 0l1 0l1 .5l1 0l1 0l1 .3l1 0l1 0l1-.1l1 0l1 0l1-.5l1 0l1 0l1-.4l1 0l1 0l1 .6l1 0l1 0l1-.5l1 0l1 0l1 .4l1 0l1 0l1-.3l1 0l1 0l1 .1l1 0l1 0l1 .2l1 0l1 0l1 .3l1 0l1 0l1 .2l1-.1l1 0l1-.7l1 0l1 0l1-.5l1-.1l1 0l1 .8l1 0l1-.1l1-.6l1-.1l1-.1l1 .3l1-.2l1-.3l1-.3l1-.5l1-1l1-2.9l1-5.1l1-12.7l1-23.4l1-31l1-16.5l1 15.9l1 31l1 24.3l1 12.8l1 5.1l1 1.9l1 1l1 .5l1 .4l1 .6l1 .2l1 .1l1-.2l1 .1l1 .1l1 .4l1 0l1 .1l1-.2l1 0l1 0l1-.1l1 0l1 0l1 .2l1 0l1 0l1 .5l1 0l1 .1l1-.5l1 0l1 0l1-.1l1 0l1 0l1 .2l1 0l1 0l1-.1l1 0l1 0l1 .9l1 0l1 0l1-.2l1 0l1 0l1-.8l1 0l1 0l1 .2l1 0l1 0l1 .2l1 0l1 0l1 .1l1 0l1 0l1-.2l1 0l1 0l1 .2l1 0l1 0l1 .3l1 0l1 0l1-.8l1 0l1 0l1 .5l1 0l1 0l1-.4l1 0l1 0l1 .4l1 0l1 0l1-.3l1 0l1 0l1 .6l1 0l1 0l1 .1l1 0l1-.1l1 .1l1-.2l1-.4l1-1.2l1-.2l1 .2l1 .8l1 .3l1 .2l1-.4l1 0l1 0l1 .7l1 0l1 0l1 .1l1 0l1 0l1-.4l1 0l1 0l1-.2l1 0l1 0l1 .6l1 0l1 0l1 0l1 0l1 0l1 0l1 0l1 0l1-.6l1 0l1 0l1-.1l1 0l1 0l1 .1l1 0l1-.1l1 0l1 0l1 0l1-.3l1 0l1 0l1 .2l1 0l1 0l1 .4l1-.1l1 0l1-.3l1-.4l1-.4l1 .3l1 .2l1 .5l1-.3l1 .2l1 0l1-.3l1-.1l1-.3l1 .3l1-.8l1-.4l1-.6l1 .8l1 .6l1 .6l1 .2l1 0l1 .5l1 .1l1 0l1-.6l1 0l1 0l1 .8l1 0l1 0l1-.3l1 0l1 0l1-.6l1 0l1 0l1 .6l1 0l1 0l1 0l1 0l1-.1l1-.5l1-.1l1 0l1-.6l1-.1l1-.1l1-.2l1-.2l1-.3l1 .5l1-.5l1-.7l1-1.1l1-2.6l1-6.5l1-16.6l1-31.2l1-39.8l1-21l1 21.2l1 39.8l1 31.2l1 16.3l1 6.5l1 1.9l1 1.2l1 .7l1 .5l1 .3l1 .3l1 1l1 .2l1 .1l1 .1l1 .1l1 0l1-.4l1 .1l1 0l1-.1l1 0l1 0l1-.2l1 0l1 .1l1 .4l1 0l1 0l1 .6l1 0l1 0l1-.8l1 0l1 0l1 .2l1 0l1 0l1-.4l1 .1l1 0l1 .6l1 0l1 0l1-.6l1 0l1 0l1 .8l1 0l1 0l1-.3l1 0l1 0l1 0l1 0l1 0l1-.2l1 0l1 0l1 0l1 0l1 0l1 .7l1 .1l1 0l1 0l1 0l1 0l1-.2l1 0l1 0l1-.7l1 0l1 0l1 0l1 0l1 0l1 .2l1 0l1 0l1 .6l1 0l1 .1l1 0l1 0l1 0l1-.8l1 0l1 0l1 .5l1 0l1 0l1-.3l1 0l1 0l1 .1l1 0l1 0l1-.4l1 0l1 0l1 .7l1 0l1 0l1 .1l1 0l1 0l1 .1l1 0l1 0l1-.5l1 0l1 0l1-.1l1 0l1 0l1 .3l1 0l1 0l1-.6l1 0l1 0l1 .9l1 0l1 0l1-.2l1 0l1 0l1-.6l1 0l1 0l1 .2l1 0l1 0l1 .1l1 0l1 0l1 .4l1 0l1 0l1-.1l1 0l1 0l1-.6l1 0l1 0l1 .9l1 0l1 0l1-.1l1 0l1 0l1 0l1 0l1 0l1-.5l1 0l1 0l1 0l1 0l1 0l1-.1l1 0l1 0l1 .7l1 0l1 0l1-.6l1 0l1 0l1 .6l1 0l1 0l1-.9l1 0l1 0l1-.2l1 0l1 0l1 .5l1 0l1 0l1-.3l1 0l1 0l1 0l1 0l1 0l1-.2l1 0l1 0l1 .1l1 0l1 0l1 .4l1 0l1 0l1-.5l1 0l1 0l1 .3l1 0l1 0l1 .4l1 0l1 0l1-.4l1 0l1 0l1 0l1 0l1 0l1 .1l1 0l1 0l1-.1l1 0l1 0l1 .3l1 0l1 0l1 .3l1 0l1 0l1-.9l1 0l1 0l1 .6l1 0l1 0l1 0l1 0l1 0l1 .4l1 0l1 0l1-.2l1 0l1 0l1-.5l1 0l1 0l1 .4l1 0l1 0l1 .3l1 0l1 0l1 .1l1 0l1 0l1-.2l1 0l1 0l1-.8l1 0l1 0l1 .3l1 0l1 0l1 .1l1 0l1 0l1-.2l1 0l1 0l1 .6l1 0l1 0l1-.4l1 0l1 0l1 .6l1 0l1 0l1-1.1l1 0l1 0l1 .9l1 0l1 0l1-.8l1 0l1 0l1 .5l1 0l1 0l1-.5l1 0l1 0l1 .3l1 0l1 0l1 .3l1 0l1 0l1 .4l1 0l1 0l1-1.1l1 0l1 0l1 .4l1 0l1 0l1-.3l1 0l1 0l1 .7l1 0l1 0l1-.7l1 0l1 0l1 .1l1 0l1 0l1 .7l1 0l1 0l1-.9l1 0l1 0l1 1l1 0l1 0l1-.7l1 0l1 0l1 .9l1 0l1 0l1-1.1l1 0l1 0l1 0l1 0l1 0l1 .4l1 0l1 0l1-.2l1 0l1 0l1 .4l1 0l1 0l1-.4l1 0l1 0l1 .1l1 0l1 0l1-.4l1 0l1 0l1 .1l1 0l1 0l1-.1l1 0l1 0l1 .5l1 0l1 0l1 .5l1 0l1 0l1-.4l1 0l1 0l1-.2l1 0l1 0l1 .1l1 0l1 0l1 .4l1 0l1 0l1 .1l1 0l1 0l1-.9l1 0l1 0l1 .6l1 0l1 0l1-.4l1 0l1 0l1 .8l1 0l1 0l1-.3l1 0l1 0l1-.1l1 0l1 0l1 .1l1 0l1 0l1 .1l1 0l1 0l1-.8l1 0l1 0l1 .3l1 0l1 0l1-.4l1 0l1 0l1 .2l1 0l1 0l1 .9l1 0l1 0l1-.4l1 0l1 0l1-.5l1 0l1 0l1 .1l1 0l1 0l1 .2l1 0l1 0l1-.4l1 0l1 0l1 .9l1 0l1 0l1-.6l1 0l1 0l1-.4l1 0l1 0l1 .6l1 0l1 0l1-.1l1 0l1 0l1 .4l1 0l1 0l1-.6l1 0l1 0l1 0l1 0l1 0l1 .3l1 0l1 0l1-.1l1 0l1 0l1-.4l1 0l1 0l1 .8l1 0l1 0l1 .1l1 0l1 0l1 0l1 0l1 0l1-.2l1 0l1 0l1-.3l1 0l1 0l1 .4l1 0l1 0l1-.7l1 0l1 0l1-.1l1 0l1 0l1 .1l1 0l1 0l1 .4l1 0l1 0l1-.4l1 0l1 0l1 .3l1 0l1 0l1 .5l1 0l1 0l1-.3l1 0l1 0l1-.5l1 0l1 0l1-.1l1 0l1 0l1-.1l1 0l1 0l1 0l1 0l1 0l1 .3l1 0l1 0l1 .5l1 0l1 0l1 .2l1 0l1 0l1-.6l1 0l1 0l1-.4l1 0l1 0l1 .7l1 0l1 0l1 .4l1 0l1 0l1-1.1l1 0l1 0l1 .7l1 0l1 0l1 .5l1 0l1 0l1-.8l1 0l1 0l1 .3l1 0l1 0l1 .3l1 0l1 0l1-.2l1 0l1 0l1-.6l1 0l1 0l1 .7l1 0l1 0l1-.2l1 0l1 0l1 .1l1 0l1 0l1-.1l1 0l1 0l1 .3l1 0l1 0l1-.3l1 0l1 0l1 .4l1 0l1 0l1-1l1 0l1 0l1-.1l1 0l1 0l1 .1l1 0l1 0l1 .5l1 0l1 0l1 .2l1 0l1 0l1 .3l1 0l1 0l1-1.1l1 0l1 0l1 0l1 0l1 0l1 .4l1 0l1 0l1 .3l1 0l1 0l1-.3l1 0l1 0l1-.1l1 0l1 0l1-.1l1 0l1 0l1 .6l1 0l1 0l1-.2l1 0l1 0l1 .4l1 0l1 0l1-.7l1-.1l1 0l1 .2l1 0l1 0l1 .5l1 0l1 0l1-.4l1 0l1-.1l1-.6l1-.1l1-.1l1 .4l1-.2l1-.3l1-.7l1-.8l1-1.6l1-4.9l1-10.3l1-17.7l1-19.1l1-4.5l1 15.4l1 20.1l1 13.4l1 6.4l1 2.2l1 1l1 .5l1 .2l1 .3l1 .1l1 .7l1 .1l1 .1l1-.5l1 .1l1 0l1 .3l1 0l1 0l1 .1l1 0l1 .1l1-.6l1 0l1 0l1 1l1 0l1 0l1-.7l1 0l1 0l1-.1l1 0l1 0l1 .5l1 0l1 0l1-.4l1 0l1 0l1-.2l1 0l1 0l1 .1l1 0l1 0l1-.1l1 0l1 0l1 .4l1 0l1 0l1 0l1 0l1 0l1-.2l1 0l1 0l1 0l1 0l1 0l1 .8l1 0l1 0l1-.3l1 0l1 0l1 0l1 0l1 0l1-.7l1 0l1 0l1 1.1l1 0l1 0l1-1.1l1 0l1 0l1 .9l1 0l1 0l1-.1l1 0l1 0l1-.3l1 0l1 0l1-.1l1 0l1 0l1 .3l1 0l1 0l1 0l1 0l1 0l1 .3l1 0l1 0l1-.9l1 0l1 0l1 0l1 0l1 0l1 .7l1 0l1 0l1-.4l1 0l1 0l1 .3l1 0l1 0l1-.2l1 0l1 0l1-.4l1 0l1 0l1 .9l1 0l1 0l1-.8l1 0l1 0l1 .2l1 0l1 0l1 .5l1 0l1 0l1 .2l1 0l1 0l1 0l1 0l1 0l1 0l1 0l1 0l1-.7l1 0l1 0l1-.1l1 0l1 0l1 .3l1 0l1 0l1 .4l1 0l1 0l1-.2l1 0l1 0l1 0l1 0l1 0l1 .1l1 0l1 0l1-.6l1 0l1 0l1 .4l1 0l1 0l1-.2l1 0l1 0l1 .6l1 0l1 0l1-.7l1 0l1 0l1 .3l1 0l1 0l1 .1l1 0l1 0l1 .1l1 0l1 0l1 .1l1 0l1 0l1-.1l1 0l1 0l1-.7l1 0l1 0l1 1l1 0l1 0l1-1.1l1 0l1 0l1 .8l1 0l1 0l1-.5l1 0l1 0l1-.2l1 0l1 0l1 .3l1 0l1 0l1-.3l1 0l1 0l1 .1l1 0l1 0l1 .9l1 0l1 0l1-.2l1 0l1 0l1-.5l1 0l1 0l1 .1l1 0l1 0l1 .2l1 0l1 0l1-.4l1 0l1 0l1-.2l1 0l1 0l1 .4l1 0l1 0l1 .5l1 0l1 0l1 .1l1 0l1 0l1-.4l1 0l1 0l1 .2l1 0l1 0l1-.5l1 0l1 0l1 .5l1 0l1 0l1 0l1 0l1 0l1 .1l1 0l1 0l1-.8l1 0l1 0l1 .4l1 0l1 0l1-.6l1 0l1 0l1 .6l1 0l1 0l1-.1l1 0l1 0l1 .2l1 0l1 0l1-.1l1 0l1 0l1-.2l1 0l1 0l1-.3l1 0l1 0l1 .2l1 0l1 0l1 .6l1 0l1 0l1-.6l1 0l1 0l1 .8l1 0l1 0l1-.1l1 0l1 0l1-.7l1 0l1 0l1 .2l1 0l1 0l1 .4l1 0l1 0l1-.9l1 0l1 0l1 .9l1 0l1 0l1-.5l1 0l1 0l1 .4l1 0l1 0l1-.8l1 0l1 0l1 .7l1 0l1 0l1-.7l1 0l1 0l1 .3l1 0l1 0l1 .4l1 0l1 0l1 0l1 0l1 0l1-.3l1 0l1 0l1-.1l1 0l1 0l1 .1l1 0l1 0l1-.1l1 0l1 0l1-.1l1 0l1 0l1 0l1 0l1 0l1 .3l1 0l1 0l1 .3l1 0l1 0l1 .1l1 0l1 0l1-.5l1 0l1 0l1 .7l1 0l1 0l1-.7l1 0l1 0l1 .5l1 0l1 0l1 0l1 0l1 0l1-.1l1 0l1 0l1 .2l1 0l1 0l1-.4l1 0l1 0l1 .3l1 0l1 0l1-.7l1 0l1 0l1 .2l1 0l1 0l1 0l1 0l1-.1l1-.1l1-.1l1-.1l1-.7l1-.4l1-.7l1-1.6l1-3.6l1-6l1-6.2l1-3.2l1 3.2l1 6.4l1 5.9l1 3.7l1 2.2l1 .7l1 .3l1 .3l1 .1l1 .1l1-.2l1 .1l1 0l1-.5l1 0l1 .1l1 .4l1 0l1 0l1 .6l1 0l1 0l1-.7l1 0l1 0l1-.3l1 0l1 0l1 .8l1 0l1 .1l1-.5l1 0l1 0l1-.2l1 0l1 0l1 .4l1 0l1 0l1 .4l1 0l1 0l1-.4l1 0l1 0l1-.4l1 0l1 0l1-.2l1 0l1 0l1 .5l1 0l1 0l1-.2l1 0l1 0l1 .8l1 0l1 0l1-.1l1 0l1 0l1 .1l1 0l1 0l1 0l1 0l1 0l1-.8l1 0l1 0l1 .4l1 0l1 0l1-.1l1 0l1 0l1 0l1 0l1 0l1 0l1 0l1 0l1-.4l1 0l1 0l1-.1l1 0l1 0l1-.1l1 0l1 0l1 .8l1 0l1 0l1-.6l1 0l1 0l1 .8l1 0l1 0l1-.3l1 0l1 0l1-.4l1 0l1 0l1 .7l1 0l1 0l1-1l1 0l1 0l1 .1l1 0l1 0l1 .7l1 0l1 0l1-.6l1 0l1 0l1 .6l1-.1l1-.1l1-.7l1-.5l1-1l1-2.9l1-3.8l1-4.8l1-1.9l1 1.4l1 4.5l1 4.5l1 2.8l1 1.5l1 0l1 .3l1 .1l1 .4l1 .1l1 0l1 0l1 0l1 .1l1-.7l1 0l1 0l1 .8l1 0l1 0l1-.3l1 0l1 0l1 .3l1 0l1 0l1-.8l1 0l1 0l1 .4l1 .1l1 0l1-.3l1 0l1 0l1 .9l1 0l1 0l1-1.1l1 0l1 0l1 0l1 0l1 0l1 .4l1 0l1 0l1 .6l1 0l1 0l1-.8l1 0l1 0l1 .6l1 0l1 0l1 .1l1 0l1 0l1-.2l1 0l1 0l1-.2l1 0l1 0l1 .4l1 0l1 0l1-.8l1 0l1 0l1 .2l1 0l1 0l1 .7l1 0l1 0l1-.7l1 0l1 0" stroke="#000000" stroke-width="11.0" stroke-opacity="0.22"/><path d="M199,1432.9l1 0l1 0l1 .4l1 0l1 0l1 .2l1 0l1 0l1-.9l1 0l1 0l1 .6l1 0l1 0l1-.1l1 0l1 0l1 0l1 0l1 0l1-.7l1 0l1 0l1-.1l1 0l1 0l1 .5l1 0l1 0l1 .4l1 0l1 0l1-.6l1 0l1 0l1 .3l1 0l1 0l1-.2l1 0l1 0l1 .6l1 0l1 0l1 .1l1 0l1 0l1-.6l1 0l1 0l1 .7l1 0l1 0l1-1.1l1 0l1 0l1 .9l1 0l1 0l1 .1l1 0l1 0l1-.9l1 0l1 0l1 .7l1 0l1 0l1-.2l1 0l1 0l1 .5l1 0l1 0l1-.9l1 0l1 0l1 .4l1 0l1 0l1 .4l1 0l1 0l1-.3l1 0l1 0l1-.4l1 0l1 0l1-.3l1 0l1 0l1 1l1 0l1 0l1-.5l1 0l1 0l1 .6l1 0l1 0l1-1l1 0l1 0l1 .8l1 0l1 0l1 0l1 0l1 0l1 .1l1 0l1 0l1-1.1l1 0l1 0l1 .5l1 0l1 0l1-.4l1 0l1 0l1 .8l1 0l1 0l1-.5l1 0l1 0l1 .8l1 0l1 0l1-.7l1 0l1 0l1 .4l1 0l1 0l1 .2l1 0l1 0l1-.8l1 0l1 0l1 .4l1 0l1 0l1 .5l1 0l1 0l1-.5l1 0l1 0l1-.2l1 0l1 0l1-.2l1 0l1 0l1 .7l1 0l1 0l1-.7l1 0l1 0l1 .4l1 0l1 0l1 0l1 0l1 0l1 0l1 0l1 0l1-.5l1 0l1 0l1 .6l1 0l1 0l1 .3l1 0l1 0l1-.7l1 0l1 0l1 0l1 0l1 0l1 .7l1 0l1 0l1-.4l1 0l1 0l1-.3l1 0l1 0l1-.4l1 0l1 0l1 .9l1 0l1 0l1-.5l1 0l1 0l1 .2l1 0l1 0l1-.2l1 0l1 0l1 .4l1 0l1 0l1 .1l1 0l1 0l1-.5l1 0l1 0l1-.3l1 0l1 0l1 1.1l1 0l1 0l1-.1l1 0l1 0l1-1l1 0l1 0l1 .6l1 0l1 0l1 .2l1 0l1 0l1-.4l1 0l1 0l1 .4l1 0l1 0l1 .3l1 0l1 0l1-.5l1 0l1 0l1-.2l1 0l1 0l1-.2l1 0l1 0l1 0l1 0l1 0l1-.1l1 0l1 0l1 0l1 0l1 0l1 .1l1 0l1 0l1 .7l1 0l1 0l1-.3l1 0l1 0l1 .3l1 0l1 0l1 .1l1 0l1 0l1-.1l1 0l1 0l1-.9l1 0l1 0l1 1.1l1 0l1 0l1-1l1 0l1 0l1 .8l1 0l1 0l1 0l1 0l1 0l1-.2l1 0l1 0l1-.3l1 0l1 0l1-.4l1 0l1 0l1 0l1 0l1 0l1 .7l1 0l1 0l1-.5l1 0l1 0l1 .4l1 0l1 0l1-.3l1 0l1 0l1-.2l1 0l1 0l1 .2l1 0l1 0l1 .5l1 0l1 0l1-.3l1 0l1 0l1-.1l1 0l1 0l1 .1l1 0l1 0l1 .1l1 0l1 0l1 0l1 0l1 0l1-.1l1 0l1 0l1 .6l1 0l1 0l1-.2l1 0l1 0l1-.7l1 0l1 0l1 .1l1 0l1 0l1-.1l1 0l1 0l1 .2l1 0l1 0l1-.4l1 0l1 0l1 .8l1 0l1 0l1-.2l1 0l1 0l1-.1l1 0l1 0l1 .5l1 0l1 0l1-.7l1 0l1 0l1 .3l1 .1l1 0l1 .4l1 0l1 0l1-.5l1 0l1 0l1 .1l1 0l1 0l1-.3l1 0l1 0l1 .8l1 0l1 0l1-.3l1 0l1 0l1-.6l1 0l1 0l1 .1l1 0l1 0l1 .3l1 0l1 0l1-.1l1 0l1 0l1 0l1 0l1 0l1-.4l1 0l1 0l1 .4l1 0l1 0l1 .2l1 0l1 0l1 .1l1 0l1 0l1-.4l1 0l1 0l1 0l1 0l1 0l1 .1l1 0l1 0l1 0l1 0l1 0l1-.1l1 0l1 0l1-.5l1 0l1 0l1 .3l1 0l1 0l1 .8l1 0l1 0l1-.2l1 0l1 0l1-.4l1 0l1 0l1 .4l1 0l1 0l1-.7l1 0l1 0l1 .1l1 0l1 0l1 .3l1 0l1 0l1 .2l1 0l1 0l1-.8l1 0l1 0l1 .5l1 0l1 0l1 .5l1 0l1 0l1-.3l1 0l1 0l1 .4l1 0l1 0l1-1l1 0l1 0l1 .9l1 0l1 0l1 0l1 0l1 0l1-1l1 0l1 0l1 .6l1 0l1 0l1 .3l1 0l1 0l1-.7l1 0l1 0l1 .5l1 0l1 0l1 .3l1 0l1 0l1-.1l1 0l1 0l1-.5l1 0l1 0l1-.4l1 0l1 0l1 .6l1 0l1 0l1-.5l1 0l1 0l1 .4l1 0l1 0l1-.3l1 0l1 0l1 .1l1 0l1 0l1 .2l1 0l1 0l1 .3l1 0l1 0l1 .2l1-.1l1 0l1-.7l1 0l1 0l1-.5l1-.1l1 0l1 .8l1 0l1-.1l1-.6l1-.1l1-.1l1 .3l1-.2l1-.3l1-.3l1-.5l1-1l1-2.9l1-5.1l1-12.7l1-23.4l1-31l1-16.5l1 15.9l1 31l1 24.3l1 12.8l1 5.1l1 1.9l1 1l1 .5l1 .4l1 .6l1 .2l1 .1l1-.2l1 .1l1 .1l1 .4l1 0l1 .1l1-.2l1 0l1 0l1-.1l1 0l1 0l1 .2l1 0l1 0l1 .5l1 0l1 .1l1-.5l1 0l1 0l1-.1l1 0l1 0l1 .2l1 0l1 0l1-.1l1 0l1 0l1 .9l1 0l1 0l1-.2l1 0l1 0l1-.8l1 0l1 0l1 .2l1 0l1 0l1 .2l1 0l1 0l1 .1l1 0l1 0l1-.2l1 0l1 0l1 .2l1 0l1 0l1 .3l1 0l1 0l1-.8l1 0l1 0l1 .5l1 0l1 0l1-.4l1 0l1 0l1 .4l1 0l1 0l1-.3l1 0l1 0l1 .6l1 0l1 0l1 .1l1 0l1-.1l1 .1l1-.2l1-.4l1-1.2l1-.2l1 .2l1 .8l1 .3l1 .2l1-.4l1 0l1 0l1 .7l1 0l1 0l1 .1l1 0l1 0l1-.4l1 0l1 0l1-.2l1 0l1 0l1 .6l1 0l1 0l1 0l1 0l1 0l1 0l1 0l1 0l1-.6l1 0l1 0l1-.1l1 0l1 0l1 .1l1 0l1-.1l1 0l1 0l1 0l1-.3l1 0l1 0l1 .2l1 0l1 0l1 .4l1-.1l1 0l1-.3l1-.4l1-.4l1 .3l1 .2l1 .5l1-.3l1 .2l1 0l1-.3l1-.1l1-.3l1 .3l1-.8l1-.4l1-.6l1 .8l1 .6l1 .6l1 .2l1 0l1 .5l1 .1l1 0l1-.6l1 0l1 0l1 .8l1 0l1 0l1-.3l1 0l1 0l1-.6l1 0l1 0l1 .6l1 0l1 0l1 0l1 0l1-.1l1-.5l1-.1l1 0l1-.6l1-.1l1-.1l1-.2l1-.2l1-.3l1 .5l1-.5l1-.7l1-1.1l1-2.6l1-6.5l1-16.6l1-31.2l1-39.8l1-21l1 21.2l1 39.8l1 31.2l1 16.3l1 6.5l1 1.9l1 1.2l1 .7l1 .5l1 .3l1 .3l1 1l1 .2l1 .1l1 .1l1 .1l1 0l1-.4l1 .1l1 0l1-.1l1 0l1 0l1-.2l1 0l1 .1l1 .4l1 0l1 0l1 .6l1 0l1 0l1-.8l1 0l1 0l1 .2l1 0l1 0l1-.4l1 .1l1 0l1 .6l1 0l1 0l1-.6l1 0l1 0l1 .8l1 0l1 0l1-.3l1 0l1 0l1 0l1 0l1 0l1-.2l1 0l1 0l1 0l1 0l1 0l1 .7l1 .1l1 0l1 0l1 0l1 0l1-.2l1 0l1 0l1-.7l1 0l1 0l1 0l1 0l1 0l1 .2l1 0l1 0l1 .6l1 0l1 .1l1 0l1 0l1 0l1-.8l1 0l1 0l1 .5l1 0l1 0l1-.3l1 0l1 0l1 .1l1 0l1 0l1-.4l1 0l1 0l1 .7l1 0l1 0l1 .1l1 0l1 0l1 .1l1 0l1 0l1-.5l1 0l1 0l1-.1l1 0l1 0l1 .3l1 0l1 0l1-.6l1 0l1 0l1 .9l1 0l1 0l1-.2l1 0l1 0l1-.6l1 0l1 0l1 .2l1 0l1 0l1 .1l1 0l1 0l1 .4l1 0l1 0l1-.1l1 0l1 0l1-.6l1 0l1 0l1 .9l1 0l1 0l1-.1l1 0l1 0l1 0l1 0l1 0l1-.5l1 0l1 0l1 0l1 0l1 0l1-.1l1 0l1 0l1 .7l1 0l1 0l1-.6l1 0l1 0l1 .6l1 0l1 0l1-.9l1 0l1 0l1-.2l1 0l1 0l1 .5l1 0l1 0l1-.3l1 0l1 0l1 0l1 0l1 0l1-.2l1 0l1 0l1 .1l1 0l1 0l1 .4l1 0l1 0l1-.5l1 0l1 0l1 .3l1 0l1 0l1 .4l1 0l1 0l1-.4l1 0l1 0l1 0l1 0l1 0l1 .1l1 0l1 0l1-.1l1 0l1 0l1 .3l1 0l1 0l1 .3l1 0l1 0l1-.9l1 0l1 0l1 .6l1 0l1 0l1 0l1 0l1 0l1 .4l1 0l1 0l1-.2l1 0l1 0l1-.5l1 0l1 0l1 .4l1 0l1 0l1 .3l1 0l1 0l1 .1l1 0l1 0l1-.2l1 0l1 0l1-.8l1 0l1 0l1 .3l1 0l1 0l1 .1l1 0l1 0l1-.2l1 0l1 0l1 .6l1 0l1 0l1-.4l1 0l1 0l1 .6l1 0l1 0l1-1.1l1 0l1 0l1 .9l1 0l1 0l1-.8l1 0l1 0l1 .5l1 0l1 0l1-.5l1 0l1 0l1 .3l1 0l1 0l1 .3l1 0l1 0l1 .4l1 0l1 0l1-1.1l1 0l1 0l1 .4l1 0l1 0l1-.3l1 0l1 0l1 .7l1 0l1 0l1-.7l1 0l1 0l1 .1l1 0l1 0l1 .7l1 0l1 0l1-.9l1 0l1 0l1 1l1 0l1 0l1-.7l1 0l1 0l1 .9l1 0l1 0l1-1.1l1 0l1 0l1 0l1 0l1 0l1 .4l1 0l1 0l1-.2l1 0l1 0l1 .4l1 0l1 0l1-.4l1 0l1 0l1 .1l1 0l1 0l1-.4l1 0l1 0l1 .1l1 0l1 0l1-.1l1 0l1 0l1 .5l1 0l1 0l1 .5l1 0l1 0l1-.4l1 0l1 0l1-.2l1 0l1 0l1 .1l1 0l1 0l1 .4l1 0l1 0l1 .1l1 0l1 0l1-.9l1 0l1 0l1 .6l1 0l1 0l1-.4l1 0l1 0l1 .8l1 0l1 0l1-.3l1 0l1 0l1-.1l1 0l1 0l1 .1l1 0l1 0l1 .1l1 0l1 0l1-.8l1 0l1 0l1 .3l1 0l1 0l1-.4l1 0l1 0l1 .2l1 0l1 0l1 .9l1 0l1 0l1-.4l1 0l1 0l1-.5l1 0l1 0l1 .1l1 0l1 0l1 .2l1 0l1 0l1-.4l1 0l1 0l1 .9l1 0l1 0l1-.6l1 0l1 0l1-.4l1 0l1 0l1 .6l1 0l1 0l1-.1l1 0l1 0l1 .4l1 0l1 0l1-.6l1 0l1 0l1 0l1 0l1 0l1 .3l1 0l1 0l1-.1l1 0l1 0l1-.4l1 0l1 0l1 .8l1 0l1 0l1 .1l1 0l1 0l1 0l1 0l1 0l1-.2l1 0l1 0l1-.3l1 0l1 0l1 .4l1 0l1 0l1-.7l1 0l1 0l1-.1l1 0l1 0l1 .1l1 0l1 0l1 .4l1 0l1 0l1-.4l1 0l1 0l1 .3l1 0l1 0l1 .5l1 0l1 0l1-.3l1 0l1 0l1-.5l1 0l1 0l1-.1l1 0l1 0l1-.1l1 0l1 0l1 0l1 0l1 0l1 .3l1 0l1 0l1 .5l1 0l1 0l1 .2l1 0l1 0l1-.6l1 0l1 0l1-.4l1 0l1 0l1 .7l1 0l1 0l1 .4l1 0l1 0l1-1.1l1 0l1 0l1 .7l1 0l1 0l1 .5l1 0l1 0l1-.8l1 0l1 0l1 .3l1 0l1 0l1 .3l1 0l1 0l1-.2l1 0l1 0l1-.6l1 0l1 0l1 .7l1 0l1 0l1-.2l1 0l1 0l1 .1l1 0l1 0l1-.1l1 0l1 0l1 .3l1 0l1 0l1-.3l1 0l1 0l1 .4l1 0l1 0l1-1l1 0l1 0l1-.1l1 0l1 0l1 .1l1 0l1 0l1 .5l1 0l1 0l1 .2l1 0l1 0l1 .3l1 0l1 0l1-1.1l1 0l1 0l1 0l1 0l1 0l1 .4l1 0l1 0l1 .3l1 0l1 0l1-.3l1 0l1 0l1-.1l1 0l1 0l1-.1l1 0l1 0l1 .6l1 0l1 0l1-.2l1 0l1 0l1 .4l1 0l1 0l1-.7l1-.1l1 0l1 .2l1 0l1 0l1 .5l1 0l1 0l1-.4l1 0l1-.1l1-.6l1-.1l1-.1l1 .4l1-.2l1-.3l1-.7l1-.8l1-1.6l1-4.9l1-10.3l1-17.7l1-19.1l1-4.5l1 15.4l1 20.1l1 13.4l1 6.4l1 2.2l1 1l1 .5l1 .2l1 .3l1 .1l1 .7l1 .1l1 .1l1-.5l1 .1l1 0l1 .3l1 0l1 0l1 .1l1 0l1 .1l1-.6l1 0l1 0l1 1l1 0l1 0l1-.7l1 0l1 0l1-.1l1 0l1 0l1 .5l1 0l1 0l1-.4l1 0l1 0l1-.2l1 0l1 0l1 .1l1 0l1 0l1-.1l1 0l1 0l1 .4l1 0l1 0l1 0l1 0l1 0l1-.2l1 0l1 0l1 0l1 0l1 0l1 .8l1 0l1 0l1-.3l1 0l1 0l1 0l1 0l1 0l1-.7l1 0l1 0l1 1.1l1 0l1 0l1-1.1l1 0l1 0l1 .9l1 0l1 0l1-.1l1 0l1 0l1-.3l1 0l1 0l1-.1l1 0l1 0l1 .3l1 0l1 0l1 0l1 0l1 0l1 .3l1 0l1 0l1-.9l1 0l1 0l1 0l1 0l1 0l1 .7l1 0l1 0l1-.4l1 0l1 0l1 .3l1 0l1 0l1-.2l1 0l1 0l1-.4l1 0l1 0l1 .9l1 0l1 0l1-.8l1 0l1 0l1 .2l1 0l1 0l1 .5l1 0l1 0l1 .2l1 0l1 0l1 0l1 0l1 0l1 0l1 0l1 0l1-.7l1 0l1 0l1-.1l1 0l1 0l1 .3l1 0l1 0l1 .4l1 0l1 0l1-.2l1 0l1 0l1 0l1 0l1 0l1 .1l1 0l1 0l1-.6l1 0l1 0l1 .4l1 0l1 0l1-.2l1 0l1 0l1 .6l1 0l1 0l1-.7l1 0l1 0l1 .3l1 0l1 0l1 .1l1 0l1 0l1 .1l1 0l1 0l1 .1l1 0l1 0l1-.1l1 0l1 0l1-.7l1 0l1 0l1 1l1 0l1 0l1-1.1l1 0l1 0l1 .8l1 0l1 0l1-.5l1 0l1 0l1-.2l1 0l1 0l1 .3l1 0l1 0l1-.3l1 0l1 0l1 .1l1 0l1 0l1 .9l1 0l1 0l1-.2l1 0l1 0l1-.5l1 0l1 0l1 .1l1 0l1 0l1 .2l1 0l1 0l1-.4l1 0l1 0l1-.2l1 0l1 0l1 .4l1 0l1 0l1 .5l1 0l1 0l1 .1l1 0l1 0l1-.4l1 0l1 0l1 .2l1 0l1 0l1-.5l1 0l1 0l1 .5l1 0l1 0l1 0l1 0l1 0l1 .1l1 0l1 0l1-.8l1 0l1 0l1 .4l1 0l1 0l1-.6l1 0l1 0l1 .6l1 0l1 0l1-.1l1 0l1 0l1 .2l1 0l1 0l1-.1l1 0l1 0l1-.2l1 0l1 0l1-.3l1 0l1 0l1 .2l1 0l1 0l1 .6l1 0l1 0l1-.6l1 0l1 0l1 .8l1 0l1 0l1-.1l1 0l1 0l1-.7l1 0l1 0l1 .2l1 0l1 0l1 .4l1 0l1 0l1-.9l1 0l1 0l1 .9l1 0l1 0l1-.5l1 0l1 0l1 .4l1 0l1 0l1-.8l1 0l1 0l1 .7l1 0l1 0l1-.7l1 0l1 0l1 .3l1 0l1 0l1 .4l1 0l1 0l1 0l1 0l1 0l1-.3l1 0l1 0l1-.1l1 0l1 0l1 .1l1 0l1 0l1-.1l1 0l1 0l1-.1l1 0l1 0l1 0l1 0l1 0l1 .3l1 0l1 0l1 .3l1 0l1 0l1 .1l1 0l1 0l1-.5l1 0l1 0l1 .7l1 0l1 0l1-.7l1 0l1 0l1 .5l1 0l1 0l1 0l1 0l1 0l1-.1l1 0l1 0l1 .2l1 0l1 0l1-.4l1 0l1 0l1 .3l1 0l1 0l1-.7l1 0l1 0l1 .2l1 0l1 0l1 0l1 0l1-.1l1-.1l1-.1l1-.1l1-.7l1-.4l1-.7l1-1.6l1-3.6l1-6l1-6.2l1-3.2l1 3.2l1 6.4l1 5.9l1 3.7l1 2.2l1 .7l1 .3l1 .3l1 .1l1 .1l1-.2l1 .1l1 0l1-.5l1 0l1 .1l1 .4l1 0l1 0l1 .6l1 0l1 0l1-.7l1 0l1 0l1-.3l1 0l1 0l1 .8l1 0l1 .1l1-.5l1 0l1 0l1-.2l1 0l1 0l1 .4l1 0l1 0l1 .4l1 0l1 0l1-.4l1 0l1 0l1-.4l1 0l1 0l1-.2l1 0l1 0l1 .5l1 0l1 0l1-.2l1 0l1 0l1 .8l1 0l1 0l1-.1l1 0l1 0l1 .1l1 0l1 0l1 0l1 0l1 0l1-.8l1 0l1 0l1 .4l1 0l1 0l1-.1l1 0l1 0l1 0l1 0l1 0l1 0l1 0l1 0l1-.4l1 0l1 0l1-.1l1 0l1 0l1-.1l1 0l1 0l1 .8l1 0l1 0l1-.6l1 0l1 0l1 .8l1 0l1 0l1-.3l1 0l1 0l1-.4l1 0l1 0l1 .7l1 0l1 0l1-1l1 0l1 0l1 .1l1 0l1 0l1 .7l1 0l1 0l1-.6l1 0l1 0l1 .6l1-.1l1-.1l1-.7l1-.5l1-1l1-2.9l1-3.8l1-4.8l1-1.9l1 1.4l1 4.5l1 4.5l1 2.8l1 1.5l1 0l1 .3l1 .1l1 .4l1 .1l1 0l1 0l1 0l1 .1l1-.7l1 0l1 0l1 .8l1 0l1 0l1-.3l1 0l1 0l1 .3l1 0l1 0l1-.8l1 0l1 0l1 .4l1 .1l1 0l1-.3l1 0l1 0l1 .9l1 0l1 0l1-1.1l1 0l1 0l1 0l1 0l1 0l1 .4l1 0l1 0l1 .6l1 0l1 0l1-.8l1 0l1 0l1 .6l1 0l1 0l1 .1l1 0l1 0l1-.2l1 0l1 0l1-.2l1 0l1 0l1 .4l1 0l1 0l1-.8l1 0l1 0l1 .2l1 0l1 0l1 .7l1 0l1 0l1-.7l1 0l1 0" stroke="#000000" stroke-width="7.0"/></g><g stroke="#000" stroke-width="7.6" fill="none"><path d="M199,40.2V1597.9M2285.9,40V1597.9M198.1,41.3H2286.7M195.2,1594.2H2289.8"/><path d="M193,245H2289.8" stroke-width="7.3"/><path d="M373.0,1578.5V1594M546.7,1563.1V1594M720.1,1578.5V1594M894.0,1563.1V1594M1067.7,1578.5V1594M1241.3,1563.1V1594M1414.8,1578.5V1594M1588.7,1563.1V1594M1764.9,1578.5V1594M1938.5,1563.1V1594M2112.0,1578.5V1594" stroke-width="7.7"/></g><path d="M766.9,1517.6H774.3V1596H766.9ZM774.3,1519.8H777.0V1596H774.3ZM971.0,1485.0H973.5V1596H971.0ZM973.5,1482.3H980.7V1596H973.5ZM1635.0,1538.3H1644.6V1596H1635.0ZM2058.5,1573.0H2061.0V1596H2058.5ZM2061.0,1570.6H2068.0V1596H2061.0ZM2068.0,1573.0H2070.7V1596H2068.0ZM2194.0,1578.3H2204.0V1596H2194.0Z" fill="#8000ff"/><text x="1542" y="204.3" fill="#000" font-family='"Liberation Serif", "Times New Roman", serif' font-weight="bold" font-size="65" text-anchor="start" transform="translate(1542.50,0) scale(1.00892,1) translate(-1543.00,0)"><tspan>WO</tspan><tspan font-size="41.0">3</tspan><tspan>   JCPDS No. 43-1035</tspan></text><text x="2121" y="422.4" fill="#0000ff" font-family='"Liberation Serif", "Times New Roman", serif' font-weight="bold" font-size="65" text-anchor="start" transform="translate(2123.40,0) scale(1.00448,1) translate(-2122.00,0)"><tspan>WO</tspan><tspan font-size="41.0">3</tspan></text><text x="1862" y="586.4" fill="#ff00ff" font-family='"Liberation Serif", "Times New Roman", serif' font-weight="bold" font-size="65" text-anchor="start" transform="translate(1866.30,0) scale(1.00860,1) translate(-1867.00,0)"><tspan>10%WO</tspan><tspan font-size="42.9" dy="16.7">3</tspan><tspan dy="-16.7">/CoO</tspan></text><text x="1853" y="746.8" fill="#f08228" font-family='"Liberation Serif", "Times New Roman", serif' font-weight="bold" font-size="65" text-anchor="start" transform="translate(1857.30,0) scale(1.01049,1) translate(-1855.00,0)"><tspan>30%WO</tspan><tspan font-size="42.9" dy="16.7">3</tspan><tspan dy="-16.7">/CoO</tspan></text><text x="1856" y="923.0" fill="#ff0000" font-family='"Liberation Serif", "Times New Roman", serif' font-weight="bold" font-size="65" text-anchor="start" transform="translate(1860.40,0) scale(1.01073,1) translate(-1858.00,0)"><tspan>50%WO</tspan><tspan font-size="42.9" dy="16.7">3</tspan><tspan dy="-16.7">/CoO</tspan></text><text x="1860" y="1069.5" fill="#009200" font-family='"Liberation Serif", "Times New Roman", serif' font-weight="bold" font-size="65" text-anchor="start" transform="translate(1863.60,0) scale(1.01027,1) translate(-1863.00,0)"><tspan>70%WO</tspan><tspan font-size="42.9" dy="16.7">3</tspan><tspan dy="-16.7">/CoO</tspan></text><text x="1860" y="1237.8" fill="#880000" font-family='"Liberation Serif", "Times New Roman", serif' font-weight="bold" font-size="65" text-anchor="start" transform="translate(1863.60,0) scale(1.00780,1) translate(-1862.00,0)"><tspan>90%WO</tspan><tspan font-size="42.9" dy="16.7">3</tspan><tspan dy="-16.7">/CoO</tspan></text><text x="2146" y="1393.7" fill="#000" font-family='"Liberation Serif", "Times New Roman", serif' font-weight="bold" font-size="64" text-anchor="start" transform="translate(2148.30,0) scale(1.04016,1) translate(-2149.00,0)"><tspan>CoO</tspan></text><text x="1567" y="1534.8" fill="#000" font-family='"Liberation Serif", "Times New Roman", serif' font-weight="bold" font-size="64" text-anchor="start" transform="translate(1569.60,0) scale(1.02768,1) translate(-1570.00,0)"><tspan>CoO  JCPDS No. 71-1178</tspan></text><text x="197.6" y="1688.3" fill="#000" font-family='"Liberation Serif", "Times New Roman", serif' font-weight="bold" font-size="79" text-anchor="middle" transform="translate(159.70,0) scale(1.03836,1) translate(-161.00,0)"><tspan>20</tspan></text><text x="544.2" y="1688.3" fill="#000" font-family='"Liberation Serif", "Times New Roman", serif' font-weight="bold" font-size="79" text-anchor="middle" transform="translate(505.30,0) scale(1.05000,1) translate(-507.00,0)"><tspan>30</tspan></text><text x="892.0" y="1688.3" fill="#000" font-family='"Liberation Serif", "Times New Roman", serif' font-weight="bold" font-size="79" text-anchor="middle" transform="translate(853.20,0) scale(1.01974,1) translate(-853.00,0)"><tspan>40</tspan></text><text x="1239.5" y="1688.3" fill="#000" font-family='"Liberation Serif", "Times New Roman", serif' font-weight="bold" font-size="79" text-anchor="middle" transform="translate(1201.60,0) scale(1.03836,1) translate(-1203.00,0)"><tspan>50</tspan></text><text x="1587.2" y="1688.3" fill="#000" font-family='"Liberation Serif", "Times New Roman", serif' font-weight="bold" font-size="79" text-anchor="middle" transform="translate(1549.00,0) scale(1.03108,1) translate(-1550.00,0)"><tspan>60</tspan></text><text x="1937.4" y="1688.3" fill="#000" font-family='"Liberation Serif", "Times New Roman", serif' font-weight="bold" font-size="79" text-anchor="middle" transform="translate(1899.50,0) scale(1.05139,1) translate(-1902.00,0)"><tspan>70</tspan></text><text x="2284.4" y="1688.3" fill="#000" font-family='"Liberation Serif", "Times New Roman", serif' font-weight="bold" font-size="79" text-anchor="middle" transform="translate(2246.90,0) scale(1.01216,1) translate(-2247.00,0)"><tspan>80</tspan></text><text x="1240" y="1831.5" fill="#000" font-family='"Liberation Serif", "Times New Roman", serif' font-weight="bold" font-size="102" text-anchor="middle" transform="translate(928.60,0) scale(1.00808,1) translate(-930.00,0)"><tspan>2theta(degree)</tspan></text><text x="0" y="0" transform="translate(101.9,831.3) rotate(-90) translate(-303.10,0) scale(0.97460,1) translate(311.70,0)" fill="#000" font-family='"Liberation Serif", "Times New Roman", serif' font-weight="bold" font-size="105" text-anchor="middle">Intensity(a.u.)</text></svg>
</body></html>
